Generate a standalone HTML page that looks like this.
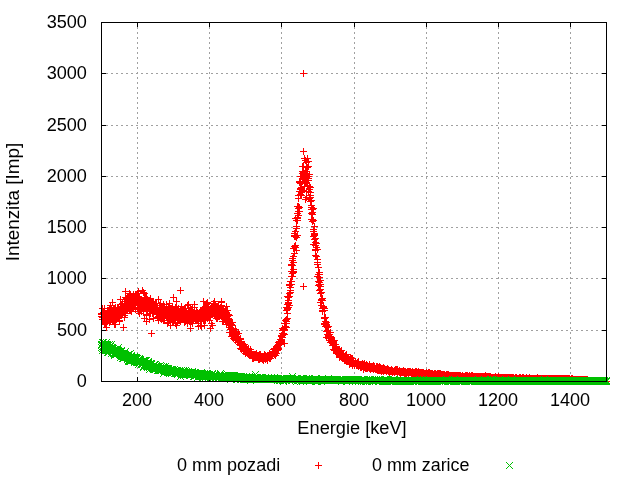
<!DOCTYPE html><html><head><meta charset="utf-8"><style>html,body{margin:0;padding:0;background:#fff;}
body{width:640px;height:480px;position:relative;overflow:hidden;font-family:"Liberation Sans",sans-serif;}
.t{will-change:transform;position:absolute;font-size:17.5px;line-height:20px;height:20px;color:#000;white-space:nowrap;}
.yl{right:553px;transform-origin:100% 50%;transform:scaleX(1.035);text-align:right;}
.xl{width:80px;text-align:center;transform:scaleX(1.03);}
svg{position:absolute;left:0;top:0;}</style></head><body><svg width="640" height="480" viewBox="0 0 640 480" shape-rendering="crispEdges"><path d="M137.5 22V381M209.5 22V381M281.5 22V381M354.5 22V381M426.5 22V381M498.5 22V381M570.5 22V381M101 330.5H606M101 278.5H606M101 227.5H606M101 176.5H606M101 125.5H606M101 73.5H606" stroke="#a0a0a0" stroke-width="1" stroke-dasharray="2 3" fill="none"/><path d="M137.5 381V377M137.5 23v4M209.5 381V377M209.5 23v4M281.5 381V377M281.5 23v4M354.5 381V377M354.5 23v4M426.5 381V377M426.5 23v4M498.5 381V377M498.5 23v4M570.5 381V377M570.5 23v4M102 330.5h4M606 330.5h-4M102 278.5h4M606 278.5h-4M102 227.5h4M606 227.5h-4M102 176.5h4M606 176.5h-4M102 125.5h4M606 125.5h-4M102 73.5h4M606 73.5h-4" stroke="#000" stroke-width="1" fill="none"/><path d="M98 314.5h7M101.5 311v7M98 313.5h7M101.5 310v7M98 316.5h7M101.5 313v7M99 319.5h7M102.5 316v7M99 317.5h7M102.5 314v7M99 319.5h7M102.5 316v7M99 314.5h7M102.5 311v7M99 308.5h7M102.5 305v7M99 317.5h7M102.5 314v7M100 317.5h7M103.5 314v7M100 312.5h7M103.5 309v7M100 313.5h7M103.5 310v7M100 314.5h7M103.5 311v7M100 319.5h7M103.5 316v7M101 315.5h7M104.5 312v7M101 308.5h7M104.5 305v7M101 321.5h7M104.5 318v7M101 317.5h7M104.5 314v7M101 324.5h7M104.5 321v7M101 321.5h7M104.5 318v7M102 323.5h7M105.5 320v7M102 316.5h7M105.5 313v7M102 321.5h7M105.5 318v7M102 313.5h7M105.5 310v7M102 314.5h7M105.5 311v7M103 315.5h7M106.5 312v7M103 327.5h7M106.5 324v7M103 317.5h7M106.5 314v7M103 315.5h7M106.5 312v7M103 314.5h7M106.5 311v7M103 322.5h7M106.5 319v7M104 317.5h7M107.5 314v7M104 319.5h7M107.5 316v7M104 319.5h7M107.5 316v7M104 310.5h7M107.5 307v7M104 319.5h7M107.5 316v7M104 315.5h7M107.5 312v7M105 310.5h7M108.5 307v7M105 318.5h7M108.5 315v7M105 315.5h7M108.5 312v7M105 314.5h7M108.5 311v7M105 314.5h7M108.5 311v7M106 321.5h7M109.5 318v7M106 314.5h7M109.5 311v7M106 308.5h7M109.5 305v7M106 322.5h7M109.5 319v7M106 311.5h7M109.5 308v7M106 314.5h7M109.5 311v7M107 318.5h7M110.5 315v7M107 305.5h7M110.5 302v7M107 311.5h7M110.5 308v7M107 321.5h7M110.5 318v7M107 314.5h7M110.5 311v7M108 312.5h7M111.5 309v7M108 316.5h7M111.5 313v7M108 311.5h7M111.5 308v7M108 315.5h7M111.5 312v7M108 312.5h7M111.5 309v7M108 308.5h7M111.5 305v7M109 318.5h7M112.5 315v7M109 314.5h7M112.5 311v7M109 317.5h7M112.5 314v7M109 314.5h7M112.5 311v7M109 320.5h7M112.5 317v7M110 317.5h7M113.5 314v7M110 316.5h7M113.5 313v7M110 310.5h7M113.5 307v7M110 309.5h7M113.5 306v7M110 321.5h7M113.5 318v7M110 318.5h7M113.5 315v7M111 311.5h7M114.5 308v7M111 324.5h7M114.5 321v7M111 317.5h7M114.5 314v7M111 315.5h7M114.5 312v7M111 308.5h7M114.5 305v7M112 311.5h7M115.5 308v7M112 316.5h7M115.5 313v7M112 316.5h7M115.5 313v7M112 315.5h7M115.5 312v7M112 307.5h7M115.5 304v7M112 316.5h7M115.5 313v7M113 317.5h7M116.5 314v7M113 310.5h7M116.5 307v7M113 314.5h7M116.5 311v7M113 314.5h7M116.5 311v7M113 319.5h7M116.5 316v7M114 313.5h7M117.5 310v7M114 315.5h7M117.5 312v7M114 307.5h7M117.5 304v7M114 309.5h7M117.5 306v7M114 313.5h7M117.5 310v7M114 309.5h7M117.5 306v7M115 314.5h7M118.5 311v7M115 307.5h7M118.5 304v7M115 312.5h7M118.5 309v7M115 309.5h7M118.5 306v7M115 318.5h7M118.5 315v7M115 310.5h7M118.5 307v7M116 320.5h7M119.5 317v7M116 321.5h7M119.5 318v7M116 313.5h7M119.5 310v7M116 315.5h7M119.5 312v7M116 310.5h7M119.5 307v7M117 299.5h7M120.5 296v7M117 315.5h7M120.5 312v7M117 313.5h7M120.5 310v7M117 309.5h7M120.5 306v7M117 307.5h7M120.5 304v7M117 311.5h7M120.5 308v7M118 311.5h7M121.5 308v7M118 306.5h7M121.5 303v7M118 304.5h7M121.5 301v7M118 314.5h7M121.5 311v7M118 309.5h7M121.5 306v7M119 308.5h7M122.5 305v7M119 314.5h7M122.5 311v7M119 307.5h7M122.5 304v7M119 312.5h7M122.5 309v7M119 303.5h7M122.5 300v7M119 306.5h7M122.5 303v7M120 307.5h7M123.5 304v7M120 310.5h7M123.5 307v7M120 307.5h7M123.5 304v7M120 327.5h7M123.5 324v7M120 312.5h7M123.5 309v7M121 304.5h7M124.5 301v7M121 317.5h7M124.5 314v7M121 301.5h7M124.5 298v7M121 315.5h7M124.5 312v7M121 301.5h7M124.5 298v7M121 310.5h7M124.5 307v7M122 301.5h7M125.5 298v7M122 304.5h7M125.5 301v7M122 313.5h7M125.5 310v7M122 291.5h7M125.5 288v7M122 297.5h7M125.5 294v7M123 305.5h7M126.5 302v7M123 306.5h7M126.5 303v7M123 305.5h7M126.5 302v7M123 309.5h7M126.5 306v7M123 298.5h7M126.5 295v7M123 307.5h7M126.5 304v7M124 304.5h7M127.5 301v7M124 308.5h7M127.5 305v7M124 307.5h7M127.5 304v7M124 310.5h7M127.5 307v7M124 297.5h7M127.5 294v7M125 304.5h7M128.5 301v7M125 298.5h7M128.5 295v7M125 303.5h7M128.5 300v7M125 307.5h7M128.5 304v7M125 305.5h7M128.5 302v7M125 306.5h7M128.5 303v7M126 303.5h7M129.5 300v7M126 305.5h7M129.5 302v7M126 304.5h7M129.5 301v7M126 310.5h7M129.5 307v7M126 307.5h7M129.5 304v7M126 293.5h7M129.5 290v7M127 306.5h7M130.5 303v7M127 308.5h7M130.5 305v7M127 300.5h7M130.5 297v7M127 294.5h7M130.5 291v7M127 310.5h7M130.5 307v7M128 303.5h7M131.5 300v7M128 305.5h7M131.5 302v7M128 311.5h7M131.5 308v7M128 298.5h7M131.5 295v7M128 302.5h7M131.5 299v7M128 301.5h7M131.5 298v7M129 306.5h7M132.5 303v7M129 299.5h7M132.5 296v7M129 305.5h7M132.5 302v7M129 302.5h7M132.5 299v7M129 308.5h7M132.5 305v7M130 308.5h7M133.5 305v7M130 294.5h7M133.5 291v7M130 304.5h7M133.5 301v7M130 300.5h7M133.5 297v7M130 302.5h7M133.5 299v7M130 304.5h7M133.5 301v7M131 304.5h7M134.5 301v7M131 298.5h7M134.5 295v7M131 303.5h7M134.5 300v7M131 302.5h7M134.5 299v7M131 301.5h7M134.5 298v7M132 295.5h7M135.5 292v7M132 298.5h7M135.5 295v7M132 299.5h7M135.5 296v7M132 304.5h7M135.5 301v7M132 309.5h7M135.5 306v7M132 296.5h7M135.5 293v7M133 296.5h7M136.5 293v7M133 302.5h7M136.5 299v7M133 295.5h7M136.5 292v7M133 297.5h7M136.5 294v7M133 297.5h7M136.5 294v7M134 296.5h7M137.5 293v7M134 304.5h7M137.5 301v7M134 293.5h7M137.5 290v7M134 308.5h7M137.5 305v7M134 297.5h7M137.5 294v7M134 299.5h7M137.5 296v7M135 297.5h7M138.5 294v7M135 291.5h7M138.5 288v7M135 293.5h7M138.5 290v7M135 308.5h7M138.5 305v7M135 311.5h7M138.5 308v7M136 297.5h7M139.5 294v7M136 307.5h7M139.5 304v7M136 302.5h7M139.5 299v7M136 297.5h7M139.5 294v7M136 311.5h7M139.5 308v7M136 313.5h7M139.5 310v7M137 300.5h7M140.5 297v7M137 301.5h7M140.5 298v7M137 303.5h7M140.5 300v7M137 301.5h7M140.5 298v7M137 306.5h7M140.5 303v7M137 310.5h7M140.5 307v7M138 303.5h7M141.5 300v7M138 307.5h7M141.5 304v7M138 311.5h7M141.5 308v7M138 299.5h7M141.5 296v7M138 302.5h7M141.5 299v7M139 300.5h7M142.5 297v7M139 307.5h7M142.5 304v7M139 306.5h7M142.5 303v7M139 308.5h7M142.5 305v7M139 307.5h7M142.5 304v7M139 301.5h7M142.5 298v7M140 307.5h7M143.5 304v7M140 300.5h7M143.5 297v7M140 301.5h7M143.5 298v7M140 292.5h7M143.5 289v7M140 310.5h7M143.5 307v7M141 293.5h7M144.5 290v7M141 303.5h7M144.5 300v7M141 303.5h7M144.5 300v7M141 318.5h7M144.5 315v7M141 305.5h7M144.5 302v7M141 299.5h7M144.5 296v7M142 303.5h7M145.5 300v7M142 303.5h7M145.5 300v7M142 305.5h7M145.5 302v7M142 297.5h7M145.5 294v7M142 303.5h7M145.5 300v7M143 315.5h7M146.5 312v7M143 307.5h7M146.5 304v7M143 314.5h7M146.5 311v7M143 321.5h7M146.5 318v7M143 310.5h7M146.5 307v7M143 297.5h7M146.5 294v7M144 304.5h7M147.5 301v7M144 311.5h7M147.5 308v7M144 309.5h7M147.5 306v7M144 299.5h7M147.5 296v7M144 304.5h7M147.5 301v7M145 305.5h7M148.5 302v7M145 305.5h7M148.5 302v7M145 305.5h7M148.5 302v7M145 301.5h7M148.5 298v7M145 302.5h7M148.5 299v7M145 304.5h7M148.5 301v7M146 311.5h7M149.5 308v7M146 303.5h7M149.5 300v7M146 309.5h7M149.5 306v7M146 300.5h7M149.5 297v7M146 319.5h7M149.5 316v7M147 307.5h7M150.5 304v7M147 306.5h7M150.5 303v7M147 313.5h7M150.5 310v7M147 298.5h7M150.5 295v7M147 299.5h7M150.5 296v7M147 309.5h7M150.5 306v7M148 303.5h7M151.5 300v7M148 305.5h7M151.5 302v7M148 333.5h7M151.5 330v7M148 306.5h7M151.5 303v7M148 308.5h7M151.5 305v7M149 307.5h7M152.5 304v7M149 313.5h7M152.5 310v7M149 309.5h7M152.5 306v7M149 309.5h7M152.5 306v7M149 302.5h7M152.5 299v7M149 307.5h7M152.5 304v7M150 309.5h7M153.5 306v7M150 301.5h7M153.5 298v7M150 312.5h7M153.5 309v7M150 311.5h7M153.5 308v7M150 318.5h7M153.5 315v7M150 301.5h7M153.5 298v7M151 304.5h7M154.5 301v7M151 305.5h7M154.5 302v7M151 306.5h7M154.5 303v7M151 309.5h7M154.5 306v7M151 309.5h7M154.5 306v7M152 311.5h7M155.5 308v7M152 311.5h7M155.5 308v7M152 310.5h7M155.5 307v7M152 303.5h7M155.5 300v7M152 308.5h7M155.5 305v7M152 311.5h7M155.5 308v7M153 314.5h7M156.5 311v7M153 314.5h7M156.5 311v7M153 303.5h7M156.5 300v7M153 308.5h7M156.5 305v7M153 311.5h7M156.5 308v7M154 313.5h7M157.5 310v7M154 317.5h7M157.5 314v7M154 312.5h7M157.5 309v7M154 307.5h7M157.5 304v7M154 313.5h7M157.5 310v7M154 313.5h7M157.5 310v7M155 313.5h7M158.5 310v7M155 311.5h7M158.5 308v7M155 320.5h7M158.5 317v7M155 313.5h7M158.5 310v7M155 316.5h7M158.5 313v7M156 308.5h7M159.5 305v7M156 316.5h7M159.5 313v7M156 310.5h7M159.5 307v7M156 305.5h7M159.5 302v7M156 314.5h7M159.5 311v7M156 316.5h7M159.5 313v7M157 312.5h7M160.5 309v7M157 313.5h7M160.5 310v7M157 318.5h7M160.5 315v7M157 311.5h7M160.5 308v7M157 303.5h7M160.5 300v7M158 314.5h7M161.5 311v7M158 314.5h7M161.5 311v7M158 318.5h7M161.5 315v7M158 312.5h7M161.5 309v7M158 319.5h7M161.5 316v7M158 319.5h7M161.5 316v7M159 307.5h7M162.5 304v7M159 318.5h7M162.5 315v7M159 308.5h7M162.5 305v7M159 306.5h7M162.5 303v7M159 312.5h7M162.5 309v7M160 311.5h7M163.5 308v7M160 304.5h7M163.5 301v7M160 314.5h7M163.5 311v7M160 316.5h7M163.5 313v7M160 320.5h7M163.5 317v7M160 313.5h7M163.5 310v7M161 306.5h7M164.5 303v7M161 309.5h7M164.5 306v7M161 318.5h7M164.5 315v7M161 318.5h7M164.5 315v7M161 316.5h7M164.5 313v7M161 312.5h7M164.5 309v7M162 314.5h7M165.5 311v7M162 312.5h7M165.5 309v7M162 312.5h7M165.5 309v7M162 315.5h7M165.5 312v7M162 314.5h7M165.5 311v7M163 312.5h7M166.5 309v7M163 314.5h7M166.5 311v7M163 311.5h7M166.5 308v7M163 304.5h7M166.5 301v7M163 311.5h7M166.5 308v7M163 313.5h7M166.5 310v7M164 322.5h7M167.5 319v7M164 312.5h7M167.5 309v7M164 323.5h7M167.5 320v7M164 320.5h7M167.5 317v7M164 309.5h7M167.5 306v7M165 307.5h7M168.5 304v7M165 314.5h7M168.5 311v7M165 322.5h7M168.5 319v7M165 315.5h7M168.5 312v7M165 317.5h7M168.5 314v7M165 311.5h7M168.5 308v7M166 303.5h7M169.5 300v7M166 313.5h7M169.5 310v7M166 318.5h7M169.5 315v7M166 319.5h7M169.5 316v7M166 314.5h7M169.5 311v7M167 315.5h7M170.5 312v7M167 325.5h7M170.5 322v7M167 313.5h7M170.5 310v7M167 319.5h7M170.5 316v7M167 308.5h7M170.5 305v7M167 309.5h7M170.5 306v7M168 308.5h7M171.5 305v7M168 316.5h7M171.5 313v7M168 311.5h7M171.5 308v7M168 314.5h7M171.5 311v7M168 316.5h7M171.5 313v7M169 315.5h7M172.5 312v7M169 320.5h7M172.5 317v7M169 321.5h7M172.5 318v7M169 306.5h7M172.5 303v7M169 315.5h7M172.5 312v7M169 313.5h7M172.5 310v7M170 309.5h7M173.5 306v7M170 322.5h7M173.5 319v7M170 317.5h7M173.5 314v7M170 313.5h7M173.5 310v7M170 312.5h7M173.5 309v7M171 315.5h7M174.5 312v7M171 309.5h7M174.5 306v7M171 313.5h7M174.5 310v7M171 320.5h7M174.5 317v7M171 318.5h7M174.5 315v7M171 310.5h7M174.5 307v7M172 311.5h7M175.5 308v7M172 323.5h7M175.5 320v7M172 307.5h7M175.5 304v7M172 311.5h7M175.5 308v7M172 307.5h7M175.5 304v7M172 315.5h7M175.5 312v7M173 316.5h7M176.5 313v7M173 325.5h7M176.5 322v7M173 301.5h7M176.5 298v7M173 314.5h7M176.5 311v7M173 306.5h7M176.5 303v7M174 317.5h7M177.5 314v7M174 313.5h7M177.5 310v7M174 322.5h7M177.5 319v7M174 315.5h7M177.5 312v7M174 309.5h7M177.5 306v7M174 320.5h7M177.5 317v7M175 308.5h7M178.5 305v7M175 312.5h7M178.5 309v7M175 319.5h7M178.5 316v7M175 316.5h7M178.5 313v7M175 318.5h7M178.5 315v7M176 314.5h7M179.5 311v7M176 316.5h7M179.5 313v7M176 317.5h7M179.5 314v7M176 315.5h7M179.5 312v7M176 318.5h7M179.5 315v7M176 320.5h7M179.5 317v7M177 314.5h7M180.5 311v7M177 309.5h7M180.5 306v7M177 321.5h7M180.5 318v7M177 313.5h7M180.5 310v7M177 317.5h7M180.5 314v7M178 318.5h7M181.5 315v7M178 309.5h7M181.5 306v7M178 316.5h7M181.5 313v7M178 306.5h7M181.5 303v7M178 317.5h7M181.5 314v7M178 311.5h7M181.5 308v7M179 314.5h7M182.5 311v7M179 317.5h7M182.5 314v7M179 311.5h7M182.5 308v7M179 314.5h7M182.5 311v7M179 310.5h7M182.5 307v7M180 314.5h7M183.5 311v7M180 319.5h7M183.5 316v7M180 314.5h7M183.5 311v7M180 313.5h7M183.5 310v7M180 309.5h7M183.5 306v7M180 318.5h7M183.5 315v7M181 314.5h7M184.5 311v7M181 322.5h7M184.5 319v7M181 310.5h7M184.5 307v7M181 319.5h7M184.5 316v7M181 322.5h7M184.5 319v7M182 314.5h7M185.5 311v7M182 308.5h7M185.5 305v7M182 321.5h7M185.5 318v7M182 319.5h7M185.5 316v7M182 317.5h7M185.5 314v7M182 319.5h7M185.5 316v7M183 312.5h7M186.5 309v7M183 318.5h7M186.5 315v7M183 317.5h7M186.5 314v7M183 311.5h7M186.5 308v7M183 317.5h7M186.5 314v7M183 312.5h7M186.5 309v7M184 318.5h7M187.5 315v7M184 320.5h7M187.5 317v7M184 323.5h7M187.5 320v7M184 305.5h7M187.5 302v7M184 315.5h7M187.5 312v7M185 313.5h7M188.5 310v7M185 314.5h7M188.5 311v7M185 313.5h7M188.5 310v7M185 313.5h7M188.5 310v7M185 304.5h7M188.5 301v7M185 319.5h7M188.5 316v7M186 321.5h7M189.5 318v7M186 319.5h7M189.5 316v7M186 320.5h7M189.5 317v7M186 310.5h7M189.5 307v7M186 310.5h7M189.5 307v7M187 323.5h7M190.5 320v7M187 321.5h7M190.5 318v7M187 316.5h7M190.5 313v7M187 307.5h7M190.5 304v7M187 328.5h7M190.5 325v7M187 311.5h7M190.5 308v7M188 319.5h7M191.5 316v7M188 309.5h7M191.5 306v7M188 319.5h7M191.5 316v7M188 315.5h7M191.5 312v7M188 321.5h7M191.5 318v7M189 318.5h7M192.5 315v7M189 307.5h7M192.5 304v7M189 310.5h7M192.5 307v7M189 316.5h7M192.5 313v7M189 318.5h7M192.5 315v7M189 323.5h7M192.5 320v7M190 316.5h7M193.5 313v7M190 314.5h7M193.5 311v7M190 314.5h7M193.5 311v7M190 314.5h7M193.5 311v7M190 319.5h7M193.5 316v7M191 314.5h7M194.5 311v7M191 314.5h7M194.5 311v7M191 307.5h7M194.5 304v7M191 304.5h7M194.5 301v7M191 314.5h7M194.5 311v7M191 317.5h7M194.5 314v7M192 314.5h7M195.5 311v7M192 316.5h7M195.5 313v7M192 317.5h7M195.5 314v7M192 314.5h7M195.5 311v7M192 319.5h7M195.5 316v7M193 310.5h7M196.5 307v7M193 314.5h7M196.5 311v7M193 312.5h7M196.5 309v7M193 315.5h7M196.5 312v7M193 320.5h7M196.5 317v7M193 318.5h7M196.5 315v7M194 315.5h7M197.5 312v7M194 316.5h7M197.5 313v7M194 312.5h7M197.5 309v7M194 313.5h7M197.5 310v7M194 320.5h7M197.5 317v7M194 313.5h7M197.5 310v7M195 326.5h7M198.5 323v7M195 316.5h7M198.5 313v7M195 315.5h7M198.5 312v7M195 323.5h7M198.5 320v7M195 313.5h7M198.5 310v7M196 312.5h7M199.5 309v7M196 314.5h7M199.5 311v7M196 315.5h7M199.5 312v7M196 315.5h7M199.5 312v7M196 318.5h7M199.5 315v7M196 314.5h7M199.5 311v7M197 316.5h7M200.5 313v7M197 313.5h7M200.5 310v7M197 325.5h7M200.5 322v7M197 312.5h7M200.5 309v7M197 312.5h7M200.5 309v7M198 314.5h7M201.5 311v7M198 315.5h7M201.5 312v7M198 310.5h7M201.5 307v7M198 321.5h7M201.5 318v7M198 311.5h7M201.5 308v7M198 312.5h7M201.5 309v7M199 311.5h7M202.5 308v7M199 311.5h7M202.5 308v7M199 316.5h7M202.5 313v7M199 314.5h7M202.5 311v7M199 310.5h7M202.5 307v7M200 308.5h7M203.5 305v7M200 312.5h7M203.5 309v7M200 320.5h7M203.5 317v7M200 310.5h7M203.5 307v7M200 307.5h7M203.5 304v7M200 308.5h7M203.5 305v7M201 311.5h7M204.5 308v7M201 320.5h7M204.5 317v7M201 308.5h7M204.5 305v7M201 313.5h7M204.5 310v7M201 325.5h7M204.5 322v7M202 310.5h7M205.5 307v7M202 320.5h7M205.5 317v7M202 319.5h7M205.5 316v7M202 315.5h7M205.5 312v7M202 306.5h7M205.5 303v7M202 314.5h7M205.5 311v7M203 311.5h7M206.5 308v7M203 303.5h7M206.5 300v7M203 304.5h7M206.5 301v7M203 313.5h7M206.5 310v7M203 313.5h7M206.5 310v7M204 318.5h7M207.5 315v7M204 315.5h7M207.5 312v7M204 310.5h7M207.5 307v7M204 310.5h7M207.5 307v7M204 311.5h7M207.5 308v7M204 302.5h7M207.5 299v7M205 316.5h7M208.5 313v7M205 312.5h7M208.5 309v7M205 308.5h7M208.5 305v7M205 309.5h7M208.5 306v7M205 306.5h7M208.5 303v7M205 310.5h7M208.5 307v7M206 313.5h7M209.5 310v7M206 310.5h7M209.5 307v7M206 317.5h7M209.5 314v7M206 320.5h7M209.5 317v7M206 309.5h7M209.5 306v7M207 312.5h7M210.5 309v7M207 310.5h7M210.5 307v7M207 328.5h7M210.5 325v7M207 313.5h7M210.5 310v7M207 314.5h7M210.5 311v7M207 316.5h7M210.5 313v7M208 323.5h7M211.5 320v7M208 313.5h7M211.5 310v7M208 307.5h7M211.5 304v7M208 309.5h7M211.5 306v7M208 314.5h7M211.5 311v7M209 311.5h7M212.5 308v7M209 308.5h7M212.5 305v7M209 325.5h7M212.5 322v7M209 312.5h7M212.5 309v7M209 309.5h7M212.5 306v7M209 308.5h7M212.5 305v7M210 303.5h7M213.5 300v7M210 305.5h7M213.5 302v7M210 310.5h7M213.5 307v7M210 310.5h7M213.5 307v7M210 307.5h7M213.5 304v7M211 314.5h7M214.5 311v7M211 311.5h7M214.5 308v7M211 307.5h7M214.5 304v7M211 301.5h7M214.5 298v7M211 312.5h7M214.5 309v7M211 311.5h7M214.5 308v7M212 310.5h7M215.5 307v7M212 304.5h7M215.5 301v7M212 311.5h7M215.5 308v7M212 304.5h7M215.5 301v7M212 316.5h7M215.5 313v7M213 312.5h7M216.5 309v7M213 313.5h7M216.5 310v7M213 307.5h7M216.5 304v7M213 306.5h7M216.5 303v7M213 318.5h7M216.5 315v7M213 315.5h7M216.5 312v7M214 309.5h7M217.5 306v7M214 314.5h7M217.5 311v7M214 318.5h7M217.5 315v7M214 306.5h7M217.5 303v7M214 308.5h7M217.5 305v7M215 308.5h7M218.5 305v7M215 313.5h7M218.5 310v7M215 306.5h7M218.5 303v7M215 312.5h7M218.5 309v7M215 306.5h7M218.5 303v7M215 316.5h7M218.5 313v7M216 316.5h7M219.5 313v7M216 310.5h7M219.5 307v7M216 315.5h7M219.5 312v7M216 308.5h7M219.5 305v7M216 310.5h7M219.5 307v7M216 316.5h7M219.5 313v7M217 311.5h7M220.5 308v7M217 314.5h7M220.5 311v7M217 307.5h7M220.5 304v7M217 315.5h7M220.5 312v7M217 314.5h7M220.5 311v7M218 306.5h7M221.5 303v7M218 301.5h7M221.5 298v7M218 302.5h7M221.5 299v7M218 312.5h7M221.5 309v7M218 311.5h7M221.5 308v7M218 305.5h7M221.5 302v7M219 314.5h7M222.5 311v7M219 318.5h7M222.5 315v7M219 312.5h7M222.5 309v7M219 311.5h7M222.5 308v7M219 321.5h7M222.5 318v7M220 321.5h7M223.5 318v7M220 321.5h7M223.5 318v7M220 310.5h7M223.5 307v7M220 321.5h7M223.5 318v7M220 315.5h7M223.5 312v7M220 313.5h7M223.5 310v7M221 311.5h7M224.5 308v7M221 316.5h7M224.5 313v7M221 312.5h7M224.5 309v7M221 319.5h7M224.5 316v7M221 317.5h7M224.5 314v7M222 320.5h7M225.5 317v7M222 310.5h7M225.5 307v7M222 316.5h7M225.5 313v7M222 319.5h7M225.5 316v7M222 318.5h7M225.5 315v7M222 317.5h7M225.5 314v7M223 313.5h7M226.5 310v7M223 324.5h7M226.5 321v7M223 322.5h7M226.5 319v7M223 319.5h7M226.5 316v7M223 306.5h7M226.5 303v7M224 314.5h7M227.5 311v7M224 319.5h7M227.5 316v7M224 316.5h7M227.5 313v7M224 310.5h7M227.5 307v7M224 321.5h7M227.5 318v7M224 322.5h7M227.5 319v7M225 315.5h7M228.5 312v7M225 319.5h7M228.5 316v7M225 318.5h7M228.5 315v7M225 324.5h7M228.5 321v7M225 314.5h7M228.5 311v7M226 315.5h7M229.5 312v7M226 320.5h7M229.5 317v7M226 320.5h7M229.5 317v7M226 332.5h7M229.5 329v7M226 321.5h7M229.5 318v7M226 325.5h7M229.5 322v7M227 323.5h7M230.5 320v7M227 322.5h7M230.5 319v7M227 327.5h7M230.5 324v7M227 332.5h7M230.5 329v7M227 325.5h7M230.5 322v7M227 329.5h7M230.5 326v7M228 328.5h7M231.5 325v7M228 329.5h7M231.5 326v7M228 329.5h7M231.5 326v7M228 336.5h7M231.5 333v7M228 324.5h7M231.5 321v7M229 328.5h7M232.5 325v7M229 325.5h7M232.5 322v7M229 322.5h7M232.5 319v7M229 329.5h7M232.5 326v7M229 336.5h7M232.5 333v7M229 333.5h7M232.5 330v7M230 335.5h7M233.5 332v7M230 332.5h7M233.5 329v7M230 331.5h7M233.5 328v7M230 338.5h7M233.5 335v7M230 331.5h7M233.5 328v7M231 337.5h7M234.5 334v7M231 331.5h7M234.5 328v7M231 333.5h7M234.5 330v7M231 334.5h7M234.5 331v7M231 334.5h7M234.5 331v7M231 335.5h7M234.5 332v7M232 336.5h7M235.5 333v7M232 340.5h7M235.5 337v7M232 335.5h7M235.5 332v7M232 329.5h7M235.5 326v7M232 329.5h7M235.5 326v7M233 331.5h7M236.5 328v7M233 334.5h7M236.5 331v7M233 338.5h7M236.5 335v7M233 332.5h7M236.5 329v7M233 337.5h7M236.5 334v7M233 337.5h7M236.5 334v7M234 338.5h7M237.5 335v7M234 338.5h7M237.5 335v7M234 339.5h7M237.5 336v7M234 339.5h7M237.5 336v7M234 342.5h7M237.5 339v7M235 340.5h7M238.5 337v7M235 333.5h7M238.5 330v7M235 340.5h7M238.5 337v7M235 341.5h7M238.5 338v7M235 339.5h7M238.5 336v7M235 339.5h7M238.5 336v7M236 344.5h7M239.5 341v7M236 342.5h7M239.5 339v7M236 339.5h7M239.5 336v7M236 341.5h7M239.5 338v7M236 342.5h7M239.5 339v7M237 338.5h7M240.5 335v7M237 344.5h7M240.5 341v7M237 342.5h7M240.5 339v7M237 344.5h7M240.5 341v7M237 339.5h7M240.5 336v7M237 348.5h7M240.5 345v7M238 345.5h7M241.5 342v7M238 345.5h7M241.5 342v7M238 343.5h7M241.5 340v7M238 343.5h7M241.5 340v7M238 341.5h7M241.5 338v7M238 349.5h7M241.5 346v7M239 344.5h7M242.5 341v7M239 346.5h7M242.5 343v7M239 347.5h7M242.5 344v7M239 345.5h7M242.5 342v7M239 348.5h7M242.5 345v7M240 351.5h7M243.5 348v7M240 348.5h7M243.5 345v7M240 350.5h7M243.5 347v7M240 349.5h7M243.5 346v7M240 347.5h7M243.5 344v7M240 347.5h7M243.5 344v7M241 344.5h7M244.5 341v7M241 348.5h7M244.5 345v7M241 351.5h7M244.5 348v7M241 350.5h7M244.5 347v7M241 350.5h7M244.5 347v7M242 351.5h7M245.5 348v7M242 348.5h7M245.5 345v7M242 350.5h7M245.5 347v7M242 353.5h7M245.5 350v7M242 346.5h7M245.5 343v7M242 349.5h7M245.5 346v7M243 349.5h7M246.5 346v7M243 349.5h7M246.5 346v7M243 348.5h7M246.5 345v7M243 350.5h7M246.5 347v7M243 348.5h7M246.5 345v7M244 349.5h7M247.5 346v7M244 349.5h7M247.5 346v7M244 350.5h7M247.5 347v7M244 353.5h7M247.5 350v7M244 351.5h7M247.5 348v7M244 351.5h7M247.5 348v7M245 351.5h7M248.5 348v7M245 354.5h7M248.5 351v7M245 348.5h7M248.5 345v7M245 351.5h7M248.5 348v7M245 354.5h7M248.5 351v7M246 355.5h7M249.5 352v7M246 352.5h7M249.5 349v7M246 352.5h7M249.5 349v7M246 353.5h7M249.5 350v7M246 352.5h7M249.5 349v7M246 353.5h7M249.5 350v7M247 351.5h7M250.5 348v7M247 354.5h7M250.5 351v7M247 353.5h7M250.5 350v7M247 351.5h7M250.5 348v7M247 349.5h7M250.5 346v7M248 355.5h7M251.5 352v7M248 354.5h7M251.5 351v7M248 355.5h7M251.5 352v7M248 352.5h7M251.5 349v7M248 355.5h7M251.5 352v7M248 354.5h7M251.5 351v7M249 354.5h7M252.5 351v7M249 355.5h7M252.5 352v7M249 355.5h7M252.5 352v7M249 355.5h7M252.5 352v7M249 358.5h7M252.5 355v7M249 357.5h7M252.5 354v7M250 355.5h7M253.5 352v7M250 354.5h7M253.5 351v7M250 355.5h7M253.5 352v7M250 358.5h7M253.5 355v7M250 356.5h7M253.5 353v7M251 354.5h7M254.5 351v7M251 354.5h7M254.5 351v7M251 355.5h7M254.5 352v7M251 357.5h7M254.5 354v7M251 355.5h7M254.5 352v7M251 356.5h7M254.5 353v7M252 357.5h7M255.5 354v7M252 357.5h7M255.5 354v7M252 354.5h7M255.5 351v7M252 355.5h7M255.5 352v7M252 354.5h7M255.5 351v7M253 357.5h7M256.5 354v7M253 355.5h7M256.5 352v7M253 357.5h7M256.5 354v7M253 356.5h7M256.5 353v7M253 353.5h7M256.5 350v7M253 355.5h7M256.5 352v7M254 357.5h7M257.5 354v7M254 357.5h7M257.5 354v7M254 356.5h7M257.5 353v7M254 355.5h7M257.5 352v7M254 357.5h7M257.5 354v7M255 359.5h7M258.5 356v7M255 358.5h7M258.5 355v7M255 357.5h7M258.5 354v7M255 357.5h7M258.5 354v7M255 355.5h7M258.5 352v7M255 356.5h7M258.5 353v7M256 356.5h7M259.5 353v7M256 359.5h7M259.5 356v7M256 356.5h7M259.5 353v7M256 354.5h7M259.5 351v7M256 356.5h7M259.5 353v7M257 357.5h7M260.5 354v7M257 357.5h7M260.5 354v7M257 354.5h7M260.5 351v7M257 358.5h7M260.5 355v7M257 357.5h7M260.5 354v7M257 356.5h7M260.5 353v7M258 356.5h7M261.5 353v7M258 358.5h7M261.5 355v7M258 357.5h7M261.5 354v7M258 358.5h7M261.5 355v7M258 357.5h7M261.5 354v7M259 357.5h7M262.5 354v7M259 359.5h7M262.5 356v7M259 357.5h7M262.5 354v7M259 356.5h7M262.5 353v7M259 359.5h7M262.5 356v7M259 358.5h7M262.5 355v7M260 356.5h7M263.5 353v7M260 359.5h7M263.5 356v7M260 357.5h7M263.5 354v7M260 360.5h7M263.5 357v7M260 356.5h7M263.5 353v7M261 354.5h7M264.5 351v7M261 354.5h7M264.5 351v7M261 358.5h7M264.5 355v7M261 356.5h7M264.5 353v7M261 357.5h7M264.5 354v7M261 357.5h7M264.5 354v7M262 355.5h7M265.5 352v7M262 359.5h7M265.5 356v7M262 356.5h7M265.5 353v7M262 357.5h7M265.5 354v7M262 355.5h7M265.5 352v7M262 357.5h7M265.5 354v7M263 358.5h7M266.5 355v7M263 357.5h7M266.5 354v7M263 356.5h7M266.5 353v7M263 357.5h7M266.5 354v7M263 356.5h7M266.5 353v7M264 357.5h7M267.5 354v7M264 360.5h7M267.5 357v7M264 355.5h7M267.5 352v7M264 356.5h7M267.5 353v7M264 356.5h7M267.5 353v7M264 356.5h7M267.5 353v7M265 355.5h7M268.5 352v7M265 357.5h7M268.5 354v7M265 357.5h7M268.5 354v7M265 357.5h7M268.5 354v7M265 355.5h7M268.5 352v7M266 358.5h7M269.5 355v7M266 353.5h7M269.5 350v7M266 357.5h7M269.5 354v7M266 358.5h7M269.5 355v7M266 354.5h7M269.5 351v7M266 356.5h7M269.5 353v7M267 358.5h7M270.5 355v7M267 356.5h7M270.5 353v7M267 354.5h7M270.5 351v7M267 354.5h7M270.5 351v7M267 356.5h7M270.5 353v7M268 355.5h7M271.5 352v7M268 354.5h7M271.5 351v7M268 356.5h7M271.5 353v7M268 354.5h7M271.5 351v7M268 355.5h7M271.5 352v7M268 355.5h7M271.5 352v7M269 355.5h7M272.5 352v7M269 354.5h7M272.5 351v7M269 354.5h7M272.5 351v7M269 355.5h7M272.5 352v7M269 354.5h7M272.5 351v7M270 352.5h7M273.5 349v7M270 353.5h7M273.5 350v7M270 352.5h7M273.5 349v7M270 351.5h7M273.5 348v7M270 352.5h7M273.5 349v7M270 349.5h7M273.5 346v7M271 354.5h7M274.5 351v7M271 351.5h7M274.5 348v7M271 352.5h7M274.5 349v7M271 348.5h7M274.5 345v7M271 348.5h7M274.5 345v7M272 355.5h7M275.5 352v7M272 353.5h7M275.5 350v7M272 349.5h7M275.5 346v7M272 349.5h7M275.5 346v7M272 349.5h7M275.5 346v7M272 350.5h7M275.5 347v7M273 349.5h7M276.5 346v7M273 348.5h7M276.5 345v7M273 349.5h7M276.5 346v7M273 347.5h7M276.5 344v7M273 353.5h7M276.5 350v7M273 347.5h7M276.5 344v7M274 350.5h7M277.5 347v7M274 346.5h7M277.5 343v7M274 348.5h7M277.5 345v7M274 349.5h7M277.5 346v7M274 346.5h7M277.5 343v7M275 348.5h7M278.5 345v7M275 348.5h7M278.5 345v7M275 349.5h7M278.5 346v7M275 345.5h7M278.5 342v7M275 344.5h7M278.5 341v7M275 342.5h7M278.5 339v7M276 344.5h7M279.5 341v7M276 341.5h7M279.5 338v7M276 343.5h7M279.5 340v7M276 343.5h7M279.5 340v7M276 341.5h7M279.5 338v7M277 339.5h7M280.5 336v7M277 342.5h7M280.5 339v7M277 341.5h7M280.5 338v7M277 341.5h7M280.5 338v7M277 339.5h7M280.5 336v7M277 344.5h7M280.5 341v7M278 336.5h7M281.5 333v7M278 339.5h7M281.5 336v7M278 336.5h7M281.5 333v7M278 340.5h7M281.5 337v7M278 335.5h7M281.5 332v7M279 335.5h7M282.5 332v7M279 337.5h7M282.5 334v7M279 328.5h7M282.5 325v7M279 333.5h7M282.5 330v7M279 328.5h7M282.5 325v7M279 330.5h7M282.5 327v7M280 334.5h7M283.5 331v7M280 333.5h7M283.5 330v7M280 329.5h7M283.5 326v7M280 330.5h7M283.5 327v7M280 329.5h7M283.5 326v7M281 329.5h7M284.5 326v7M281 334.5h7M284.5 331v7M281 327.5h7M284.5 324v7M281 343.5h7M284.5 340v7M281 323.5h7M284.5 320v7M281 330.5h7M284.5 327v7M282 326.5h7M285.5 323v7M282 323.5h7M285.5 320v7M282 320.5h7M285.5 317v7M282 326.5h7M285.5 323v7M282 327.5h7M285.5 324v7M283 323.5h7M286.5 320v7M283 327.5h7M286.5 324v7M283 321.5h7M286.5 318v7M283 307.5h7M286.5 304v7M283 319.5h7M286.5 316v7M283 310.5h7M286.5 307v7M284 318.5h7M287.5 315v7M284 309.5h7M287.5 306v7M284 313.5h7M287.5 310v7M284 308.5h7M287.5 305v7M284 304.5h7M287.5 301v7M284 296.5h7M287.5 293v7M285 303.5h7M288.5 300v7M285 302.5h7M288.5 299v7M285 307.5h7M288.5 304v7M285 297.5h7M288.5 294v7M285 300.5h7M288.5 297v7M286 293.5h7M289.5 290v7M286 296.5h7M289.5 293v7M286 284.5h7M289.5 281v7M286 305.5h7M289.5 302v7M286 293.5h7M289.5 290v7M286 285.5h7M289.5 282v7M287 290.5h7M290.5 287v7M287 292.5h7M290.5 289v7M287 287.5h7M290.5 284v7M287 292.5h7M290.5 289v7M287 281.5h7M290.5 278v7M288 264.5h7M291.5 261v7M288 271.5h7M291.5 268v7M288 284.5h7M291.5 281v7M288 281.5h7M291.5 278v7M288 276.5h7M291.5 273v7M288 265.5h7M291.5 262v7M289 276.5h7M292.5 273v7M289 273.5h7M292.5 270v7M289 260.5h7M292.5 257v7M289 258.5h7M292.5 255v7M289 265.5h7M292.5 262v7M290 269.5h7M293.5 266v7M290 271.5h7M293.5 268v7M290 262.5h7M293.5 259v7M290 272.5h7M293.5 269v7M290 248.5h7M293.5 245v7M290 256.5h7M293.5 253v7M291 246.5h7M294.5 243v7M291 233.5h7M294.5 230v7M291 236.5h7M294.5 233v7M291 253.5h7M294.5 250v7M291 235.5h7M294.5 232v7M292 231.5h7M295.5 228v7M292 245.5h7M295.5 242v7M292 245.5h7M295.5 242v7M292 236.5h7M295.5 233v7M292 247.5h7M295.5 244v7M292 218.5h7M295.5 215v7M293 250.5h7M296.5 247v7M293 237.5h7M296.5 234v7M293 228.5h7M296.5 225v7M293 226.5h7M296.5 223v7M293 220.5h7M296.5 217v7M294 217.5h7M297.5 214v7M294 220.5h7M297.5 217v7M294 206.5h7M297.5 203v7M294 235.5h7M297.5 232v7M294 213.5h7M297.5 210v7M294 218.5h7M297.5 215v7M295 208.5h7M298.5 205v7M295 206.5h7M298.5 203v7M295 215.5h7M298.5 212v7M295 211.5h7M298.5 208v7M295 195.5h7M298.5 192v7M295 198.5h7M298.5 195v7M296 207.5h7M299.5 204v7M296 182.5h7M299.5 179v7M296 181.5h7M299.5 178v7M296 211.5h7M299.5 208v7M296 191.5h7M299.5 188v7M297 176.5h7M300.5 173v7M297 183.5h7M300.5 180v7M297 188.5h7M300.5 185v7M297 191.5h7M300.5 188v7M297 194.5h7M300.5 191v7M297 189.5h7M300.5 186v7M298 192.5h7M301.5 189v7M298 176.5h7M301.5 173v7M298 188.5h7M301.5 185v7M298 187.5h7M301.5 184v7M298 195.5h7M301.5 192v7M299 181.5h7M302.5 178v7M299 190.5h7M302.5 187v7M299 181.5h7M302.5 178v7M299 166.5h7M302.5 163v7M299 173.5h7M302.5 170v7M299 171.5h7M302.5 168v7M300 172.5h7M303.5 169v7M300 175.5h7M303.5 172v7M300 177.5h7M303.5 174v7M300 178.5h7M303.5 175v7M300 166.5h7M303.5 163v7M301 186.5h7M304.5 183v7M301 158.5h7M304.5 155v7M301 173.5h7M304.5 170v7M301 182.5h7M304.5 179v7M301 179.5h7M304.5 176v7M301 181.5h7M304.5 178v7M302 171.5h7M305.5 168v7M302 181.5h7M305.5 178v7M302 160.5h7M305.5 157v7M302 182.5h7M305.5 179v7M302 199.5h7M305.5 196v7M303 182.5h7M306.5 179v7M303 197.5h7M306.5 194v7M303 175.5h7M306.5 172v7M303 162.5h7M306.5 159v7M303 167.5h7M306.5 164v7M303 191.5h7M306.5 188v7M304 185.5h7M307.5 182v7M304 158.5h7M307.5 155v7M304 174.5h7M307.5 171v7M304 178.5h7M307.5 175v7M304 167.5h7M307.5 164v7M305 161.5h7M308.5 158v7M305 166.5h7M308.5 163v7M305 180.5h7M308.5 177v7M305 178.5h7M308.5 175v7M305 176.5h7M308.5 173v7M305 191.5h7M308.5 188v7M306 197.5h7M309.5 194v7M306 186.5h7M309.5 183v7M306 198.5h7M309.5 195v7M306 189.5h7M309.5 186v7M306 189.5h7M309.5 186v7M306 174.5h7M309.5 171v7M307 201.5h7M310.5 198v7M307 195.5h7M310.5 192v7M307 197.5h7M310.5 194v7M307 192.5h7M310.5 189v7M307 187.5h7M310.5 184v7M308 205.5h7M311.5 202v7M308 209.5h7M311.5 206v7M308 219.5h7M311.5 216v7M308 213.5h7M311.5 210v7M308 200.5h7M311.5 197v7M308 207.5h7M311.5 204v7M309 219.5h7M312.5 216v7M309 214.5h7M312.5 211v7M309 212.5h7M312.5 209v7M309 209.5h7M312.5 206v7M309 221.5h7M312.5 218v7M310 220.5h7M313.5 217v7M310 236.5h7M313.5 233v7M310 231.5h7M313.5 228v7M310 208.5h7M313.5 205v7M310 244.5h7M313.5 241v7M310 229.5h7M313.5 226v7M311 226.5h7M314.5 223v7M311 233.5h7M314.5 230v7M311 239.5h7M314.5 236v7M311 234.5h7M314.5 231v7M311 235.5h7M314.5 232v7M312 238.5h7M315.5 235v7M312 255.5h7M315.5 252v7M312 242.5h7M315.5 239v7M312 250.5h7M315.5 247v7M312 249.5h7M315.5 246v7M312 245.5h7M315.5 242v7M313 243.5h7M316.5 240v7M313 243.5h7M316.5 240v7M313 256.5h7M316.5 253v7M313 247.5h7M316.5 244v7M313 247.5h7M316.5 244v7M314 249.5h7M317.5 246v7M314 249.5h7M317.5 246v7M314 262.5h7M317.5 259v7M314 264.5h7M317.5 261v7M314 259.5h7M317.5 256v7M314 276.5h7M317.5 273v7M315 267.5h7M318.5 264v7M315 274.5h7M318.5 271v7M315 274.5h7M318.5 271v7M315 285.5h7M318.5 282v7M315 281.5h7M318.5 278v7M316 277.5h7M319.5 274v7M316 272.5h7M319.5 269v7M316 274.5h7M319.5 271v7M316 282.5h7M319.5 279v7M316 284.5h7M319.5 281v7M316 290.5h7M319.5 287v7M317 284.5h7M320.5 281v7M317 289.5h7M320.5 286v7M317 286.5h7M320.5 283v7M317 280.5h7M320.5 277v7M317 293.5h7M320.5 290v7M317 302.5h7M320.5 299v7M318 300.5h7M321.5 297v7M318 305.5h7M321.5 302v7M318 305.5h7M321.5 302v7M318 292.5h7M321.5 289v7M318 299.5h7M321.5 296v7M319 310.5h7M322.5 307v7M319 300.5h7M322.5 297v7M319 298.5h7M322.5 295v7M319 308.5h7M322.5 305v7M319 311.5h7M322.5 308v7M319 310.5h7M322.5 307v7M320 308.5h7M323.5 305v7M320 307.5h7M323.5 304v7M320 306.5h7M323.5 303v7M320 307.5h7M323.5 304v7M320 308.5h7M323.5 305v7M321 308.5h7M324.5 305v7M321 310.5h7M324.5 307v7M321 324.5h7M324.5 321v7M321 318.5h7M324.5 315v7M321 317.5h7M324.5 314v7M321 323.5h7M324.5 320v7M322 317.5h7M325.5 314v7M322 323.5h7M325.5 320v7M322 326.5h7M325.5 323v7M322 317.5h7M325.5 314v7M322 321.5h7M325.5 318v7M323 324.5h7M326.5 321v7M323 322.5h7M326.5 319v7M323 322.5h7M326.5 319v7M323 325.5h7M326.5 322v7M323 337.5h7M326.5 334v7M323 331.5h7M326.5 328v7M324 331.5h7M327.5 328v7M324 334.5h7M327.5 331v7M324 330.5h7M327.5 327v7M324 327.5h7M327.5 324v7M324 334.5h7M327.5 331v7M325 336.5h7M328.5 333v7M325 326.5h7M328.5 323v7M325 335.5h7M328.5 332v7M325 338.5h7M328.5 335v7M325 334.5h7M328.5 331v7M325 334.5h7M328.5 331v7M326 338.5h7M329.5 335v7M326 334.5h7M329.5 331v7M326 338.5h7M329.5 335v7M326 340.5h7M329.5 337v7M326 337.5h7M329.5 334v7M327 336.5h7M330.5 333v7M327 340.5h7M330.5 337v7M327 338.5h7M330.5 335v7M327 340.5h7M330.5 337v7M327 332.5h7M330.5 329v7M327 342.5h7M330.5 339v7M328 337.5h7M331.5 334v7M328 341.5h7M331.5 338v7M328 342.5h7M331.5 339v7M328 340.5h7M331.5 337v7M328 340.5h7M331.5 337v7M328 339.5h7M331.5 336v7M329 342.5h7M332.5 339v7M329 345.5h7M332.5 342v7M329 345.5h7M332.5 342v7M329 343.5h7M332.5 340v7M329 343.5h7M332.5 340v7M330 341.5h7M333.5 338v7M330 344.5h7M333.5 341v7M330 343.5h7M333.5 340v7M330 342.5h7M333.5 339v7M330 345.5h7M333.5 342v7M330 349.5h7M333.5 346v7M331 349.5h7M334.5 346v7M331 350.5h7M334.5 347v7M331 340.5h7M334.5 337v7M331 349.5h7M334.5 346v7M331 344.5h7M334.5 341v7M332 346.5h7M335.5 343v7M332 344.5h7M335.5 341v7M332 346.5h7M335.5 343v7M332 348.5h7M335.5 345v7M332 349.5h7M335.5 346v7M332 348.5h7M335.5 345v7M333 348.5h7M336.5 345v7M333 350.5h7M336.5 347v7M333 349.5h7M336.5 346v7M333 346.5h7M336.5 343v7M333 353.5h7M336.5 350v7M334 349.5h7M337.5 346v7M334 352.5h7M337.5 349v7M334 350.5h7M337.5 347v7M334 349.5h7M337.5 346v7M334 351.5h7M337.5 348v7M334 350.5h7M337.5 347v7M335 354.5h7M338.5 351v7M335 350.5h7M338.5 347v7M335 353.5h7M338.5 350v7M335 351.5h7M338.5 348v7M335 352.5h7M338.5 349v7M336 357.5h7M339.5 354v7M336 354.5h7M339.5 351v7M336 352.5h7M339.5 349v7M336 350.5h7M339.5 347v7M336 353.5h7M339.5 350v7M336 353.5h7M339.5 350v7M337 356.5h7M340.5 353v7M337 351.5h7M340.5 348v7M337 351.5h7M340.5 348v7M337 354.5h7M340.5 351v7M337 355.5h7M340.5 352v7M338 357.5h7M341.5 354v7M338 353.5h7M341.5 350v7M338 350.5h7M341.5 347v7M338 354.5h7M341.5 351v7M338 353.5h7M341.5 350v7M338 354.5h7M341.5 351v7M339 358.5h7M342.5 355v7M339 353.5h7M342.5 350v7M339 357.5h7M342.5 354v7M339 356.5h7M342.5 353v7M339 355.5h7M342.5 352v7M339 355.5h7M342.5 352v7M340 355.5h7M343.5 352v7M340 356.5h7M343.5 353v7M340 357.5h7M343.5 354v7M340 358.5h7M343.5 355v7M340 356.5h7M343.5 353v7M341 358.5h7M344.5 355v7M341 359.5h7M344.5 356v7M341 359.5h7M344.5 356v7M341 358.5h7M344.5 355v7M341 360.5h7M344.5 357v7M341 359.5h7M344.5 356v7M342 360.5h7M345.5 357v7M342 357.5h7M345.5 354v7M342 357.5h7M345.5 354v7M342 355.5h7M345.5 352v7M342 360.5h7M345.5 357v7M343 359.5h7M346.5 356v7M343 357.5h7M346.5 354v7M343 359.5h7M346.5 356v7M343 359.5h7M346.5 356v7M343 354.5h7M346.5 351v7M343 359.5h7M346.5 356v7M344 360.5h7M347.5 357v7M344 360.5h7M347.5 357v7M344 358.5h7M347.5 355v7M344 358.5h7M347.5 355v7M344 361.5h7M347.5 358v7M345 360.5h7M348.5 357v7M345 358.5h7M348.5 355v7M345 358.5h7M348.5 355v7M345 360.5h7M348.5 357v7M345 359.5h7M348.5 356v7M345 359.5h7M348.5 356v7M346 364.5h7M349.5 361v7M346 360.5h7M349.5 357v7M346 359.5h7M349.5 356v7M346 361.5h7M349.5 358v7M346 363.5h7M349.5 360v7M347 361.5h7M350.5 358v7M347 359.5h7M350.5 356v7M347 358.5h7M350.5 355v7M347 363.5h7M350.5 360v7M347 357.5h7M350.5 354v7M347 362.5h7M350.5 359v7M348 360.5h7M351.5 357v7M348 358.5h7M351.5 355v7M348 360.5h7M351.5 357v7M348 361.5h7M351.5 358v7M348 363.5h7M351.5 360v7M349 361.5h7M352.5 358v7M349 362.5h7M352.5 359v7M349 365.5h7M352.5 362v7M349 358.5h7M352.5 355v7M349 361.5h7M352.5 358v7M349 360.5h7M352.5 357v7M350 363.5h7M353.5 360v7M350 360.5h7M353.5 357v7M350 360.5h7M353.5 357v7M350 360.5h7M353.5 357v7M350 362.5h7M353.5 359v7M351 364.5h7M354.5 361v7M351 363.5h7M354.5 360v7M351 365.5h7M354.5 362v7M351 365.5h7M354.5 362v7M351 363.5h7M354.5 360v7M351 364.5h7M354.5 361v7M352 363.5h7M355.5 360v7M352 363.5h7M355.5 360v7M352 361.5h7M355.5 358v7M352 362.5h7M355.5 359v7M352 363.5h7M355.5 360v7M352 362.5h7M355.5 359v7M353 365.5h7M356.5 362v7M353 364.5h7M356.5 361v7M353 363.5h7M356.5 360v7M353 365.5h7M356.5 362v7M353 364.5h7M356.5 361v7M354 365.5h7M357.5 362v7M354 364.5h7M357.5 361v7M354 362.5h7M357.5 359v7M354 365.5h7M357.5 362v7M354 364.5h7M357.5 361v7M354 365.5h7M357.5 362v7M355 365.5h7M358.5 362v7M355 366.5h7M358.5 363v7M355 362.5h7M358.5 359v7M355 361.5h7M358.5 358v7M355 364.5h7M358.5 361v7M356 365.5h7M359.5 362v7M356 364.5h7M359.5 361v7M356 365.5h7M359.5 362v7M356 364.5h7M359.5 361v7M356 364.5h7M359.5 361v7M356 364.5h7M359.5 361v7M357 364.5h7M360.5 361v7M357 365.5h7M360.5 362v7M357 365.5h7M360.5 362v7M357 367.5h7M360.5 364v7M357 365.5h7M360.5 362v7M358 367.5h7M361.5 364v7M358 365.5h7M361.5 362v7M358 366.5h7M361.5 363v7M358 365.5h7M361.5 362v7M358 365.5h7M361.5 362v7M358 367.5h7M361.5 364v7M359 366.5h7M362.5 363v7M359 366.5h7M362.5 363v7M359 364.5h7M362.5 361v7M359 363.5h7M362.5 360v7M359 364.5h7M362.5 361v7M360 366.5h7M363.5 363v7M360 364.5h7M363.5 361v7M360 367.5h7M363.5 364v7M360 364.5h7M363.5 361v7M360 366.5h7M363.5 363v7M360 369.5h7M363.5 366v7M361 363.5h7M364.5 360v7M361 364.5h7M364.5 361v7M361 367.5h7M364.5 364v7M361 366.5h7M364.5 363v7M361 366.5h7M364.5 363v7M362 366.5h7M365.5 363v7M362 368.5h7M365.5 365v7M362 367.5h7M365.5 364v7M362 366.5h7M365.5 363v7M362 366.5h7M365.5 363v7M362 365.5h7M365.5 362v7M363 366.5h7M366.5 363v7M363 364.5h7M366.5 361v7M363 367.5h7M366.5 364v7M363 366.5h7M366.5 363v7M363 368.5h7M366.5 365v7M363 368.5h7M366.5 365v7M364 365.5h7M367.5 362v7M364 367.5h7M367.5 364v7M364 366.5h7M367.5 363v7M364 367.5h7M367.5 364v7M364 368.5h7M367.5 365v7M365 367.5h7M368.5 364v7M365 367.5h7M368.5 364v7M365 367.5h7M368.5 364v7M365 366.5h7M368.5 363v7M365 366.5h7M368.5 363v7M365 367.5h7M368.5 364v7M366 368.5h7M369.5 365v7M366 367.5h7M369.5 364v7M366 367.5h7M369.5 364v7M366 366.5h7M369.5 363v7M366 364.5h7M369.5 361v7M367 366.5h7M370.5 363v7M367 367.5h7M370.5 364v7M367 367.5h7M370.5 364v7M367 368.5h7M370.5 365v7M367 369.5h7M370.5 366v7M367 368.5h7M370.5 365v7M368 368.5h7M371.5 365v7M368 368.5h7M371.5 365v7M368 366.5h7M371.5 363v7M368 368.5h7M371.5 365v7M368 367.5h7M371.5 364v7M369 368.5h7M372.5 365v7M369 366.5h7M372.5 363v7M369 367.5h7M372.5 364v7M369 366.5h7M372.5 363v7M369 367.5h7M372.5 364v7M369 366.5h7M372.5 363v7M370 368.5h7M373.5 365v7M370 367.5h7M373.5 364v7M370 365.5h7M373.5 362v7M370 369.5h7M373.5 366v7M370 366.5h7M373.5 363v7M371 366.5h7M374.5 363v7M371 367.5h7M374.5 364v7M371 367.5h7M374.5 364v7M371 366.5h7M374.5 363v7M371 368.5h7M374.5 365v7M371 367.5h7M374.5 364v7M372 369.5h7M375.5 366v7M372 368.5h7M375.5 365v7M372 368.5h7M375.5 365v7M372 368.5h7M375.5 365v7M372 368.5h7M375.5 365v7M373 368.5h7M376.5 365v7M373 369.5h7M376.5 366v7M373 366.5h7M376.5 363v7M373 367.5h7M376.5 364v7M373 367.5h7M376.5 364v7M373 368.5h7M376.5 365v7M374 368.5h7M377.5 365v7M374 368.5h7M377.5 365v7M374 368.5h7M377.5 365v7M374 370.5h7M377.5 367v7M374 368.5h7M377.5 365v7M374 366.5h7M377.5 363v7M375 370.5h7M378.5 367v7M375 367.5h7M378.5 364v7M375 368.5h7M378.5 365v7M375 369.5h7M378.5 366v7M375 367.5h7M378.5 364v7M376 370.5h7M379.5 367v7M376 368.5h7M379.5 365v7M376 366.5h7M379.5 363v7M376 369.5h7M379.5 366v7M376 369.5h7M379.5 366v7M376 368.5h7M379.5 365v7M377 369.5h7M380.5 366v7M377 367.5h7M380.5 364v7M377 370.5h7M380.5 367v7M377 368.5h7M380.5 365v7M377 370.5h7M380.5 367v7M378 368.5h7M381.5 365v7M378 369.5h7M381.5 366v7M378 371.5h7M381.5 368v7M378 369.5h7M381.5 366v7M378 370.5h7M381.5 367v7M378 369.5h7M381.5 366v7M379 368.5h7M382.5 365v7M379 370.5h7M382.5 367v7M379 370.5h7M382.5 367v7M379 368.5h7M382.5 365v7M379 369.5h7M382.5 366v7M380 368.5h7M383.5 365v7M380 369.5h7M383.5 366v7M380 371.5h7M383.5 368v7M380 369.5h7M383.5 366v7M380 367.5h7M383.5 364v7M380 368.5h7M383.5 365v7M381 369.5h7M384.5 366v7M381 369.5h7M384.5 366v7M381 369.5h7M384.5 366v7M381 370.5h7M384.5 367v7M381 368.5h7M384.5 365v7M382 369.5h7M385.5 366v7M382 370.5h7M385.5 367v7M382 370.5h7M385.5 367v7M382 369.5h7M385.5 366v7M382 369.5h7M385.5 366v7M382 370.5h7M385.5 367v7M383 370.5h7M386.5 367v7M383 370.5h7M386.5 367v7M383 371.5h7M386.5 368v7M383 371.5h7M386.5 368v7M383 369.5h7M386.5 366v7M384 370.5h7M387.5 367v7M384 369.5h7M387.5 366v7M384 369.5h7M387.5 366v7M384 369.5h7M387.5 366v7M384 370.5h7M387.5 367v7M384 368.5h7M387.5 365v7M385 369.5h7M388.5 366v7M385 370.5h7M388.5 367v7M385 369.5h7M388.5 366v7M385 370.5h7M388.5 367v7M385 371.5h7M388.5 368v7M385 370.5h7M388.5 367v7M386 370.5h7M389.5 367v7M386 372.5h7M389.5 369v7M386 370.5h7M389.5 367v7M386 370.5h7M389.5 367v7M386 370.5h7M389.5 367v7M387 371.5h7M390.5 368v7M387 370.5h7M390.5 367v7M387 370.5h7M390.5 367v7M387 370.5h7M390.5 367v7M387 371.5h7M390.5 368v7M387 370.5h7M390.5 367v7M388 371.5h7M391.5 368v7M388 370.5h7M391.5 367v7M388 369.5h7M391.5 366v7M388 371.5h7M391.5 368v7M388 371.5h7M391.5 368v7M389 370.5h7M392.5 367v7M389 371.5h7M392.5 368v7M389 371.5h7M392.5 368v7M389 370.5h7M392.5 367v7M389 370.5h7M392.5 367v7M389 372.5h7M392.5 369v7M390 371.5h7M393.5 368v7M390 371.5h7M393.5 368v7M390 371.5h7M393.5 368v7M390 371.5h7M393.5 368v7M390 371.5h7M393.5 368v7M391 370.5h7M394.5 367v7M391 371.5h7M394.5 368v7M391 371.5h7M394.5 368v7M391 370.5h7M394.5 367v7M391 372.5h7M394.5 369v7M391 371.5h7M394.5 368v7M392 369.5h7M395.5 366v7M392 370.5h7M395.5 367v7M392 371.5h7M395.5 368v7M392 371.5h7M395.5 368v7M392 371.5h7M395.5 368v7M393 371.5h7M396.5 368v7M393 370.5h7M396.5 367v7M393 371.5h7M396.5 368v7M393 371.5h7M396.5 368v7M393 369.5h7M396.5 366v7M393 371.5h7M396.5 368v7M394 371.5h7M397.5 368v7M394 372.5h7M397.5 369v7M394 372.5h7M397.5 369v7M394 371.5h7M397.5 368v7M394 369.5h7M397.5 366v7M395 371.5h7M398.5 368v7M395 371.5h7M398.5 368v7M395 371.5h7M398.5 368v7M395 371.5h7M398.5 368v7M395 371.5h7M398.5 368v7M395 371.5h7M398.5 368v7M396 370.5h7M399.5 367v7M396 371.5h7M399.5 368v7M396 370.5h7M399.5 367v7M396 371.5h7M399.5 368v7M396 371.5h7M399.5 368v7M396 372.5h7M399.5 369v7M397 371.5h7M400.5 368v7M397 371.5h7M400.5 368v7M397 371.5h7M400.5 368v7M397 373.5h7M400.5 370v7M397 371.5h7M400.5 368v7M398 372.5h7M401.5 369v7M398 372.5h7M401.5 369v7M398 372.5h7M401.5 369v7M398 372.5h7M401.5 369v7M398 371.5h7M401.5 368v7M398 372.5h7M401.5 369v7M399 372.5h7M402.5 369v7M399 371.5h7M402.5 368v7M399 371.5h7M402.5 368v7M399 372.5h7M402.5 369v7M399 372.5h7M402.5 369v7M400 372.5h7M403.5 369v7M400 372.5h7M403.5 369v7M400 371.5h7M403.5 368v7M400 372.5h7M403.5 369v7M400 370.5h7M403.5 367v7M400 371.5h7M403.5 368v7M401 372.5h7M404.5 369v7M401 371.5h7M404.5 368v7M401 373.5h7M404.5 370v7M401 373.5h7M404.5 370v7M401 372.5h7M404.5 369v7M402 372.5h7M405.5 369v7M402 372.5h7M405.5 369v7M402 372.5h7M405.5 369v7M402 372.5h7M405.5 369v7M402 373.5h7M405.5 370v7M402 371.5h7M405.5 368v7M403 373.5h7M406.5 370v7M403 372.5h7M406.5 369v7M403 372.5h7M406.5 369v7M403 373.5h7M406.5 370v7M403 373.5h7M406.5 370v7M404 372.5h7M407.5 369v7M404 372.5h7M407.5 369v7M404 371.5h7M407.5 368v7M404 371.5h7M407.5 368v7M404 372.5h7M407.5 369v7M404 372.5h7M407.5 369v7M405 372.5h7M408.5 369v7M405 372.5h7M408.5 369v7M405 373.5h7M408.5 370v7M405 371.5h7M408.5 368v7M405 372.5h7M408.5 369v7M406 372.5h7M409.5 369v7M406 372.5h7M409.5 369v7M406 371.5h7M409.5 368v7M406 372.5h7M409.5 369v7M406 371.5h7M409.5 368v7M406 372.5h7M409.5 369v7M407 371.5h7M410.5 368v7M407 371.5h7M410.5 368v7M407 372.5h7M410.5 369v7M407 371.5h7M410.5 368v7M407 372.5h7M410.5 369v7M407 372.5h7M410.5 369v7M408 373.5h7M411.5 370v7M408 372.5h7M411.5 369v7M408 372.5h7M411.5 369v7M408 373.5h7M411.5 370v7M408 372.5h7M411.5 369v7M409 372.5h7M412.5 369v7M409 372.5h7M412.5 369v7M409 374.5h7M412.5 371v7M409 372.5h7M412.5 369v7M409 371.5h7M412.5 368v7M409 373.5h7M412.5 370v7M410 372.5h7M413.5 369v7M410 374.5h7M413.5 371v7M410 372.5h7M413.5 369v7M410 373.5h7M413.5 370v7M410 372.5h7M413.5 369v7M411 373.5h7M414.5 370v7M411 372.5h7M414.5 369v7M411 372.5h7M414.5 369v7M411 372.5h7M414.5 369v7M411 373.5h7M414.5 370v7M411 373.5h7M414.5 370v7M412 371.5h7M415.5 368v7M412 373.5h7M415.5 370v7M412 373.5h7M415.5 370v7M412 373.5h7M415.5 370v7M412 373.5h7M415.5 370v7M413 372.5h7M416.5 369v7M413 371.5h7M416.5 368v7M413 373.5h7M416.5 370v7M413 374.5h7M416.5 371v7M413 372.5h7M416.5 369v7M413 372.5h7M416.5 369v7M414 372.5h7M417.5 369v7M414 372.5h7M417.5 369v7M414 373.5h7M417.5 370v7M414 373.5h7M417.5 370v7M414 373.5h7M417.5 370v7M415 373.5h7M418.5 370v7M415 372.5h7M418.5 369v7M415 373.5h7M418.5 370v7M415 371.5h7M418.5 368v7M415 373.5h7M418.5 370v7M415 373.5h7M418.5 370v7M416 372.5h7M419.5 369v7M416 372.5h7M419.5 369v7M416 372.5h7M419.5 369v7M416 373.5h7M419.5 370v7M416 373.5h7M419.5 370v7M417 372.5h7M420.5 369v7M417 373.5h7M420.5 370v7M417 373.5h7M420.5 370v7M417 372.5h7M420.5 369v7M417 373.5h7M420.5 370v7M417 373.5h7M420.5 370v7M418 373.5h7M421.5 370v7M418 373.5h7M421.5 370v7M418 373.5h7M421.5 370v7M418 373.5h7M421.5 370v7M418 372.5h7M421.5 369v7M418 372.5h7M421.5 369v7M419 374.5h7M422.5 371v7M419 373.5h7M422.5 370v7M419 372.5h7M422.5 369v7M419 373.5h7M422.5 370v7M419 372.5h7M422.5 369v7M420 373.5h7M423.5 370v7M420 374.5h7M423.5 371v7M420 372.5h7M423.5 369v7M420 374.5h7M423.5 371v7M420 374.5h7M423.5 371v7M420 372.5h7M423.5 369v7M421 374.5h7M424.5 371v7M421 373.5h7M424.5 370v7M421 374.5h7M424.5 371v7M421 374.5h7M424.5 371v7M421 374.5h7M424.5 371v7M422 373.5h7M425.5 370v7M422 373.5h7M425.5 370v7M422 375.5h7M425.5 372v7M422 373.5h7M425.5 370v7M422 374.5h7M425.5 371v7M422 374.5h7M425.5 371v7M423 373.5h7M426.5 370v7M423 373.5h7M426.5 370v7M423 374.5h7M426.5 371v7M423 372.5h7M426.5 369v7M423 374.5h7M426.5 371v7M424 373.5h7M427.5 370v7M424 373.5h7M427.5 370v7M424 373.5h7M427.5 370v7M424 374.5h7M427.5 371v7M424 373.5h7M427.5 370v7M424 374.5h7M427.5 371v7M425 373.5h7M428.5 370v7M425 374.5h7M428.5 371v7M425 374.5h7M428.5 371v7M425 372.5h7M428.5 369v7M425 373.5h7M428.5 370v7M426 373.5h7M429.5 370v7M426 372.5h7M429.5 369v7M426 373.5h7M429.5 370v7M426 374.5h7M429.5 371v7M426 373.5h7M429.5 370v7M426 374.5h7M429.5 371v7M427 373.5h7M430.5 370v7M427 373.5h7M430.5 370v7M427 374.5h7M430.5 371v7M427 374.5h7M430.5 371v7M427 374.5h7M430.5 371v7M428 374.5h7M431.5 371v7M428 374.5h7M431.5 371v7M428 373.5h7M431.5 370v7M428 375.5h7M431.5 372v7M428 374.5h7M431.5 371v7M428 374.5h7M431.5 371v7M429 374.5h7M432.5 371v7M429 374.5h7M432.5 371v7M429 374.5h7M432.5 371v7M429 373.5h7M432.5 370v7M429 374.5h7M432.5 371v7M429 374.5h7M432.5 371v7M430 375.5h7M433.5 372v7M430 374.5h7M433.5 371v7M430 374.5h7M433.5 371v7M430 374.5h7M433.5 371v7M430 374.5h7M433.5 371v7M431 373.5h7M434.5 370v7M431 373.5h7M434.5 370v7M431 373.5h7M434.5 370v7M431 374.5h7M434.5 371v7M431 375.5h7M434.5 372v7M431 373.5h7M434.5 370v7M432 374.5h7M435.5 371v7M432 373.5h7M435.5 370v7M432 374.5h7M435.5 371v7M432 373.5h7M435.5 370v7M432 374.5h7M435.5 371v7M433 374.5h7M436.5 371v7M433 374.5h7M436.5 371v7M433 374.5h7M436.5 371v7M433 374.5h7M436.5 371v7M433 374.5h7M436.5 371v7M433 374.5h7M436.5 371v7M434 374.5h7M437.5 371v7M434 373.5h7M437.5 370v7M434 374.5h7M437.5 371v7M434 374.5h7M437.5 371v7M434 374.5h7M437.5 371v7M435 374.5h7M438.5 371v7M435 373.5h7M438.5 370v7M435 375.5h7M438.5 372v7M435 375.5h7M438.5 372v7M435 375.5h7M438.5 372v7M435 374.5h7M438.5 371v7M436 373.5h7M439.5 370v7M436 374.5h7M439.5 371v7M436 374.5h7M439.5 371v7M436 375.5h7M439.5 372v7M436 374.5h7M439.5 371v7M437 374.5h7M440.5 371v7M437 373.5h7M440.5 370v7M437 375.5h7M440.5 372v7M437 374.5h7M440.5 371v7M437 374.5h7M440.5 371v7M437 375.5h7M440.5 372v7M438 374.5h7M441.5 371v7M438 375.5h7M441.5 372v7M438 376.5h7M441.5 373v7M438 374.5h7M441.5 371v7M438 374.5h7M441.5 371v7M439 375.5h7M442.5 372v7M439 375.5h7M442.5 372v7M439 374.5h7M442.5 371v7M439 374.5h7M442.5 371v7M439 374.5h7M442.5 371v7M439 374.5h7M442.5 371v7M440 375.5h7M443.5 372v7M440 374.5h7M443.5 371v7M440 375.5h7M443.5 372v7M440 375.5h7M443.5 372v7M440 375.5h7M443.5 372v7M440 375.5h7M443.5 372v7M441 374.5h7M444.5 371v7M441 375.5h7M444.5 372v7M441 375.5h7M444.5 372v7M441 375.5h7M444.5 372v7M441 375.5h7M444.5 372v7M442 375.5h7M445.5 372v7M442 375.5h7M445.5 372v7M442 375.5h7M445.5 372v7M442 375.5h7M445.5 372v7M442 375.5h7M445.5 372v7M442 375.5h7M445.5 372v7M443 374.5h7M446.5 371v7M443 374.5h7M446.5 371v7M443 375.5h7M446.5 372v7M443 375.5h7M446.5 372v7M443 374.5h7M446.5 371v7M444 375.5h7M447.5 372v7M444 375.5h7M447.5 372v7M444 375.5h7M447.5 372v7M444 375.5h7M447.5 372v7M444 374.5h7M447.5 371v7M444 375.5h7M447.5 372v7M445 374.5h7M448.5 371v7M445 375.5h7M448.5 372v7M445 375.5h7M448.5 372v7M445 376.5h7M448.5 373v7M445 374.5h7M448.5 371v7M446 375.5h7M449.5 372v7M446 375.5h7M449.5 372v7M446 375.5h7M449.5 372v7M446 375.5h7M449.5 372v7M446 376.5h7M449.5 373v7M446 375.5h7M449.5 372v7M447 376.5h7M450.5 373v7M447 375.5h7M450.5 372v7M447 375.5h7M450.5 372v7M447 375.5h7M450.5 372v7M447 375.5h7M450.5 372v7M448 375.5h7M451.5 372v7M448 376.5h7M451.5 373v7M448 375.5h7M451.5 372v7M448 375.5h7M451.5 372v7M448 376.5h7M451.5 373v7M448 375.5h7M451.5 372v7M449 375.5h7M452.5 372v7M449 375.5h7M452.5 372v7M449 376.5h7M452.5 373v7M449 375.5h7M452.5 372v7M449 376.5h7M452.5 373v7M450 375.5h7M453.5 372v7M450 375.5h7M453.5 372v7M450 375.5h7M453.5 372v7M450 375.5h7M453.5 372v7M450 375.5h7M453.5 372v7M450 376.5h7M453.5 373v7M451 375.5h7M454.5 372v7M451 375.5h7M454.5 372v7M451 375.5h7M454.5 372v7M451 375.5h7M454.5 372v7M451 375.5h7M454.5 372v7M451 376.5h7M454.5 373v7M452 376.5h7M455.5 373v7M452 375.5h7M455.5 372v7M452 375.5h7M455.5 372v7M452 376.5h7M455.5 373v7M452 376.5h7M455.5 373v7M453 376.5h7M456.5 373v7M453 376.5h7M456.5 373v7M453 376.5h7M456.5 373v7M453 375.5h7M456.5 372v7M453 376.5h7M456.5 373v7M453 376.5h7M456.5 373v7M454 375.5h7M457.5 372v7M454 376.5h7M457.5 373v7M454 376.5h7M457.5 373v7M454 375.5h7M457.5 372v7M454 375.5h7M457.5 372v7M455 376.5h7M458.5 373v7M455 375.5h7M458.5 372v7M455 376.5h7M458.5 373v7M455 375.5h7M458.5 372v7M455 375.5h7M458.5 372v7M455 376.5h7M458.5 373v7M456 376.5h7M459.5 373v7M456 375.5h7M459.5 372v7M456 375.5h7M459.5 372v7M456 375.5h7M459.5 372v7M456 375.5h7M459.5 372v7M457 376.5h7M460.5 373v7M457 376.5h7M460.5 373v7M457 376.5h7M460.5 373v7M457 376.5h7M460.5 373v7M457 376.5h7M460.5 373v7M457 375.5h7M460.5 372v7M458 376.5h7M461.5 373v7M458 377.5h7M461.5 374v7M458 376.5h7M461.5 373v7M458 376.5h7M461.5 373v7M458 376.5h7M461.5 373v7M459 376.5h7M462.5 373v7M459 376.5h7M462.5 373v7M459 376.5h7M462.5 373v7M459 376.5h7M462.5 373v7M459 376.5h7M462.5 373v7M459 375.5h7M462.5 372v7M460 376.5h7M463.5 373v7M460 376.5h7M463.5 373v7M460 376.5h7M463.5 373v7M460 376.5h7M463.5 373v7M460 376.5h7M463.5 373v7M461 376.5h7M464.5 373v7M461 376.5h7M464.5 373v7M461 376.5h7M464.5 373v7M461 376.5h7M464.5 373v7M461 376.5h7M464.5 373v7M461 376.5h7M464.5 373v7M462 375.5h7M465.5 372v7M462 375.5h7M465.5 372v7M462 376.5h7M465.5 373v7M462 377.5h7M465.5 374v7M462 376.5h7M465.5 373v7M463 375.5h7M466.5 372v7M463 375.5h7M466.5 372v7M463 376.5h7M466.5 373v7M463 375.5h7M466.5 372v7M463 376.5h7M466.5 373v7M463 376.5h7M466.5 373v7M464 376.5h7M467.5 373v7M464 376.5h7M467.5 373v7M464 377.5h7M467.5 374v7M464 376.5h7M467.5 373v7M464 375.5h7M467.5 372v7M464 376.5h7M467.5 373v7M465 376.5h7M468.5 373v7M465 376.5h7M468.5 373v7M465 376.5h7M468.5 373v7M465 377.5h7M468.5 374v7M465 376.5h7M468.5 373v7M466 376.5h7M469.5 373v7M466 376.5h7M469.5 373v7M466 375.5h7M469.5 372v7M466 376.5h7M469.5 373v7M466 376.5h7M469.5 373v7M466 376.5h7M469.5 373v7M467 376.5h7M470.5 373v7M467 376.5h7M470.5 373v7M467 376.5h7M470.5 373v7M467 376.5h7M470.5 373v7M467 376.5h7M470.5 373v7M468 375.5h7M471.5 372v7M468 376.5h7M471.5 373v7M468 376.5h7M471.5 373v7M468 376.5h7M471.5 373v7M468 376.5h7M471.5 373v7M468 376.5h7M471.5 373v7M469 376.5h7M472.5 373v7M469 375.5h7M472.5 372v7M469 377.5h7M472.5 374v7M469 376.5h7M472.5 373v7M469 377.5h7M472.5 374v7M470 376.5h7M473.5 373v7M470 376.5h7M473.5 373v7M470 376.5h7M473.5 373v7M470 376.5h7M473.5 373v7M470 376.5h7M473.5 373v7M470 376.5h7M473.5 373v7M471 377.5h7M474.5 374v7M471 377.5h7M474.5 374v7M471 376.5h7M474.5 373v7M471 377.5h7M474.5 374v7M471 376.5h7M474.5 373v7M472 376.5h7M475.5 373v7M472 377.5h7M475.5 374v7M472 377.5h7M475.5 374v7M472 377.5h7M475.5 374v7M472 376.5h7M475.5 373v7M472 377.5h7M475.5 374v7M473 376.5h7M476.5 373v7M473 376.5h7M476.5 373v7M473 376.5h7M476.5 373v7M473 377.5h7M476.5 374v7M473 376.5h7M476.5 373v7M474 376.5h7M477.5 373v7M474 377.5h7M477.5 374v7M474 376.5h7M477.5 373v7M474 376.5h7M477.5 373v7M474 376.5h7M477.5 373v7M474 376.5h7M477.5 373v7M475 377.5h7M478.5 374v7M475 376.5h7M478.5 373v7M475 377.5h7M478.5 374v7M475 376.5h7M478.5 373v7M475 377.5h7M478.5 374v7M475 377.5h7M478.5 374v7M476 376.5h7M479.5 373v7M476 376.5h7M479.5 373v7M476 376.5h7M479.5 373v7M476 377.5h7M479.5 374v7M476 376.5h7M479.5 373v7M477 376.5h7M480.5 373v7M477 376.5h7M480.5 373v7M477 377.5h7M480.5 374v7M477 376.5h7M480.5 373v7M477 376.5h7M480.5 373v7M477 377.5h7M480.5 374v7M478 376.5h7M481.5 373v7M478 377.5h7M481.5 374v7M478 377.5h7M481.5 374v7M478 376.5h7M481.5 373v7M478 377.5h7M481.5 374v7M479 376.5h7M482.5 373v7M479 376.5h7M482.5 373v7M479 377.5h7M482.5 374v7M479 377.5h7M482.5 374v7M479 377.5h7M482.5 374v7M479 376.5h7M482.5 373v7M480 376.5h7M483.5 373v7M480 377.5h7M483.5 374v7M480 376.5h7M483.5 373v7M480 377.5h7M483.5 374v7M480 377.5h7M483.5 374v7M481 377.5h7M484.5 374v7M481 376.5h7M484.5 373v7M481 377.5h7M484.5 374v7M481 377.5h7M484.5 374v7M481 376.5h7M484.5 373v7M481 376.5h7M484.5 373v7M482 378.5h7M485.5 375v7M482 377.5h7M485.5 374v7M482 377.5h7M485.5 374v7M482 376.5h7M485.5 373v7M482 375.5h7M485.5 372v7M483 377.5h7M486.5 374v7M483 377.5h7M486.5 374v7M483 377.5h7M486.5 374v7M483 377.5h7M486.5 374v7M483 377.5h7M486.5 374v7M483 376.5h7M486.5 373v7M484 377.5h7M487.5 374v7M484 376.5h7M487.5 373v7M484 377.5h7M487.5 374v7M484 377.5h7M487.5 374v7M484 376.5h7M487.5 373v7M485 377.5h7M488.5 374v7M485 377.5h7M488.5 374v7M485 377.5h7M488.5 374v7M485 377.5h7M488.5 374v7M485 377.5h7M488.5 374v7M485 376.5h7M488.5 373v7M486 377.5h7M489.5 374v7M486 377.5h7M489.5 374v7M486 377.5h7M489.5 374v7M486 377.5h7M489.5 374v7M486 377.5h7M489.5 374v7M486 376.5h7M489.5 373v7M487 377.5h7M490.5 374v7M487 377.5h7M490.5 374v7M487 377.5h7M490.5 374v7M487 376.5h7M490.5 373v7M487 378.5h7M490.5 375v7M488 377.5h7M491.5 374v7M488 377.5h7M491.5 374v7M488 377.5h7M491.5 374v7M488 377.5h7M491.5 374v7M488 378.5h7M491.5 375v7M488 377.5h7M491.5 374v7M489 377.5h7M492.5 374v7M489 377.5h7M492.5 374v7M489 377.5h7M492.5 374v7M489 377.5h7M492.5 374v7M489 377.5h7M492.5 374v7M490 377.5h7M493.5 374v7M490 377.5h7M493.5 374v7M490 377.5h7M493.5 374v7M490 377.5h7M493.5 374v7M490 377.5h7M493.5 374v7M490 377.5h7M493.5 374v7M491 377.5h7M494.5 374v7M491 378.5h7M494.5 375v7M491 377.5h7M494.5 374v7M491 378.5h7M494.5 375v7M491 377.5h7M494.5 374v7M492 376.5h7M495.5 373v7M492 377.5h7M495.5 374v7M492 377.5h7M495.5 374v7M492 378.5h7M495.5 375v7M492 378.5h7M495.5 375v7M492 378.5h7M495.5 375v7M493 377.5h7M496.5 374v7M493 377.5h7M496.5 374v7M493 377.5h7M496.5 374v7M493 377.5h7M496.5 374v7M493 377.5h7M496.5 374v7M494 377.5h7M497.5 374v7M494 377.5h7M497.5 374v7M494 377.5h7M497.5 374v7M494 377.5h7M497.5 374v7M494 377.5h7M497.5 374v7M494 378.5h7M497.5 375v7M495 378.5h7M498.5 375v7M495 378.5h7M498.5 375v7M495 378.5h7M498.5 375v7M495 377.5h7M498.5 374v7M495 376.5h7M498.5 373v7M496 378.5h7M499.5 375v7M496 377.5h7M499.5 374v7M496 377.5h7M499.5 374v7M496 378.5h7M499.5 375v7M496 377.5h7M499.5 374v7M496 377.5h7M499.5 374v7M497 377.5h7M500.5 374v7M497 377.5h7M500.5 374v7M497 378.5h7M500.5 375v7M497 377.5h7M500.5 374v7M497 377.5h7M500.5 374v7M497 377.5h7M500.5 374v7M498 377.5h7M501.5 374v7M498 377.5h7M501.5 374v7M498 377.5h7M501.5 374v7M498 377.5h7M501.5 374v7M498 377.5h7M501.5 374v7M499 378.5h7M502.5 375v7M499 377.5h7M502.5 374v7M499 377.5h7M502.5 374v7M499 377.5h7M502.5 374v7M499 377.5h7M502.5 374v7M499 378.5h7M502.5 375v7M500 377.5h7M503.5 374v7M500 378.5h7M503.5 375v7M500 378.5h7M503.5 375v7M500 377.5h7M503.5 374v7M500 378.5h7M503.5 375v7M501 377.5h7M504.5 374v7M501 378.5h7M504.5 375v7M501 377.5h7M504.5 374v7M501 377.5h7M504.5 374v7M501 378.5h7M504.5 375v7M501 378.5h7M504.5 375v7M502 377.5h7M505.5 374v7M502 378.5h7M505.5 375v7M502 378.5h7M505.5 375v7M502 378.5h7M505.5 375v7M502 377.5h7M505.5 374v7M503 377.5h7M506.5 374v7M503 377.5h7M506.5 374v7M503 378.5h7M506.5 375v7M503 378.5h7M506.5 375v7M503 377.5h7M506.5 374v7M503 378.5h7M506.5 375v7M504 377.5h7M507.5 374v7M504 377.5h7M507.5 374v7M504 377.5h7M507.5 374v7M504 377.5h7M507.5 374v7M504 377.5h7M507.5 374v7M505 377.5h7M508.5 374v7M505 378.5h7M508.5 375v7M505 377.5h7M508.5 374v7M505 378.5h7M508.5 375v7M505 378.5h7M508.5 375v7M505 377.5h7M508.5 374v7M506 378.5h7M509.5 375v7M506 378.5h7M509.5 375v7M506 378.5h7M509.5 375v7M506 378.5h7M509.5 375v7M506 377.5h7M509.5 374v7M507 377.5h7M510.5 374v7M507 377.5h7M510.5 374v7M507 377.5h7M510.5 374v7M507 378.5h7M510.5 375v7M507 378.5h7M510.5 375v7M507 377.5h7M510.5 374v7M508 378.5h7M511.5 375v7M508 378.5h7M511.5 375v7M508 378.5h7M511.5 375v7M508 378.5h7M511.5 375v7M508 378.5h7M511.5 375v7M508 377.5h7M511.5 374v7M509 378.5h7M512.5 375v7M509 377.5h7M512.5 374v7M509 378.5h7M512.5 375v7M509 378.5h7M512.5 375v7M509 378.5h7M512.5 375v7M510 378.5h7M513.5 375v7M510 378.5h7M513.5 375v7M510 378.5h7M513.5 375v7M510 377.5h7M513.5 374v7M510 377.5h7M513.5 374v7M510 377.5h7M513.5 374v7M511 378.5h7M514.5 375v7M511 378.5h7M514.5 375v7M511 378.5h7M514.5 375v7M511 378.5h7M514.5 375v7M511 378.5h7M514.5 375v7M512 378.5h7M515.5 375v7M512 377.5h7M515.5 374v7M512 378.5h7M515.5 375v7M512 378.5h7M515.5 375v7M512 377.5h7M515.5 374v7M512 377.5h7M515.5 374v7M513 378.5h7M516.5 375v7M513 377.5h7M516.5 374v7M513 378.5h7M516.5 375v7M513 377.5h7M516.5 374v7M513 378.5h7M516.5 375v7M514 378.5h7M517.5 375v7M514 378.5h7M517.5 375v7M514 378.5h7M517.5 375v7M514 378.5h7M517.5 375v7M514 378.5h7M517.5 375v7M514 378.5h7M517.5 375v7M515 378.5h7M518.5 375v7M515 379.5h7M518.5 376v7M515 378.5h7M518.5 375v7M515 378.5h7M518.5 375v7M515 378.5h7M518.5 375v7M516 377.5h7M519.5 374v7M516 378.5h7M519.5 375v7M516 378.5h7M519.5 375v7M516 378.5h7M519.5 375v7M516 378.5h7M519.5 375v7M516 378.5h7M519.5 375v7M517 378.5h7M520.5 375v7M517 378.5h7M520.5 375v7M517 377.5h7M520.5 374v7M517 378.5h7M520.5 375v7M517 377.5h7M520.5 374v7M518 378.5h7M521.5 375v7M518 378.5h7M521.5 375v7M518 378.5h7M521.5 375v7M518 378.5h7M521.5 375v7M518 378.5h7M521.5 375v7M518 378.5h7M521.5 375v7M519 378.5h7M522.5 375v7M519 378.5h7M522.5 375v7M519 377.5h7M522.5 374v7M519 378.5h7M522.5 375v7M519 378.5h7M522.5 375v7M519 377.5h7M522.5 374v7M520 377.5h7M523.5 374v7M520 378.5h7M523.5 375v7M520 378.5h7M523.5 375v7M520 377.5h7M523.5 374v7M520 378.5h7M523.5 375v7M521 378.5h7M524.5 375v7M521 378.5h7M524.5 375v7M521 378.5h7M524.5 375v7M521 378.5h7M524.5 375v7M521 378.5h7M524.5 375v7M521 378.5h7M524.5 375v7M522 378.5h7M525.5 375v7M522 378.5h7M525.5 375v7M522 378.5h7M525.5 375v7M522 378.5h7M525.5 375v7M522 378.5h7M525.5 375v7M523 378.5h7M526.5 375v7M523 378.5h7M526.5 375v7M523 377.5h7M526.5 374v7M523 378.5h7M526.5 375v7M523 378.5h7M526.5 375v7M523 378.5h7M526.5 375v7M524 379.5h7M527.5 376v7M524 378.5h7M527.5 375v7M524 378.5h7M527.5 375v7M524 378.5h7M527.5 375v7M524 378.5h7M527.5 375v7M525 378.5h7M528.5 375v7M525 378.5h7M528.5 375v7M525 378.5h7M528.5 375v7M525 378.5h7M528.5 375v7M525 378.5h7M528.5 375v7M525 378.5h7M528.5 375v7M526 378.5h7M529.5 375v7M526 377.5h7M529.5 374v7M526 378.5h7M529.5 375v7M526 378.5h7M529.5 375v7M526 378.5h7M529.5 375v7M527 378.5h7M530.5 375v7M527 378.5h7M530.5 375v7M527 378.5h7M530.5 375v7M527 378.5h7M530.5 375v7M527 378.5h7M530.5 375v7M527 378.5h7M530.5 375v7M528 378.5h7M531.5 375v7M528 378.5h7M531.5 375v7M528 378.5h7M531.5 375v7M528 378.5h7M531.5 375v7M528 378.5h7M531.5 375v7M529 378.5h7M532.5 375v7M529 378.5h7M532.5 375v7M529 378.5h7M532.5 375v7M529 378.5h7M532.5 375v7M529 378.5h7M532.5 375v7M529 378.5h7M532.5 375v7M530 378.5h7M533.5 375v7M530 378.5h7M533.5 375v7M530 378.5h7M533.5 375v7M530 378.5h7M533.5 375v7M530 378.5h7M533.5 375v7M530 378.5h7M533.5 375v7M531 378.5h7M534.5 375v7M531 378.5h7M534.5 375v7M531 378.5h7M534.5 375v7M531 378.5h7M534.5 375v7M531 378.5h7M534.5 375v7M532 378.5h7M535.5 375v7M532 378.5h7M535.5 375v7M532 378.5h7M535.5 375v7M532 378.5h7M535.5 375v7M532 378.5h7M535.5 375v7M532 378.5h7M535.5 375v7M533 378.5h7M536.5 375v7M533 378.5h7M536.5 375v7M533 378.5h7M536.5 375v7M533 378.5h7M536.5 375v7M533 378.5h7M536.5 375v7M534 378.5h7M537.5 375v7M534 378.5h7M537.5 375v7M534 377.5h7M537.5 374v7M534 378.5h7M537.5 375v7M534 378.5h7M537.5 375v7M534 378.5h7M537.5 375v7M535 379.5h7M538.5 376v7M535 378.5h7M538.5 375v7M535 378.5h7M538.5 375v7M535 378.5h7M538.5 375v7M535 378.5h7M538.5 375v7M536 378.5h7M539.5 375v7M536 378.5h7M539.5 375v7M536 378.5h7M539.5 375v7M536 378.5h7M539.5 375v7M536 378.5h7M539.5 375v7M536 378.5h7M539.5 375v7M537 378.5h7M540.5 375v7M537 378.5h7M540.5 375v7M537 378.5h7M540.5 375v7M537 378.5h7M540.5 375v7M537 378.5h7M540.5 375v7M538 378.5h7M541.5 375v7M538 378.5h7M541.5 375v7M538 378.5h7M541.5 375v7M538 378.5h7M541.5 375v7M538 378.5h7M541.5 375v7M538 378.5h7M541.5 375v7M539 378.5h7M542.5 375v7M539 378.5h7M542.5 375v7M539 378.5h7M542.5 375v7M539 378.5h7M542.5 375v7M539 379.5h7M542.5 376v7M540 378.5h7M543.5 375v7M540 379.5h7M543.5 376v7M540 378.5h7M543.5 375v7M540 378.5h7M543.5 375v7M540 379.5h7M543.5 376v7M540 378.5h7M543.5 375v7M541 378.5h7M544.5 375v7M541 378.5h7M544.5 375v7M541 378.5h7M544.5 375v7M541 378.5h7M544.5 375v7M541 378.5h7M544.5 375v7M541 378.5h7M544.5 375v7M542 378.5h7M545.5 375v7M542 378.5h7M545.5 375v7M542 378.5h7M545.5 375v7M542 378.5h7M545.5 375v7M542 378.5h7M545.5 375v7M543 378.5h7M546.5 375v7M543 378.5h7M546.5 375v7M543 378.5h7M546.5 375v7M543 379.5h7M546.5 376v7M543 378.5h7M546.5 375v7M543 378.5h7M546.5 375v7M544 378.5h7M547.5 375v7M544 378.5h7M547.5 375v7M544 379.5h7M547.5 376v7M544 378.5h7M547.5 375v7M544 378.5h7M547.5 375v7M545 378.5h7M548.5 375v7M545 378.5h7M548.5 375v7M545 378.5h7M548.5 375v7M545 378.5h7M548.5 375v7M545 378.5h7M548.5 375v7M545 378.5h7M548.5 375v7M546 378.5h7M549.5 375v7M546 378.5h7M549.5 375v7M546 378.5h7M549.5 375v7M546 378.5h7M549.5 375v7M546 378.5h7M549.5 375v7M547 378.5h7M550.5 375v7M547 378.5h7M550.5 375v7M547 378.5h7M550.5 375v7M547 378.5h7M550.5 375v7M547 378.5h7M550.5 375v7M547 378.5h7M550.5 375v7M548 378.5h7M551.5 375v7M548 378.5h7M551.5 375v7M548 378.5h7M551.5 375v7M548 379.5h7M551.5 376v7M548 378.5h7M551.5 375v7M549 378.5h7M552.5 375v7M549 379.5h7M552.5 376v7M549 378.5h7M552.5 375v7M549 379.5h7M552.5 376v7M549 378.5h7M552.5 375v7M549 378.5h7M552.5 375v7M550 379.5h7M553.5 376v7M550 378.5h7M553.5 375v7M550 378.5h7M553.5 375v7M550 378.5h7M553.5 375v7M550 379.5h7M553.5 376v7M551 379.5h7M554.5 376v7M551 378.5h7M554.5 375v7M551 378.5h7M554.5 375v7M551 379.5h7M554.5 376v7M551 379.5h7M554.5 376v7M551 378.5h7M554.5 375v7M552 378.5h7M555.5 375v7M552 379.5h7M555.5 376v7M552 378.5h7M555.5 375v7M552 379.5h7M555.5 376v7M552 378.5h7M555.5 375v7M553 378.5h7M556.5 375v7M553 378.5h7M556.5 375v7M553 378.5h7M556.5 375v7M553 378.5h7M556.5 375v7M553 379.5h7M556.5 376v7M553 378.5h7M556.5 375v7M554 379.5h7M557.5 376v7M554 379.5h7M557.5 376v7M554 378.5h7M557.5 375v7M554 379.5h7M557.5 376v7M554 379.5h7M557.5 376v7M554 378.5h7M557.5 375v7M555 379.5h7M558.5 376v7M555 379.5h7M558.5 376v7M555 379.5h7M558.5 376v7M555 379.5h7M558.5 376v7M555 378.5h7M558.5 375v7M556 378.5h7M559.5 375v7M556 379.5h7M559.5 376v7M556 378.5h7M559.5 375v7M556 378.5h7M559.5 375v7M556 379.5h7M559.5 376v7M556 378.5h7M559.5 375v7M557 379.5h7M560.5 376v7M557 378.5h7M560.5 375v7M557 378.5h7M560.5 375v7M557 379.5h7M560.5 376v7M557 379.5h7M560.5 376v7M558 379.5h7M561.5 376v7M558 379.5h7M561.5 376v7M558 378.5h7M561.5 375v7M558 379.5h7M561.5 376v7M558 379.5h7M561.5 376v7M558 378.5h7M561.5 375v7M559 378.5h7M562.5 375v7M559 379.5h7M562.5 376v7M559 378.5h7M562.5 375v7M559 379.5h7M562.5 376v7M559 379.5h7M562.5 376v7M560 379.5h7M563.5 376v7M560 379.5h7M563.5 376v7M560 379.5h7M563.5 376v7M560 379.5h7M563.5 376v7M560 378.5h7M563.5 375v7M560 378.5h7M563.5 375v7M561 379.5h7M564.5 376v7M561 378.5h7M564.5 375v7M561 379.5h7M564.5 376v7M561 379.5h7M564.5 376v7M561 378.5h7M564.5 375v7M562 379.5h7M565.5 376v7M562 378.5h7M565.5 375v7M562 379.5h7M565.5 376v7M562 379.5h7M565.5 376v7M562 378.5h7M565.5 375v7M562 379.5h7M565.5 376v7M563 379.5h7M566.5 376v7M563 379.5h7M566.5 376v7M563 378.5h7M566.5 375v7M563 379.5h7M566.5 376v7M563 379.5h7M566.5 376v7M564 378.5h7M567.5 375v7M564 378.5h7M567.5 375v7M564 379.5h7M567.5 376v7M564 379.5h7M567.5 376v7M564 379.5h7M567.5 376v7M564 379.5h7M567.5 376v7M565 378.5h7M568.5 375v7M565 379.5h7M568.5 376v7M565 379.5h7M568.5 376v7M565 379.5h7M568.5 376v7M565 379.5h7M568.5 376v7M565 379.5h7M568.5 376v7M566 379.5h7M569.5 376v7M566 379.5h7M569.5 376v7M566 379.5h7M569.5 376v7M566 379.5h7M569.5 376v7M566 378.5h7M569.5 375v7M567 379.5h7M570.5 376v7M567 379.5h7M570.5 376v7M567 379.5h7M570.5 376v7M567 379.5h7M570.5 376v7M567 379.5h7M570.5 376v7M567 379.5h7M570.5 376v7M568 379.5h7M571.5 376v7M568 378.5h7M571.5 375v7M568 379.5h7M571.5 376v7M568 379.5h7M571.5 376v7M568 379.5h7M571.5 376v7M569 378.5h7M572.5 375v7M569 379.5h7M572.5 376v7M569 379.5h7M572.5 376v7M569 379.5h7M572.5 376v7M569 379.5h7M572.5 376v7M569 379.5h7M572.5 376v7M570 379.5h7M573.5 376v7M570 379.5h7M573.5 376v7M570 379.5h7M573.5 376v7M570 379.5h7M573.5 376v7M570 379.5h7M573.5 376v7M571 379.5h7M574.5 376v7M571 379.5h7M574.5 376v7M571 379.5h7M574.5 376v7M571 379.5h7M574.5 376v7M571 379.5h7M574.5 376v7M571 379.5h7M574.5 376v7M572 379.5h7M575.5 376v7M572 379.5h7M575.5 376v7M572 379.5h7M575.5 376v7M572 379.5h7M575.5 376v7M572 379.5h7M575.5 376v7M573 379.5h7M576.5 376v7M573 379.5h7M576.5 376v7M573 379.5h7M576.5 376v7M573 379.5h7M576.5 376v7M573 379.5h7M576.5 376v7M573 379.5h7M576.5 376v7M574 379.5h7M577.5 376v7M574 379.5h7M577.5 376v7M574 379.5h7M577.5 376v7M574 379.5h7M577.5 376v7M574 379.5h7M577.5 376v7M575 379.5h7M578.5 376v7M575 379.5h7M578.5 376v7M575 379.5h7M578.5 376v7M575 379.5h7M578.5 376v7M575 379.5h7M578.5 376v7M575 379.5h7M578.5 376v7M576 379.5h7M579.5 376v7M576 379.5h7M579.5 376v7M576 379.5h7M579.5 376v7M576 379.5h7M579.5 376v7M576 379.5h7M579.5 376v7M576 379.5h7M579.5 376v7M577 379.5h7M580.5 376v7M577 379.5h7M580.5 376v7M577 379.5h7M580.5 376v7M577 379.5h7M580.5 376v7M577 379.5h7M580.5 376v7M578 379.5h7M581.5 376v7M578 380.5h7M581.5 377v7M578 379.5h7M581.5 376v7M578 379.5h7M581.5 376v7M578 379.5h7M581.5 376v7M578 379.5h7M581.5 376v7M579 379.5h7M582.5 376v7M579 379.5h7M582.5 376v7M579 379.5h7M582.5 376v7M579 379.5h7M582.5 376v7M579 379.5h7M582.5 376v7M580 379.5h7M583.5 376v7M580 379.5h7M583.5 376v7M580 379.5h7M583.5 376v7M580 379.5h7M583.5 376v7M580 379.5h7M583.5 376v7M580 379.5h7M583.5 376v7M581 379.5h7M584.5 376v7M581 379.5h7M584.5 376v7M581 379.5h7M584.5 376v7M581 379.5h7M584.5 376v7M581 379.5h7M584.5 376v7M582 379.5h7M585.5 376v7M582 379.5h7M585.5 376v7M582 379.5h7M585.5 376v7M582 379.5h7M585.5 376v7M582 380.5h7M585.5 377v7M582 380.5h7M585.5 377v7M583 380.5h7M586.5 377v7M583 379.5h7M586.5 376v7M583 379.5h7M586.5 376v7M583 379.5h7M586.5 376v7M583 379.5h7M586.5 376v7M584 380.5h7M587.5 377v7M584 379.5h7M587.5 376v7M584 380.5h7M587.5 377v7M584 379.5h7M587.5 376v7M584 379.5h7M587.5 376v7M584 380.5h7M587.5 377v7M585 380.5h7M588.5 377v7M585 380.5h7M588.5 377v7M585 380.5h7M588.5 377v7M585 380.5h7M588.5 377v7M585 380.5h7M588.5 377v7M586 380.5h7M589.5 377v7M586 380.5h7M589.5 377v7M586 380.5h7M589.5 377v7M586 380.5h7M589.5 377v7M586 380.5h7M589.5 377v7M586 380.5h7M589.5 377v7M587 380.5h7M590.5 377v7M587 380.5h7M590.5 377v7M587 380.5h7M590.5 377v7M587 380.5h7M590.5 377v7M587 380.5h7M590.5 377v7M587 380.5h7M590.5 377v7M588 380.5h7M591.5 377v7M588 380.5h7M591.5 377v7M588 380.5h7M591.5 377v7M588 380.5h7M591.5 377v7M588 380.5h7M591.5 377v7M589 380.5h7M592.5 377v7M589 380.5h7M592.5 377v7M589 380.5h7M592.5 377v7M589 380.5h7M592.5 377v7M589 380.5h7M592.5 377v7M589 380.5h7M592.5 377v7M590 380.5h7M593.5 377v7M590 380.5h7M593.5 377v7M590 380.5h7M593.5 377v7M590 380.5h7M593.5 377v7M590 380.5h7M593.5 377v7M591 380.5h7M594.5 377v7M591 380.5h7M594.5 377v7M591 380.5h7M594.5 377v7M591 380.5h7M594.5 377v7M591 380.5h7M594.5 377v7M591 380.5h7M594.5 377v7M592 380.5h7M595.5 377v7M592 380.5h7M595.5 377v7M592 380.5h7M595.5 377v7M592 380.5h7M595.5 377v7M592 380.5h7M595.5 377v7M593 380.5h7M596.5 377v7M593 380.5h7M596.5 377v7M593 380.5h7M596.5 377v7M593 380.5h7M596.5 377v7M593 380.5h7M596.5 377v7M593 380.5h7M596.5 377v7M594 380.5h7M597.5 377v7M594 380.5h7M597.5 377v7M594 380.5h7M597.5 377v7M594 380.5h7M597.5 377v7M594 380.5h7M597.5 377v7M595 380.5h7M598.5 377v7M595 380.5h7M598.5 377v7M595 380.5h7M598.5 377v7M595 380.5h7M598.5 377v7M595 380.5h7M598.5 377v7M595 380.5h7M598.5 377v7M596 380.5h7M599.5 377v7M596 380.5h7M599.5 377v7M596 380.5h7M599.5 377v7M596 380.5h7M599.5 377v7M596 380.5h7M599.5 377v7M597 380.5h7M600.5 377v7M597 380.5h7M600.5 377v7M597 380.5h7M600.5 377v7M597 380.5h7M600.5 377v7M597 380.5h7M600.5 377v7M597 380.5h7M600.5 377v7M598 380.5h7M601.5 377v7M598 380.5h7M601.5 377v7M598 380.5h7M601.5 377v7M598 380.5h7M601.5 377v7M598 380.5h7M601.5 377v7M598 380.5h7M601.5 377v7M599 380.5h7M602.5 377v7M599 380.5h7M602.5 377v7M599 380.5h7M602.5 377v7M599 380.5h7M602.5 377v7M599 380.5h7M602.5 377v7M600 380.5h7M603.5 377v7M600 381.5h7M603.5 378v7M600 380.5h7M603.5 377v7M600 380.5h7M603.5 377v7M600 380.5h7M603.5 377v7M600 380.5h7M603.5 377v7M601 381.5h7M604.5 378v7M601 380.5h7M604.5 377v7M601 380.5h7M604.5 377v7M601 380.5h7M604.5 377v7M601 381.5h7M604.5 378v7M602 381.5h7M605.5 378v7M602 381.5h7M605.5 378v7M602 381.5h7M605.5 378v7M602 381.5h7M605.5 378v7M602 381.5h7M605.5 378v7M602 381.5h7M605.5 378v7M603 381.5h7M606.5 378v7M603 381.5h7M606.5 378v7M603 381.5h7M606.5 378v7M300 73.5h7M303.5 70v7M300 286.5h7M303.5 283v7M300 151.5h7M303.5 148v7M177 290.5h7M180.5 287v7M170 297.5h7M173.5 294v7M139 290.5h7M142.5 287v7M109 302.5h7M112.5 299v7M200 301.5h7M203.5 298v7M155 299.5h7M158.5 296v7M198 326.5h7M201.5 323v7M112 324.5h7M115.5 321v7" stroke="#f00" stroke-width="1" fill="none"/><path d="M98 342l7 7M98 349l7-7M98 344l7 7M98 351l7-7M98 341l7 7M98 348l7-7M99 341l7 7M99 348l7-7M99 343l7 7M99 350l7-7M99 341l7 7M99 348l7-7M99 347l7 7M99 354l7-7M99 345l7 7M99 352l7-7M99 339l7 7M99 346l7-7M100 339l7 7M100 346l7-7M100 342l7 7M100 349l7-7M100 343l7 7M100 350l7-7M100 346l7 7M100 353l7-7M100 342l7 7M100 349l7-7M101 341l7 7M101 348l7-7M101 347l7 7M101 354l7-7M101 342l7 7M101 349l7-7M101 342l7 7M101 349l7-7M101 342l7 7M101 349l7-7M101 346l7 7M101 353l7-7M102 342l7 7M102 349l7-7M102 347l7 7M102 354l7-7M102 340l7 7M102 347l7-7M102 343l7 7M102 350l7-7M102 346l7 7M102 353l7-7M103 341l7 7M103 348l7-7M103 341l7 7M103 348l7-7M103 347l7 7M103 354l7-7M103 339l7 7M103 346l7-7M103 346l7 7M103 353l7-7M103 343l7 7M103 350l7-7M104 341l7 7M104 348l7-7M104 349l7 7M104 356l7-7M104 342l7 7M104 349l7-7M104 344l7 7M104 351l7-7M104 344l7 7M104 351l7-7M104 347l7 7M104 354l7-7M105 344l7 7M105 351l7-7M105 347l7 7M105 354l7-7M105 349l7 7M105 356l7-7M105 346l7 7M105 353l7-7M105 347l7 7M105 354l7-7M106 341l7 7M106 348l7-7M106 348l7 7M106 355l7-7M106 346l7 7M106 353l7-7M106 345l7 7M106 352l7-7M106 345l7 7M106 352l7-7M106 343l7 7M106 350l7-7M107 343l7 7M107 350l7-7M107 346l7 7M107 353l7-7M107 346l7 7M107 353l7-7M107 345l7 7M107 352l7-7M107 343l7 7M107 350l7-7M108 344l7 7M108 351l7-7M108 348l7 7M108 355l7-7M108 350l7 7M108 357l7-7M108 341l7 7M108 348l7-7M108 341l7 7M108 348l7-7M108 345l7 7M108 352l7-7M109 345l7 7M109 352l7-7M109 347l7 7M109 354l7-7M109 348l7 7M109 355l7-7M109 347l7 7M109 354l7-7M109 347l7 7M109 354l7-7M110 348l7 7M110 355l7-7M110 350l7 7M110 357l7-7M110 347l7 7M110 354l7-7M110 345l7 7M110 352l7-7M110 348l7 7M110 355l7-7M110 347l7 7M110 354l7-7M111 352l7 7M111 359l7-7M111 347l7 7M111 354l7-7M111 347l7 7M111 354l7-7M111 350l7 7M111 357l7-7M111 351l7 7M111 358l7-7M112 346l7 7M112 353l7-7M112 349l7 7M112 356l7-7M112 347l7 7M112 354l7-7M112 349l7 7M112 356l7-7M112 346l7 7M112 353l7-7M112 349l7 7M112 356l7-7M113 351l7 7M113 358l7-7M113 348l7 7M113 355l7-7M113 349l7 7M113 356l7-7M113 347l7 7M113 354l7-7M113 349l7 7M113 356l7-7M114 349l7 7M114 356l7-7M114 347l7 7M114 354l7-7M114 346l7 7M114 353l7-7M114 347l7 7M114 354l7-7M114 347l7 7M114 354l7-7M114 348l7 7M114 355l7-7M115 347l7 7M115 354l7-7M115 347l7 7M115 354l7-7M115 348l7 7M115 355l7-7M115 349l7 7M115 356l7-7M115 349l7 7M115 356l7-7M115 344l7 7M115 351l7-7M116 350l7 7M116 357l7-7M116 350l7 7M116 357l7-7M116 351l7 7M116 358l7-7M116 350l7 7M116 357l7-7M116 349l7 7M116 356l7-7M117 352l7 7M117 359l7-7M117 354l7 7M117 361l7-7M117 350l7 7M117 357l7-7M117 354l7 7M117 361l7-7M117 350l7 7M117 357l7-7M117 350l7 7M117 357l7-7M118 348l7 7M118 355l7-7M118 347l7 7M118 354l7-7M118 350l7 7M118 357l7-7M118 352l7 7M118 359l7-7M118 353l7 7M118 360l7-7M119 353l7 7M119 360l7-7M119 351l7 7M119 358l7-7M119 355l7 7M119 362l7-7M119 351l7 7M119 358l7-7M119 351l7 7M119 358l7-7M119 350l7 7M119 357l7-7M120 352l7 7M120 359l7-7M120 351l7 7M120 358l7-7M120 353l7 7M120 360l7-7M120 353l7 7M120 360l7-7M120 355l7 7M120 362l7-7M121 352l7 7M121 359l7-7M121 349l7 7M121 356l7-7M121 352l7 7M121 359l7-7M121 351l7 7M121 358l7-7M121 354l7 7M121 361l7-7M121 349l7 7M121 356l7-7M122 354l7 7M122 361l7-7M122 351l7 7M122 358l7-7M122 352l7 7M122 359l7-7M122 354l7 7M122 361l7-7M122 348l7 7M122 355l7-7M123 353l7 7M123 360l7-7M123 352l7 7M123 359l7-7M123 352l7 7M123 359l7-7M123 353l7 7M123 360l7-7M123 354l7 7M123 361l7-7M123 352l7 7M123 359l7-7M124 354l7 7M124 361l7-7M124 353l7 7M124 360l7-7M124 355l7 7M124 362l7-7M124 356l7 7M124 363l7-7M124 355l7 7M124 362l7-7M125 355l7 7M125 362l7-7M125 354l7 7M125 361l7-7M125 351l7 7M125 358l7-7M125 357l7 7M125 364l7-7M125 354l7 7M125 361l7-7M125 358l7 7M125 365l7-7M126 358l7 7M126 365l7-7M126 355l7 7M126 362l7-7M126 358l7 7M126 365l7-7M126 358l7 7M126 365l7-7M126 354l7 7M126 361l7-7M126 354l7 7M126 361l7-7M127 355l7 7M127 362l7-7M127 356l7 7M127 363l7-7M127 350l7 7M127 357l7-7M127 355l7 7M127 362l7-7M127 358l7 7M127 365l7-7M128 352l7 7M128 359l7-7M128 354l7 7M128 361l7-7M128 356l7 7M128 363l7-7M128 353l7 7M128 360l7-7M128 355l7 7M128 362l7-7M128 354l7 7M128 361l7-7M129 354l7 7M129 361l7-7M129 357l7 7M129 364l7-7M129 354l7 7M129 361l7-7M129 355l7 7M129 362l7-7M129 357l7 7M129 364l7-7M130 357l7 7M130 364l7-7M130 354l7 7M130 361l7-7M130 356l7 7M130 363l7-7M130 356l7 7M130 363l7-7M130 355l7 7M130 362l7-7M130 356l7 7M130 363l7-7M131 359l7 7M131 366l7-7M131 355l7 7M131 362l7-7M131 354l7 7M131 361l7-7M131 355l7 7M131 362l7-7M131 353l7 7M131 360l7-7M132 356l7 7M132 363l7-7M132 355l7 7M132 362l7-7M132 354l7 7M132 361l7-7M132 357l7 7M132 364l7-7M132 354l7 7M132 361l7-7M132 354l7 7M132 361l7-7M133 355l7 7M133 362l7-7M133 354l7 7M133 361l7-7M133 356l7 7M133 363l7-7M133 359l7 7M133 366l7-7M133 355l7 7M133 362l7-7M134 357l7 7M134 364l7-7M134 357l7 7M134 364l7-7M134 357l7 7M134 364l7-7M134 355l7 7M134 362l7-7M134 357l7 7M134 364l7-7M134 359l7 7M134 366l7-7M135 357l7 7M135 364l7-7M135 357l7 7M135 364l7-7M135 361l7 7M135 368l7-7M135 359l7 7M135 366l7-7M135 359l7 7M135 366l7-7M136 359l7 7M136 366l7-7M136 358l7 7M136 365l7-7M136 355l7 7M136 362l7-7M136 355l7 7M136 362l7-7M136 356l7 7M136 363l7-7M136 357l7 7M136 364l7-7M137 357l7 7M137 364l7-7M137 356l7 7M137 363l7-7M137 359l7 7M137 366l7-7M137 358l7 7M137 365l7-7M137 358l7 7M137 365l7-7M137 359l7 7M137 366l7-7M138 360l7 7M138 367l7-7M138 360l7 7M138 367l7-7M138 360l7 7M138 367l7-7M138 361l7 7M138 368l7-7M138 358l7 7M138 365l7-7M139 359l7 7M139 366l7-7M139 359l7 7M139 366l7-7M139 359l7 7M139 366l7-7M139 358l7 7M139 365l7-7M139 361l7 7M139 368l7-7M139 360l7 7M139 367l7-7M140 363l7 7M140 370l7-7M140 364l7 7M140 371l7-7M140 363l7 7M140 370l7-7M140 357l7 7M140 364l7-7M140 363l7 7M140 370l7-7M141 359l7 7M141 366l7-7M141 358l7 7M141 365l7-7M141 361l7 7M141 368l7-7M141 358l7 7M141 365l7-7M141 357l7 7M141 364l7-7M141 359l7 7M141 366l7-7M142 357l7 7M142 364l7-7M142 360l7 7M142 367l7-7M142 362l7 7M142 369l7-7M142 360l7 7M142 367l7-7M142 362l7 7M142 369l7-7M143 363l7 7M143 370l7-7M143 363l7 7M143 370l7-7M143 357l7 7M143 364l7-7M143 362l7 7M143 369l7-7M143 361l7 7M143 368l7-7M143 362l7 7M143 369l7-7M144 361l7 7M144 368l7-7M144 362l7 7M144 369l7-7M144 362l7 7M144 369l7-7M144 363l7 7M144 370l7-7M144 364l7 7M144 371l7-7M145 363l7 7M145 370l7-7M145 361l7 7M145 368l7-7M145 358l7 7M145 365l7-7M145 360l7 7M145 367l7-7M145 359l7 7M145 366l7-7M145 361l7 7M145 368l7-7M146 362l7 7M146 369l7-7M146 364l7 7M146 371l7-7M146 362l7 7M146 369l7-7M146 366l7 7M146 373l7-7M146 363l7 7M146 370l7-7M147 360l7 7M147 367l7-7M147 362l7 7M147 369l7-7M147 361l7 7M147 368l7-7M147 363l7 7M147 370l7-7M147 365l7 7M147 372l7-7M147 363l7 7M147 370l7-7M148 363l7 7M148 370l7-7M148 361l7 7M148 368l7-7M148 360l7 7M148 367l7-7M148 364l7 7M148 371l7-7M148 363l7 7M148 370l7-7M149 363l7 7M149 370l7-7M149 364l7 7M149 371l7-7M149 365l7 7M149 372l7-7M149 363l7 7M149 370l7-7M149 363l7 7M149 370l7-7M149 363l7 7M149 370l7-7M150 365l7 7M150 372l7-7M150 363l7 7M150 370l7-7M150 366l7 7M150 373l7-7M150 362l7 7M150 369l7-7M150 365l7 7M150 372l7-7M150 364l7 7M150 371l7-7M151 364l7 7M151 371l7-7M151 364l7 7M151 371l7-7M151 365l7 7M151 372l7-7M151 366l7 7M151 373l7-7M151 361l7 7M151 368l7-7M152 363l7 7M152 370l7-7M152 363l7 7M152 370l7-7M152 361l7 7M152 368l7-7M152 364l7 7M152 371l7-7M152 363l7 7M152 370l7-7M152 364l7 7M152 371l7-7M153 362l7 7M153 369l7-7M153 363l7 7M153 370l7-7M153 364l7 7M153 371l7-7M153 365l7 7M153 372l7-7M153 364l7 7M153 371l7-7M154 363l7 7M154 370l7-7M154 367l7 7M154 374l7-7M154 365l7 7M154 372l7-7M154 365l7 7M154 372l7-7M154 365l7 7M154 372l7-7M154 367l7 7M154 374l7-7M155 363l7 7M155 370l7-7M155 366l7 7M155 373l7-7M155 365l7 7M155 372l7-7M155 365l7 7M155 372l7-7M155 367l7 7M155 374l7-7M156 365l7 7M156 372l7-7M156 367l7 7M156 374l7-7M156 366l7 7M156 373l7-7M156 365l7 7M156 372l7-7M156 365l7 7M156 372l7-7M156 365l7 7M156 372l7-7M157 365l7 7M157 372l7-7M157 362l7 7M157 369l7-7M157 365l7 7M157 372l7-7M157 367l7 7M157 374l7-7M157 366l7 7M157 373l7-7M158 366l7 7M158 373l7-7M158 366l7 7M158 373l7-7M158 366l7 7M158 373l7-7M158 367l7 7M158 374l7-7M158 363l7 7M158 370l7-7M158 365l7 7M158 372l7-7M159 366l7 7M159 373l7-7M159 366l7 7M159 373l7-7M159 366l7 7M159 373l7-7M159 364l7 7M159 371l7-7M159 365l7 7M159 372l7-7M160 364l7 7M160 371l7-7M160 370l7 7M160 377l7-7M160 365l7 7M160 372l7-7M160 364l7 7M160 371l7-7M160 363l7 7M160 370l7-7M160 366l7 7M160 373l7-7M161 368l7 7M161 375l7-7M161 364l7 7M161 371l7-7M161 367l7 7M161 374l7-7M161 369l7 7M161 376l7-7M161 367l7 7M161 374l7-7M161 365l7 7M161 372l7-7M162 365l7 7M162 372l7-7M162 365l7 7M162 372l7-7M162 368l7 7M162 375l7-7M162 363l7 7M162 370l7-7M162 368l7 7M162 375l7-7M163 366l7 7M163 373l7-7M163 368l7 7M163 375l7-7M163 365l7 7M163 372l7-7M163 366l7 7M163 373l7-7M163 365l7 7M163 372l7-7M163 366l7 7M163 373l7-7M164 367l7 7M164 374l7-7M164 366l7 7M164 373l7-7M164 369l7 7M164 376l7-7M164 365l7 7M164 372l7-7M164 366l7 7M164 373l7-7M165 367l7 7M165 374l7-7M165 367l7 7M165 374l7-7M165 367l7 7M165 374l7-7M165 365l7 7M165 372l7-7M165 366l7 7M165 373l7-7M165 367l7 7M165 374l7-7M166 368l7 7M166 375l7-7M166 369l7 7M166 376l7-7M166 368l7 7M166 375l7-7M166 367l7 7M166 374l7-7M166 368l7 7M166 375l7-7M167 367l7 7M167 374l7-7M167 366l7 7M167 373l7-7M167 367l7 7M167 374l7-7M167 367l7 7M167 374l7-7M167 367l7 7M167 374l7-7M167 367l7 7M167 374l7-7M168 368l7 7M168 375l7-7M168 367l7 7M168 374l7-7M168 370l7 7M168 377l7-7M168 366l7 7M168 373l7-7M168 369l7 7M168 376l7-7M169 367l7 7M169 374l7-7M169 368l7 7M169 375l7-7M169 366l7 7M169 373l7-7M169 368l7 7M169 375l7-7M169 369l7 7M169 376l7-7M169 366l7 7M169 373l7-7M170 368l7 7M170 375l7-7M170 368l7 7M170 375l7-7M170 368l7 7M170 375l7-7M170 367l7 7M170 374l7-7M170 367l7 7M170 374l7-7M171 368l7 7M171 375l7-7M171 370l7 7M171 377l7-7M171 368l7 7M171 375l7-7M171 368l7 7M171 375l7-7M171 366l7 7M171 373l7-7M171 368l7 7M171 375l7-7M172 368l7 7M172 375l7-7M172 367l7 7M172 374l7-7M172 368l7 7M172 375l7-7M172 368l7 7M172 375l7-7M172 368l7 7M172 375l7-7M172 370l7 7M172 377l7-7M173 367l7 7M173 374l7-7M173 368l7 7M173 375l7-7M173 369l7 7M173 376l7-7M173 370l7 7M173 377l7-7M173 368l7 7M173 375l7-7M174 367l7 7M174 374l7-7M174 369l7 7M174 376l7-7M174 370l7 7M174 377l7-7M174 368l7 7M174 375l7-7M174 370l7 7M174 377l7-7M174 371l7 7M174 378l7-7M175 369l7 7M175 376l7-7M175 369l7 7M175 376l7-7M175 369l7 7M175 376l7-7M175 369l7 7M175 376l7-7M175 368l7 7M175 375l7-7M176 369l7 7M176 376l7-7M176 369l7 7M176 376l7-7M176 369l7 7M176 376l7-7M176 368l7 7M176 375l7-7M176 368l7 7M176 375l7-7M176 368l7 7M176 375l7-7M177 368l7 7M177 375l7-7M177 373l7 7M177 380l7-7M177 370l7 7M177 377l7-7M177 369l7 7M177 376l7-7M177 369l7 7M177 376l7-7M178 371l7 7M178 378l7-7M178 367l7 7M178 374l7-7M178 369l7 7M178 376l7-7M178 370l7 7M178 377l7-7M178 369l7 7M178 376l7-7M178 370l7 7M178 377l7-7M179 370l7 7M179 377l7-7M179 369l7 7M179 376l7-7M179 370l7 7M179 377l7-7M179 371l7 7M179 378l7-7M179 370l7 7M179 377l7-7M180 369l7 7M180 376l7-7M180 371l7 7M180 378l7-7M180 368l7 7M180 375l7-7M180 372l7 7M180 379l7-7M180 367l7 7M180 374l7-7M180 367l7 7M180 374l7-7M181 371l7 7M181 378l7-7M181 369l7 7M181 376l7-7M181 368l7 7M181 375l7-7M181 370l7 7M181 377l7-7M181 371l7 7M181 378l7-7M182 369l7 7M182 376l7-7M182 367l7 7M182 374l7-7M182 371l7 7M182 378l7-7M182 369l7 7M182 376l7-7M182 370l7 7M182 377l7-7M182 370l7 7M182 377l7-7M183 370l7 7M183 377l7-7M183 370l7 7M183 377l7-7M183 369l7 7M183 376l7-7M183 369l7 7M183 376l7-7M183 371l7 7M183 378l7-7M183 368l7 7M183 375l7-7M184 371l7 7M184 378l7-7M184 369l7 7M184 376l7-7M184 370l7 7M184 377l7-7M184 369l7 7M184 376l7-7M184 370l7 7M184 377l7-7M185 369l7 7M185 376l7-7M185 370l7 7M185 377l7-7M185 369l7 7M185 376l7-7M185 370l7 7M185 377l7-7M185 368l7 7M185 375l7-7M185 371l7 7M185 378l7-7M186 369l7 7M186 376l7-7M186 370l7 7M186 377l7-7M186 370l7 7M186 377l7-7M186 371l7 7M186 378l7-7M186 370l7 7M186 377l7-7M187 372l7 7M187 379l7-7M187 372l7 7M187 379l7-7M187 370l7 7M187 377l7-7M187 372l7 7M187 379l7-7M187 369l7 7M187 376l7-7M187 371l7 7M187 378l7-7M188 370l7 7M188 377l7-7M188 370l7 7M188 377l7-7M188 370l7 7M188 377l7-7M188 371l7 7M188 378l7-7M188 371l7 7M188 378l7-7M189 371l7 7M189 378l7-7M189 369l7 7M189 376l7-7M189 369l7 7M189 376l7-7M189 368l7 7M189 375l7-7M189 370l7 7M189 377l7-7M189 371l7 7M189 378l7-7M190 373l7 7M190 380l7-7M190 370l7 7M190 377l7-7M190 370l7 7M190 377l7-7M190 371l7 7M190 378l7-7M190 370l7 7M190 377l7-7M191 369l7 7M191 376l7-7M191 371l7 7M191 378l7-7M191 370l7 7M191 377l7-7M191 371l7 7M191 378l7-7M191 373l7 7M191 380l7-7M191 371l7 7M191 378l7-7M192 371l7 7M192 378l7-7M192 370l7 7M192 377l7-7M192 372l7 7M192 379l7-7M192 371l7 7M192 378l7-7M192 372l7 7M192 379l7-7M193 371l7 7M193 378l7-7M193 371l7 7M193 378l7-7M193 370l7 7M193 377l7-7M193 370l7 7M193 377l7-7M193 371l7 7M193 378l7-7M193 371l7 7M193 378l7-7M194 371l7 7M194 378l7-7M194 371l7 7M194 378l7-7M194 370l7 7M194 377l7-7M194 374l7 7M194 381l7-7M194 371l7 7M194 378l7-7M194 371l7 7M194 378l7-7M195 370l7 7M195 377l7-7M195 372l7 7M195 379l7-7M195 371l7 7M195 378l7-7M195 370l7 7M195 377l7-7M195 372l7 7M195 379l7-7M196 373l7 7M196 380l7-7M196 372l7 7M196 379l7-7M196 373l7 7M196 380l7-7M196 371l7 7M196 378l7-7M196 372l7 7M196 379l7-7M196 370l7 7M196 377l7-7M197 371l7 7M197 378l7-7M197 372l7 7M197 379l7-7M197 372l7 7M197 379l7-7M197 373l7 7M197 380l7-7M197 371l7 7M197 378l7-7M198 370l7 7M198 377l7-7M198 372l7 7M198 379l7-7M198 371l7 7M198 378l7-7M198 373l7 7M198 380l7-7M198 371l7 7M198 378l7-7M198 369l7 7M198 376l7-7M199 373l7 7M199 380l7-7M199 370l7 7M199 377l7-7M199 371l7 7M199 378l7-7M199 374l7 7M199 381l7-7M199 373l7 7M199 380l7-7M200 373l7 7M200 380l7-7M200 371l7 7M200 378l7-7M200 372l7 7M200 379l7-7M200 372l7 7M200 379l7-7M200 371l7 7M200 378l7-7M200 372l7 7M200 379l7-7M201 372l7 7M201 379l7-7M201 372l7 7M201 379l7-7M201 371l7 7M201 378l7-7M201 373l7 7M201 380l7-7M201 370l7 7M201 377l7-7M202 372l7 7M202 379l7-7M202 373l7 7M202 380l7-7M202 371l7 7M202 378l7-7M202 371l7 7M202 378l7-7M202 374l7 7M202 381l7-7M202 372l7 7M202 379l7-7M203 373l7 7M203 380l7-7M203 373l7 7M203 380l7-7M203 371l7 7M203 378l7-7M203 373l7 7M203 380l7-7M203 372l7 7M203 379l7-7M204 372l7 7M204 379l7-7M204 370l7 7M204 377l7-7M204 372l7 7M204 379l7-7M204 373l7 7M204 380l7-7M204 373l7 7M204 380l7-7M204 373l7 7M204 380l7-7M205 372l7 7M205 379l7-7M205 372l7 7M205 379l7-7M205 371l7 7M205 378l7-7M205 372l7 7M205 379l7-7M205 372l7 7M205 379l7-7M205 372l7 7M205 379l7-7M206 372l7 7M206 379l7-7M206 372l7 7M206 379l7-7M206 371l7 7M206 378l7-7M206 371l7 7M206 378l7-7M206 373l7 7M206 380l7-7M207 374l7 7M207 381l7-7M207 373l7 7M207 380l7-7M207 372l7 7M207 379l7-7M207 375l7 7M207 382l7-7M207 373l7 7M207 380l7-7M207 372l7 7M207 379l7-7M208 373l7 7M208 380l7-7M208 373l7 7M208 380l7-7M208 371l7 7M208 378l7-7M208 371l7 7M208 378l7-7M208 373l7 7M208 380l7-7M209 371l7 7M209 378l7-7M209 371l7 7M209 378l7-7M209 373l7 7M209 380l7-7M209 370l7 7M209 377l7-7M209 373l7 7M209 380l7-7M209 373l7 7M209 380l7-7M210 373l7 7M210 380l7-7M210 372l7 7M210 379l7-7M210 374l7 7M210 381l7-7M210 373l7 7M210 380l7-7M210 372l7 7M210 379l7-7M211 372l7 7M211 379l7-7M211 373l7 7M211 380l7-7M211 371l7 7M211 378l7-7M211 373l7 7M211 380l7-7M211 372l7 7M211 379l7-7M211 373l7 7M211 380l7-7M212 372l7 7M212 379l7-7M212 373l7 7M212 380l7-7M212 372l7 7M212 379l7-7M212 373l7 7M212 380l7-7M212 373l7 7M212 380l7-7M213 373l7 7M213 380l7-7M213 372l7 7M213 379l7-7M213 373l7 7M213 380l7-7M213 374l7 7M213 381l7-7M213 373l7 7M213 380l7-7M213 373l7 7M213 380l7-7M214 373l7 7M214 380l7-7M214 373l7 7M214 380l7-7M214 373l7 7M214 380l7-7M214 373l7 7M214 380l7-7M214 373l7 7M214 380l7-7M215 374l7 7M215 381l7-7M215 375l7 7M215 382l7-7M215 373l7 7M215 380l7-7M215 374l7 7M215 381l7-7M215 374l7 7M215 381l7-7M215 374l7 7M215 381l7-7M216 372l7 7M216 379l7-7M216 374l7 7M216 381l7-7M216 372l7 7M216 379l7-7M216 373l7 7M216 380l7-7M216 374l7 7M216 381l7-7M216 374l7 7M216 381l7-7M217 373l7 7M217 380l7-7M217 373l7 7M217 380l7-7M217 372l7 7M217 379l7-7M217 370l7 7M217 377l7-7M217 373l7 7M217 380l7-7M218 373l7 7M218 380l7-7M218 373l7 7M218 380l7-7M218 373l7 7M218 380l7-7M218 373l7 7M218 380l7-7M218 374l7 7M218 381l7-7M218 371l7 7M218 378l7-7M219 375l7 7M219 382l7-7M219 373l7 7M219 380l7-7M219 373l7 7M219 380l7-7M219 373l7 7M219 380l7-7M219 374l7 7M219 381l7-7M220 373l7 7M220 380l7-7M220 374l7 7M220 381l7-7M220 374l7 7M220 381l7-7M220 373l7 7M220 380l7-7M220 374l7 7M220 381l7-7M220 374l7 7M220 381l7-7M221 373l7 7M221 380l7-7M221 374l7 7M221 381l7-7M221 373l7 7M221 380l7-7M221 374l7 7M221 381l7-7M221 373l7 7M221 380l7-7M222 373l7 7M222 380l7-7M222 373l7 7M222 380l7-7M222 374l7 7M222 381l7-7M222 374l7 7M222 381l7-7M222 374l7 7M222 381l7-7M222 373l7 7M222 380l7-7M223 373l7 7M223 380l7-7M223 372l7 7M223 379l7-7M223 374l7 7M223 381l7-7M223 373l7 7M223 380l7-7M223 375l7 7M223 382l7-7M224 375l7 7M224 382l7-7M224 374l7 7M224 381l7-7M224 374l7 7M224 381l7-7M224 375l7 7M224 382l7-7M224 375l7 7M224 382l7-7M224 373l7 7M224 380l7-7M225 374l7 7M225 381l7-7M225 375l7 7M225 382l7-7M225 372l7 7M225 379l7-7M225 373l7 7M225 380l7-7M225 374l7 7M225 381l7-7M226 373l7 7M226 380l7-7M226 374l7 7M226 381l7-7M226 372l7 7M226 379l7-7M226 375l7 7M226 382l7-7M226 375l7 7M226 382l7-7M226 374l7 7M226 381l7-7M227 374l7 7M227 381l7-7M227 372l7 7M227 379l7-7M227 376l7 7M227 383l7-7M227 374l7 7M227 381l7-7M227 373l7 7M227 380l7-7M227 373l7 7M227 380l7-7M228 373l7 7M228 380l7-7M228 373l7 7M228 380l7-7M228 372l7 7M228 379l7-7M228 374l7 7M228 381l7-7M228 374l7 7M228 381l7-7M229 372l7 7M229 379l7-7M229 374l7 7M229 381l7-7M229 374l7 7M229 381l7-7M229 374l7 7M229 381l7-7M229 375l7 7M229 382l7-7M229 375l7 7M229 382l7-7M230 374l7 7M230 381l7-7M230 375l7 7M230 382l7-7M230 374l7 7M230 381l7-7M230 375l7 7M230 382l7-7M230 372l7 7M230 379l7-7M231 372l7 7M231 379l7-7M231 373l7 7M231 380l7-7M231 374l7 7M231 381l7-7M231 374l7 7M231 381l7-7M231 373l7 7M231 380l7-7M231 374l7 7M231 381l7-7M232 373l7 7M232 380l7-7M232 375l7 7M232 382l7-7M232 373l7 7M232 380l7-7M232 375l7 7M232 382l7-7M232 374l7 7M232 381l7-7M233 375l7 7M233 382l7-7M233 375l7 7M233 382l7-7M233 374l7 7M233 381l7-7M233 374l7 7M233 381l7-7M233 374l7 7M233 381l7-7M233 373l7 7M233 380l7-7M234 374l7 7M234 381l7-7M234 373l7 7M234 380l7-7M234 376l7 7M234 383l7-7M234 374l7 7M234 381l7-7M234 374l7 7M234 381l7-7M235 375l7 7M235 382l7-7M235 375l7 7M235 382l7-7M235 373l7 7M235 380l7-7M235 375l7 7M235 382l7-7M235 375l7 7M235 382l7-7M235 374l7 7M235 381l7-7M236 374l7 7M236 381l7-7M236 374l7 7M236 381l7-7M236 375l7 7M236 382l7-7M236 374l7 7M236 381l7-7M236 373l7 7M236 380l7-7M237 374l7 7M237 381l7-7M237 376l7 7M237 383l7-7M237 374l7 7M237 381l7-7M237 374l7 7M237 381l7-7M237 375l7 7M237 382l7-7M237 373l7 7M237 380l7-7M238 376l7 7M238 383l7-7M238 373l7 7M238 380l7-7M238 375l7 7M238 382l7-7M238 373l7 7M238 380l7-7M238 374l7 7M238 381l7-7M238 375l7 7M238 382l7-7M239 374l7 7M239 381l7-7M239 374l7 7M239 381l7-7M239 374l7 7M239 381l7-7M239 374l7 7M239 381l7-7M239 375l7 7M239 382l7-7M240 374l7 7M240 381l7-7M240 374l7 7M240 381l7-7M240 375l7 7M240 382l7-7M240 375l7 7M240 382l7-7M240 375l7 7M240 382l7-7M240 374l7 7M240 381l7-7M241 374l7 7M241 381l7-7M241 375l7 7M241 382l7-7M241 376l7 7M241 383l7-7M241 374l7 7M241 381l7-7M241 376l7 7M241 383l7-7M242 374l7 7M242 381l7-7M242 375l7 7M242 382l7-7M242 376l7 7M242 383l7-7M242 375l7 7M242 382l7-7M242 375l7 7M242 382l7-7M242 374l7 7M242 381l7-7M243 373l7 7M243 380l7-7M243 375l7 7M243 382l7-7M243 374l7 7M243 381l7-7M243 374l7 7M243 381l7-7M243 375l7 7M243 382l7-7M244 375l7 7M244 382l7-7M244 374l7 7M244 381l7-7M244 375l7 7M244 382l7-7M244 375l7 7M244 382l7-7M244 375l7 7M244 382l7-7M244 375l7 7M244 382l7-7M245 375l7 7M245 382l7-7M245 374l7 7M245 381l7-7M245 374l7 7M245 381l7-7M245 375l7 7M245 382l7-7M245 376l7 7M245 383l7-7M246 375l7 7M246 382l7-7M246 376l7 7M246 383l7-7M246 375l7 7M246 382l7-7M246 374l7 7M246 381l7-7M246 373l7 7M246 380l7-7M246 375l7 7M246 382l7-7M247 376l7 7M247 383l7-7M247 374l7 7M247 381l7-7M247 377l7 7M247 384l7-7M247 375l7 7M247 382l7-7M247 374l7 7M247 381l7-7M248 374l7 7M248 381l7-7M248 376l7 7M248 383l7-7M248 376l7 7M248 383l7-7M248 374l7 7M248 381l7-7M248 375l7 7M248 382l7-7M248 375l7 7M248 382l7-7M249 375l7 7M249 382l7-7M249 375l7 7M249 382l7-7M249 376l7 7M249 383l7-7M249 374l7 7M249 381l7-7M249 375l7 7M249 382l7-7M249 376l7 7M249 383l7-7M250 376l7 7M250 383l7-7M250 375l7 7M250 382l7-7M250 376l7 7M250 383l7-7M250 375l7 7M250 382l7-7M250 375l7 7M250 382l7-7M251 374l7 7M251 381l7-7M251 375l7 7M251 382l7-7M251 376l7 7M251 383l7-7M251 376l7 7M251 383l7-7M251 376l7 7M251 383l7-7M251 375l7 7M251 382l7-7M252 371l7 7M252 378l7-7M252 376l7 7M252 383l7-7M252 376l7 7M252 383l7-7M252 375l7 7M252 382l7-7M252 375l7 7M252 382l7-7M253 376l7 7M253 383l7-7M253 375l7 7M253 382l7-7M253 376l7 7M253 383l7-7M253 375l7 7M253 382l7-7M253 375l7 7M253 382l7-7M253 374l7 7M253 381l7-7M254 375l7 7M254 382l7-7M254 375l7 7M254 382l7-7M254 375l7 7M254 382l7-7M254 374l7 7M254 381l7-7M254 375l7 7M254 382l7-7M255 376l7 7M255 383l7-7M255 375l7 7M255 382l7-7M255 375l7 7M255 382l7-7M255 376l7 7M255 383l7-7M255 376l7 7M255 383l7-7M255 375l7 7M255 382l7-7M256 375l7 7M256 382l7-7M256 375l7 7M256 382l7-7M256 375l7 7M256 382l7-7M256 376l7 7M256 383l7-7M256 376l7 7M256 383l7-7M257 376l7 7M257 383l7-7M257 376l7 7M257 383l7-7M257 376l7 7M257 383l7-7M257 376l7 7M257 383l7-7M257 374l7 7M257 381l7-7M257 376l7 7M257 383l7-7M258 375l7 7M258 382l7-7M258 376l7 7M258 383l7-7M258 374l7 7M258 381l7-7M258 375l7 7M258 382l7-7M258 376l7 7M258 383l7-7M259 375l7 7M259 382l7-7M259 375l7 7M259 382l7-7M259 376l7 7M259 383l7-7M259 374l7 7M259 381l7-7M259 375l7 7M259 382l7-7M259 374l7 7M259 381l7-7M260 375l7 7M260 382l7-7M260 375l7 7M260 382l7-7M260 375l7 7M260 382l7-7M260 376l7 7M260 383l7-7M260 375l7 7M260 382l7-7M261 375l7 7M261 382l7-7M261 375l7 7M261 382l7-7M261 375l7 7M261 382l7-7M261 376l7 7M261 383l7-7M261 376l7 7M261 383l7-7M261 375l7 7M261 382l7-7M262 375l7 7M262 382l7-7M262 376l7 7M262 383l7-7M262 375l7 7M262 382l7-7M262 374l7 7M262 381l7-7M262 376l7 7M262 383l7-7M262 376l7 7M262 383l7-7M263 376l7 7M263 383l7-7M263 375l7 7M263 382l7-7M263 375l7 7M263 382l7-7M263 376l7 7M263 383l7-7M263 376l7 7M263 383l7-7M264 376l7 7M264 383l7-7M264 375l7 7M264 382l7-7M264 376l7 7M264 383l7-7M264 376l7 7M264 383l7-7M264 375l7 7M264 382l7-7M264 376l7 7M264 383l7-7M265 375l7 7M265 382l7-7M265 375l7 7M265 382l7-7M265 376l7 7M265 383l7-7M265 376l7 7M265 383l7-7M265 375l7 7M265 382l7-7M266 376l7 7M266 383l7-7M266 376l7 7M266 383l7-7M266 375l7 7M266 382l7-7M266 375l7 7M266 382l7-7M266 376l7 7M266 383l7-7M266 376l7 7M266 383l7-7M267 375l7 7M267 382l7-7M267 375l7 7M267 382l7-7M267 375l7 7M267 382l7-7M267 376l7 7M267 383l7-7M267 375l7 7M267 382l7-7M268 375l7 7M268 382l7-7M268 376l7 7M268 383l7-7M268 375l7 7M268 382l7-7M268 375l7 7M268 382l7-7M268 374l7 7M268 381l7-7M268 376l7 7M268 383l7-7M269 375l7 7M269 382l7-7M269 376l7 7M269 383l7-7M269 376l7 7M269 383l7-7M269 375l7 7M269 382l7-7M269 375l7 7M269 382l7-7M270 376l7 7M270 383l7-7M270 376l7 7M270 383l7-7M270 375l7 7M270 382l7-7M270 376l7 7M270 383l7-7M270 375l7 7M270 382l7-7M270 376l7 7M270 383l7-7M271 375l7 7M271 382l7-7M271 375l7 7M271 382l7-7M271 374l7 7M271 381l7-7M271 376l7 7M271 383l7-7M271 376l7 7M271 383l7-7M272 375l7 7M272 382l7-7M272 376l7 7M272 383l7-7M272 376l7 7M272 383l7-7M272 376l7 7M272 383l7-7M272 375l7 7M272 382l7-7M272 375l7 7M272 382l7-7M273 375l7 7M273 382l7-7M273 376l7 7M273 383l7-7M273 376l7 7M273 383l7-7M273 376l7 7M273 383l7-7M273 376l7 7M273 383l7-7M273 375l7 7M273 382l7-7M274 376l7 7M274 383l7-7M274 375l7 7M274 382l7-7M274 376l7 7M274 383l7-7M274 376l7 7M274 383l7-7M274 377l7 7M274 384l7-7M275 375l7 7M275 382l7-7M275 376l7 7M275 383l7-7M275 375l7 7M275 382l7-7M275 375l7 7M275 382l7-7M275 376l7 7M275 383l7-7M275 375l7 7M275 382l7-7M276 377l7 7M276 384l7-7M276 376l7 7M276 383l7-7M276 377l7 7M276 384l7-7M276 376l7 7M276 383l7-7M276 376l7 7M276 383l7-7M277 376l7 7M277 383l7-7M277 375l7 7M277 382l7-7M277 376l7 7M277 383l7-7M277 376l7 7M277 383l7-7M277 376l7 7M277 383l7-7M277 377l7 7M277 384l7-7M278 376l7 7M278 383l7-7M278 375l7 7M278 382l7-7M278 376l7 7M278 383l7-7M278 375l7 7M278 382l7-7M278 376l7 7M278 383l7-7M279 375l7 7M279 382l7-7M279 376l7 7M279 383l7-7M279 376l7 7M279 383l7-7M279 377l7 7M279 384l7-7M279 376l7 7M279 383l7-7M279 375l7 7M279 382l7-7M280 376l7 7M280 383l7-7M280 375l7 7M280 382l7-7M280 376l7 7M280 383l7-7M280 378l7 7M280 385l7-7M280 376l7 7M280 383l7-7M281 376l7 7M281 383l7-7M281 376l7 7M281 383l7-7M281 376l7 7M281 383l7-7M281 376l7 7M281 383l7-7M281 376l7 7M281 383l7-7M281 376l7 7M281 383l7-7M282 376l7 7M282 383l7-7M282 377l7 7M282 384l7-7M282 376l7 7M282 383l7-7M282 376l7 7M282 383l7-7M282 376l7 7M282 383l7-7M283 376l7 7M283 383l7-7M283 376l7 7M283 383l7-7M283 376l7 7M283 383l7-7M283 375l7 7M283 382l7-7M283 376l7 7M283 383l7-7M283 377l7 7M283 384l7-7M284 376l7 7M284 383l7-7M284 375l7 7M284 382l7-7M284 376l7 7M284 383l7-7M284 376l7 7M284 383l7-7M284 376l7 7M284 383l7-7M284 376l7 7M284 383l7-7M285 376l7 7M285 383l7-7M285 376l7 7M285 383l7-7M285 376l7 7M285 383l7-7M285 376l7 7M285 383l7-7M285 376l7 7M285 383l7-7M286 376l7 7M286 383l7-7M286 377l7 7M286 384l7-7M286 376l7 7M286 383l7-7M286 377l7 7M286 384l7-7M286 375l7 7M286 382l7-7M286 375l7 7M286 382l7-7M287 375l7 7M287 382l7-7M287 376l7 7M287 383l7-7M287 376l7 7M287 383l7-7M287 375l7 7M287 382l7-7M287 376l7 7M287 383l7-7M288 376l7 7M288 383l7-7M288 377l7 7M288 384l7-7M288 376l7 7M288 383l7-7M288 376l7 7M288 383l7-7M288 375l7 7M288 382l7-7M288 376l7 7M288 383l7-7M289 375l7 7M289 382l7-7M289 373l7 7M289 380l7-7M289 377l7 7M289 384l7-7M289 376l7 7M289 383l7-7M289 377l7 7M289 384l7-7M290 376l7 7M290 383l7-7M290 376l7 7M290 383l7-7M290 376l7 7M290 383l7-7M290 376l7 7M290 383l7-7M290 376l7 7M290 383l7-7M290 376l7 7M290 383l7-7M291 376l7 7M291 383l7-7M291 376l7 7M291 383l7-7M291 376l7 7M291 383l7-7M291 376l7 7M291 383l7-7M291 376l7 7M291 383l7-7M292 376l7 7M292 383l7-7M292 377l7 7M292 384l7-7M292 375l7 7M292 382l7-7M292 375l7 7M292 382l7-7M292 376l7 7M292 383l7-7M292 377l7 7M292 384l7-7M293 375l7 7M293 382l7-7M293 376l7 7M293 383l7-7M293 378l7 7M293 385l7-7M293 376l7 7M293 383l7-7M293 376l7 7M293 383l7-7M294 376l7 7M294 383l7-7M294 375l7 7M294 382l7-7M294 376l7 7M294 383l7-7M294 376l7 7M294 383l7-7M294 377l7 7M294 384l7-7M294 377l7 7M294 384l7-7M295 376l7 7M295 383l7-7M295 376l7 7M295 383l7-7M295 377l7 7M295 384l7-7M295 377l7 7M295 384l7-7M295 376l7 7M295 383l7-7M295 377l7 7M295 384l7-7M296 377l7 7M296 384l7-7M296 376l7 7M296 383l7-7M296 376l7 7M296 383l7-7M296 376l7 7M296 383l7-7M296 377l7 7M296 384l7-7M297 376l7 7M297 383l7-7M297 378l7 7M297 385l7-7M297 376l7 7M297 383l7-7M297 376l7 7M297 383l7-7M297 376l7 7M297 383l7-7M297 376l7 7M297 383l7-7M298 377l7 7M298 384l7-7M298 376l7 7M298 383l7-7M298 376l7 7M298 383l7-7M298 376l7 7M298 383l7-7M298 375l7 7M298 382l7-7M299 377l7 7M299 384l7-7M299 376l7 7M299 383l7-7M299 376l7 7M299 383l7-7M299 377l7 7M299 384l7-7M299 376l7 7M299 383l7-7M299 377l7 7M299 384l7-7M300 377l7 7M300 384l7-7M300 376l7 7M300 383l7-7M300 376l7 7M300 383l7-7M300 376l7 7M300 383l7-7M300 376l7 7M300 383l7-7M301 377l7 7M301 384l7-7M301 376l7 7M301 383l7-7M301 376l7 7M301 383l7-7M301 376l7 7M301 383l7-7M301 376l7 7M301 383l7-7M301 377l7 7M301 384l7-7M302 377l7 7M302 384l7-7M302 376l7 7M302 383l7-7M302 377l7 7M302 384l7-7M302 377l7 7M302 384l7-7M302 376l7 7M302 383l7-7M303 377l7 7M303 384l7-7M303 375l7 7M303 382l7-7M303 377l7 7M303 384l7-7M303 376l7 7M303 383l7-7M303 377l7 7M303 384l7-7M303 376l7 7M303 383l7-7M304 377l7 7M304 384l7-7M304 376l7 7M304 383l7-7M304 376l7 7M304 383l7-7M304 377l7 7M304 384l7-7M304 376l7 7M304 383l7-7M305 376l7 7M305 383l7-7M305 377l7 7M305 384l7-7M305 376l7 7M305 383l7-7M305 376l7 7M305 383l7-7M305 376l7 7M305 383l7-7M305 375l7 7M305 382l7-7M306 378l7 7M306 385l7-7M306 377l7 7M306 384l7-7M306 377l7 7M306 384l7-7M306 377l7 7M306 384l7-7M306 377l7 7M306 384l7-7M306 375l7 7M306 382l7-7M307 376l7 7M307 383l7-7M307 376l7 7M307 383l7-7M307 376l7 7M307 383l7-7M307 377l7 7M307 384l7-7M307 376l7 7M307 383l7-7M308 376l7 7M308 383l7-7M308 376l7 7M308 383l7-7M308 376l7 7M308 383l7-7M308 376l7 7M308 383l7-7M308 377l7 7M308 384l7-7M308 377l7 7M308 384l7-7M309 376l7 7M309 383l7-7M309 376l7 7M309 383l7-7M309 377l7 7M309 384l7-7M309 377l7 7M309 384l7-7M309 377l7 7M309 384l7-7M310 377l7 7M310 384l7-7M310 376l7 7M310 383l7-7M310 376l7 7M310 383l7-7M310 376l7 7M310 383l7-7M310 377l7 7M310 384l7-7M310 377l7 7M310 384l7-7M311 376l7 7M311 383l7-7M311 377l7 7M311 384l7-7M311 376l7 7M311 383l7-7M311 377l7 7M311 384l7-7M311 377l7 7M311 384l7-7M312 376l7 7M312 383l7-7M312 377l7 7M312 384l7-7M312 377l7 7M312 384l7-7M312 377l7 7M312 384l7-7M312 376l7 7M312 383l7-7M312 375l7 7M312 382l7-7M313 378l7 7M313 385l7-7M313 377l7 7M313 384l7-7M313 377l7 7M313 384l7-7M313 376l7 7M313 383l7-7M313 377l7 7M313 384l7-7M314 378l7 7M314 385l7-7M314 376l7 7M314 383l7-7M314 377l7 7M314 384l7-7M314 377l7 7M314 384l7-7M314 377l7 7M314 384l7-7M314 377l7 7M314 384l7-7M315 377l7 7M315 384l7-7M315 376l7 7M315 383l7-7M315 376l7 7M315 383l7-7M315 377l7 7M315 384l7-7M315 376l7 7M315 383l7-7M316 377l7 7M316 384l7-7M316 376l7 7M316 383l7-7M316 376l7 7M316 383l7-7M316 376l7 7M316 383l7-7M316 377l7 7M316 384l7-7M316 377l7 7M316 384l7-7M317 376l7 7M317 383l7-7M317 377l7 7M317 384l7-7M317 377l7 7M317 384l7-7M317 376l7 7M317 383l7-7M317 377l7 7M317 384l7-7M317 376l7 7M317 383l7-7M318 376l7 7M318 383l7-7M318 376l7 7M318 383l7-7M318 378l7 7M318 385l7-7M318 376l7 7M318 383l7-7M318 377l7 7M318 384l7-7M319 377l7 7M319 384l7-7M319 377l7 7M319 384l7-7M319 375l7 7M319 382l7-7M319 376l7 7M319 383l7-7M319 377l7 7M319 384l7-7M319 377l7 7M319 384l7-7M320 376l7 7M320 383l7-7M320 377l7 7M320 384l7-7M320 377l7 7M320 384l7-7M320 377l7 7M320 384l7-7M320 376l7 7M320 383l7-7M321 377l7 7M321 384l7-7M321 376l7 7M321 383l7-7M321 377l7 7M321 384l7-7M321 377l7 7M321 384l7-7M321 376l7 7M321 383l7-7M321 376l7 7M321 383l7-7M322 377l7 7M322 384l7-7M322 376l7 7M322 383l7-7M322 376l7 7M322 383l7-7M322 377l7 7M322 384l7-7M322 376l7 7M322 383l7-7M323 376l7 7M323 383l7-7M323 377l7 7M323 384l7-7M323 377l7 7M323 384l7-7M323 377l7 7M323 384l7-7M323 377l7 7M323 384l7-7M323 377l7 7M323 384l7-7M324 377l7 7M324 384l7-7M324 377l7 7M324 384l7-7M324 377l7 7M324 384l7-7M324 377l7 7M324 384l7-7M324 377l7 7M324 384l7-7M325 376l7 7M325 383l7-7M325 376l7 7M325 383l7-7M325 375l7 7M325 382l7-7M325 377l7 7M325 384l7-7M325 376l7 7M325 383l7-7M325 377l7 7M325 384l7-7M326 377l7 7M326 384l7-7M326 377l7 7M326 384l7-7M326 377l7 7M326 384l7-7M326 376l7 7M326 383l7-7M326 376l7 7M326 383l7-7M327 377l7 7M327 384l7-7M327 377l7 7M327 384l7-7M327 377l7 7M327 384l7-7M327 376l7 7M327 383l7-7M327 376l7 7M327 383l7-7M327 377l7 7M327 384l7-7M328 377l7 7M328 384l7-7M328 377l7 7M328 384l7-7M328 377l7 7M328 384l7-7M328 376l7 7M328 383l7-7M328 376l7 7M328 383l7-7M328 377l7 7M328 384l7-7M329 377l7 7M329 384l7-7M329 376l7 7M329 383l7-7M329 376l7 7M329 383l7-7M329 376l7 7M329 383l7-7M329 377l7 7M329 384l7-7M330 377l7 7M330 384l7-7M330 376l7 7M330 383l7-7M330 377l7 7M330 384l7-7M330 377l7 7M330 384l7-7M330 377l7 7M330 384l7-7M330 376l7 7M330 383l7-7M331 377l7 7M331 384l7-7M331 376l7 7M331 383l7-7M331 376l7 7M331 383l7-7M331 377l7 7M331 384l7-7M331 377l7 7M331 384l7-7M332 377l7 7M332 384l7-7M332 376l7 7M332 383l7-7M332 376l7 7M332 383l7-7M332 377l7 7M332 384l7-7M332 377l7 7M332 384l7-7M332 376l7 7M332 383l7-7M333 377l7 7M333 384l7-7M333 376l7 7M333 383l7-7M333 377l7 7M333 384l7-7M333 376l7 7M333 383l7-7M333 377l7 7M333 384l7-7M334 376l7 7M334 383l7-7M334 377l7 7M334 384l7-7M334 376l7 7M334 383l7-7M334 376l7 7M334 383l7-7M334 377l7 7M334 384l7-7M334 377l7 7M334 384l7-7M335 377l7 7M335 384l7-7M335 377l7 7M335 384l7-7M335 377l7 7M335 384l7-7M335 377l7 7M335 384l7-7M335 377l7 7M335 384l7-7M336 376l7 7M336 383l7-7M336 376l7 7M336 383l7-7M336 377l7 7M336 384l7-7M336 377l7 7M336 384l7-7M336 376l7 7M336 383l7-7M336 376l7 7M336 383l7-7M337 377l7 7M337 384l7-7M337 377l7 7M337 384l7-7M337 377l7 7M337 384l7-7M337 377l7 7M337 384l7-7M337 377l7 7M337 384l7-7M338 376l7 7M338 383l7-7M338 377l7 7M338 384l7-7M338 377l7 7M338 384l7-7M338 378l7 7M338 385l7-7M338 377l7 7M338 384l7-7M338 377l7 7M338 384l7-7M339 377l7 7M339 384l7-7M339 377l7 7M339 384l7-7M339 377l7 7M339 384l7-7M339 377l7 7M339 384l7-7M339 377l7 7M339 384l7-7M339 376l7 7M339 383l7-7M340 377l7 7M340 384l7-7M340 377l7 7M340 384l7-7M340 377l7 7M340 384l7-7M340 376l7 7M340 383l7-7M340 377l7 7M340 384l7-7M341 377l7 7M341 384l7-7M341 377l7 7M341 384l7-7M341 377l7 7M341 384l7-7M341 377l7 7M341 384l7-7M341 377l7 7M341 384l7-7M341 377l7 7M341 384l7-7M342 376l7 7M342 383l7-7M342 376l7 7M342 383l7-7M342 376l7 7M342 383l7-7M342 376l7 7M342 383l7-7M342 377l7 7M342 384l7-7M343 377l7 7M343 384l7-7M343 376l7 7M343 383l7-7M343 377l7 7M343 384l7-7M343 377l7 7M343 384l7-7M343 378l7 7M343 385l7-7M343 377l7 7M343 384l7-7M344 377l7 7M344 384l7-7M344 377l7 7M344 384l7-7M344 377l7 7M344 384l7-7M344 377l7 7M344 384l7-7M344 377l7 7M344 384l7-7M345 377l7 7M345 384l7-7M345 377l7 7M345 384l7-7M345 376l7 7M345 383l7-7M345 377l7 7M345 384l7-7M345 377l7 7M345 384l7-7M345 377l7 7M345 384l7-7M346 377l7 7M346 384l7-7M346 377l7 7M346 384l7-7M346 377l7 7M346 384l7-7M346 377l7 7M346 384l7-7M346 377l7 7M346 384l7-7M347 376l7 7M347 383l7-7M347 377l7 7M347 384l7-7M347 377l7 7M347 384l7-7M347 377l7 7M347 384l7-7M347 376l7 7M347 383l7-7M347 376l7 7M347 383l7-7M348 377l7 7M348 384l7-7M348 376l7 7M348 383l7-7M348 377l7 7M348 384l7-7M348 377l7 7M348 384l7-7M348 377l7 7M348 384l7-7M349 377l7 7M349 384l7-7M349 377l7 7M349 384l7-7M349 377l7 7M349 384l7-7M349 377l7 7M349 384l7-7M349 377l7 7M349 384l7-7M349 378l7 7M349 385l7-7M350 377l7 7M350 384l7-7M350 376l7 7M350 383l7-7M350 377l7 7M350 384l7-7M350 377l7 7M350 384l7-7M350 377l7 7M350 384l7-7M351 376l7 7M351 383l7-7M351 377l7 7M351 384l7-7M351 377l7 7M351 384l7-7M351 377l7 7M351 384l7-7M351 376l7 7M351 383l7-7M351 377l7 7M351 384l7-7M352 377l7 7M352 384l7-7M352 377l7 7M352 384l7-7M352 377l7 7M352 384l7-7M352 376l7 7M352 383l7-7M352 377l7 7M352 384l7-7M352 378l7 7M352 385l7-7M353 377l7 7M353 384l7-7M353 377l7 7M353 384l7-7M353 377l7 7M353 384l7-7M353 376l7 7M353 383l7-7M353 377l7 7M353 384l7-7M354 377l7 7M354 384l7-7M354 377l7 7M354 384l7-7M354 376l7 7M354 383l7-7M354 377l7 7M354 384l7-7M354 377l7 7M354 384l7-7M354 377l7 7M354 384l7-7M355 376l7 7M355 383l7-7M355 376l7 7M355 383l7-7M355 376l7 7M355 383l7-7M355 377l7 7M355 384l7-7M355 376l7 7M355 383l7-7M356 377l7 7M356 384l7-7M356 377l7 7M356 384l7-7M356 377l7 7M356 384l7-7M356 377l7 7M356 384l7-7M356 377l7 7M356 384l7-7M356 377l7 7M356 384l7-7M357 377l7 7M357 384l7-7M357 377l7 7M357 384l7-7M357 377l7 7M357 384l7-7M357 377l7 7M357 384l7-7M357 377l7 7M357 384l7-7M358 376l7 7M358 383l7-7M358 377l7 7M358 384l7-7M358 377l7 7M358 384l7-7M358 377l7 7M358 384l7-7M358 377l7 7M358 384l7-7M358 377l7 7M358 384l7-7M359 377l7 7M359 384l7-7M359 376l7 7M359 383l7-7M359 376l7 7M359 383l7-7M359 376l7 7M359 383l7-7M359 377l7 7M359 384l7-7M360 378l7 7M360 385l7-7M360 377l7 7M360 384l7-7M360 377l7 7M360 384l7-7M360 377l7 7M360 384l7-7M360 377l7 7M360 384l7-7M360 377l7 7M360 384l7-7M361 376l7 7M361 383l7-7M361 377l7 7M361 384l7-7M361 376l7 7M361 383l7-7M361 377l7 7M361 384l7-7M361 377l7 7M361 384l7-7M362 377l7 7M362 384l7-7M362 377l7 7M362 384l7-7M362 377l7 7M362 384l7-7M362 378l7 7M362 385l7-7M362 378l7 7M362 385l7-7M362 377l7 7M362 384l7-7M363 377l7 7M363 384l7-7M363 377l7 7M363 384l7-7M363 377l7 7M363 384l7-7M363 377l7 7M363 384l7-7M363 377l7 7M363 384l7-7M363 378l7 7M363 385l7-7M364 378l7 7M364 385l7-7M364 377l7 7M364 384l7-7M364 377l7 7M364 384l7-7M364 377l7 7M364 384l7-7M364 377l7 7M364 384l7-7M365 376l7 7M365 383l7-7M365 376l7 7M365 383l7-7M365 377l7 7M365 384l7-7M365 377l7 7M365 384l7-7M365 376l7 7M365 383l7-7M365 377l7 7M365 384l7-7M366 376l7 7M366 383l7-7M366 378l7 7M366 385l7-7M366 376l7 7M366 383l7-7M366 377l7 7M366 384l7-7M366 378l7 7M366 385l7-7M367 377l7 7M367 384l7-7M367 377l7 7M367 384l7-7M367 376l7 7M367 383l7-7M367 376l7 7M367 383l7-7M367 377l7 7M367 384l7-7M367 377l7 7M367 384l7-7M368 377l7 7M368 384l7-7M368 377l7 7M368 384l7-7M368 377l7 7M368 384l7-7M368 377l7 7M368 384l7-7M368 377l7 7M368 384l7-7M369 377l7 7M369 384l7-7M369 377l7 7M369 384l7-7M369 376l7 7M369 383l7-7M369 376l7 7M369 383l7-7M369 377l7 7M369 384l7-7M369 377l7 7M369 384l7-7M370 377l7 7M370 384l7-7M370 377l7 7M370 384l7-7M370 377l7 7M370 384l7-7M370 377l7 7M370 384l7-7M370 377l7 7M370 384l7-7M371 377l7 7M371 384l7-7M371 377l7 7M371 384l7-7M371 377l7 7M371 384l7-7M371 377l7 7M371 384l7-7M371 377l7 7M371 384l7-7M371 377l7 7M371 384l7-7M372 377l7 7M372 384l7-7M372 377l7 7M372 384l7-7M372 377l7 7M372 384l7-7M372 377l7 7M372 384l7-7M372 377l7 7M372 384l7-7M373 377l7 7M373 384l7-7M373 377l7 7M373 384l7-7M373 377l7 7M373 384l7-7M373 376l7 7M373 383l7-7M373 377l7 7M373 384l7-7M373 377l7 7M373 384l7-7M374 377l7 7M374 384l7-7M374 377l7 7M374 384l7-7M374 377l7 7M374 384l7-7M374 377l7 7M374 384l7-7M374 377l7 7M374 384l7-7M374 377l7 7M374 384l7-7M375 377l7 7M375 384l7-7M375 378l7 7M375 385l7-7M375 377l7 7M375 384l7-7M375 377l7 7M375 384l7-7M375 378l7 7M375 385l7-7M376 377l7 7M376 384l7-7M376 378l7 7M376 385l7-7M376 378l7 7M376 385l7-7M376 377l7 7M376 384l7-7M376 377l7 7M376 384l7-7M376 377l7 7M376 384l7-7M377 377l7 7M377 384l7-7M377 376l7 7M377 383l7-7M377 376l7 7M377 383l7-7M377 377l7 7M377 384l7-7M377 376l7 7M377 383l7-7M378 377l7 7M378 384l7-7M378 377l7 7M378 384l7-7M378 377l7 7M378 384l7-7M378 377l7 7M378 384l7-7M378 377l7 7M378 384l7-7M378 377l7 7M378 384l7-7M379 378l7 7M379 385l7-7M379 377l7 7M379 384l7-7M379 377l7 7M379 384l7-7M379 378l7 7M379 385l7-7M379 377l7 7M379 384l7-7M380 377l7 7M380 384l7-7M380 377l7 7M380 384l7-7M380 377l7 7M380 384l7-7M380 377l7 7M380 384l7-7M380 378l7 7M380 385l7-7M380 377l7 7M380 384l7-7M381 377l7 7M381 384l7-7M381 377l7 7M381 384l7-7M381 376l7 7M381 383l7-7M381 378l7 7M381 385l7-7M381 377l7 7M381 384l7-7M382 377l7 7M382 384l7-7M382 377l7 7M382 384l7-7M382 376l7 7M382 383l7-7M382 377l7 7M382 384l7-7M382 377l7 7M382 384l7-7M382 377l7 7M382 384l7-7M383 376l7 7M383 383l7-7M383 378l7 7M383 385l7-7M383 377l7 7M383 384l7-7M383 377l7 7M383 384l7-7M383 377l7 7M383 384l7-7M384 378l7 7M384 385l7-7M384 377l7 7M384 384l7-7M384 377l7 7M384 384l7-7M384 378l7 7M384 385l7-7M384 377l7 7M384 384l7-7M384 377l7 7M384 384l7-7M385 377l7 7M385 384l7-7M385 377l7 7M385 384l7-7M385 377l7 7M385 384l7-7M385 377l7 7M385 384l7-7M385 377l7 7M385 384l7-7M385 377l7 7M385 384l7-7M386 377l7 7M386 384l7-7M386 377l7 7M386 384l7-7M386 377l7 7M386 384l7-7M386 378l7 7M386 385l7-7M386 377l7 7M386 384l7-7M387 377l7 7M387 384l7-7M387 377l7 7M387 384l7-7M387 377l7 7M387 384l7-7M387 377l7 7M387 384l7-7M387 377l7 7M387 384l7-7M387 377l7 7M387 384l7-7M388 377l7 7M388 384l7-7M388 377l7 7M388 384l7-7M388 377l7 7M388 384l7-7M388 378l7 7M388 385l7-7M388 377l7 7M388 384l7-7M389 377l7 7M389 384l7-7M389 377l7 7M389 384l7-7M389 377l7 7M389 384l7-7M389 378l7 7M389 385l7-7M389 377l7 7M389 384l7-7M389 377l7 7M389 384l7-7M390 376l7 7M390 383l7-7M390 377l7 7M390 384l7-7M390 378l7 7M390 385l7-7M390 377l7 7M390 384l7-7M390 378l7 7M390 385l7-7M391 377l7 7M391 384l7-7M391 377l7 7M391 384l7-7M391 377l7 7M391 384l7-7M391 377l7 7M391 384l7-7M391 377l7 7M391 384l7-7M391 376l7 7M391 383l7-7M392 377l7 7M392 384l7-7M392 378l7 7M392 385l7-7M392 377l7 7M392 384l7-7M392 378l7 7M392 385l7-7M392 377l7 7M392 384l7-7M393 378l7 7M393 385l7-7M393 377l7 7M393 384l7-7M393 377l7 7M393 384l7-7M393 377l7 7M393 384l7-7M393 377l7 7M393 384l7-7M393 377l7 7M393 384l7-7M394 377l7 7M394 384l7-7M394 377l7 7M394 384l7-7M394 378l7 7M394 385l7-7M394 378l7 7M394 385l7-7M394 377l7 7M394 384l7-7M395 378l7 7M395 385l7-7M395 377l7 7M395 384l7-7M395 377l7 7M395 384l7-7M395 377l7 7M395 384l7-7M395 377l7 7M395 384l7-7M395 377l7 7M395 384l7-7M396 377l7 7M396 384l7-7M396 377l7 7M396 384l7-7M396 377l7 7M396 384l7-7M396 377l7 7M396 384l7-7M396 377l7 7M396 384l7-7M396 377l7 7M396 384l7-7M397 377l7 7M397 384l7-7M397 377l7 7M397 384l7-7M397 378l7 7M397 385l7-7M397 377l7 7M397 384l7-7M397 377l7 7M397 384l7-7M398 378l7 7M398 385l7-7M398 377l7 7M398 384l7-7M398 377l7 7M398 384l7-7M398 378l7 7M398 385l7-7M398 377l7 7M398 384l7-7M398 377l7 7M398 384l7-7M399 377l7 7M399 384l7-7M399 378l7 7M399 385l7-7M399 377l7 7M399 384l7-7M399 377l7 7M399 384l7-7M399 377l7 7M399 384l7-7M400 377l7 7M400 384l7-7M400 377l7 7M400 384l7-7M400 377l7 7M400 384l7-7M400 377l7 7M400 384l7-7M400 377l7 7M400 384l7-7M400 377l7 7M400 384l7-7M401 377l7 7M401 384l7-7M401 377l7 7M401 384l7-7M401 377l7 7M401 384l7-7M401 377l7 7M401 384l7-7M401 377l7 7M401 384l7-7M402 377l7 7M402 384l7-7M402 378l7 7M402 385l7-7M402 377l7 7M402 384l7-7M402 377l7 7M402 384l7-7M402 377l7 7M402 384l7-7M402 377l7 7M402 384l7-7M403 377l7 7M403 384l7-7M403 377l7 7M403 384l7-7M403 377l7 7M403 384l7-7M403 377l7 7M403 384l7-7M403 378l7 7M403 385l7-7M404 378l7 7M404 385l7-7M404 377l7 7M404 384l7-7M404 377l7 7M404 384l7-7M404 378l7 7M404 385l7-7M404 377l7 7M404 384l7-7M404 377l7 7M404 384l7-7M405 377l7 7M405 384l7-7M405 378l7 7M405 385l7-7M405 377l7 7M405 384l7-7M405 378l7 7M405 385l7-7M405 377l7 7M405 384l7-7M406 377l7 7M406 384l7-7M406 378l7 7M406 385l7-7M406 377l7 7M406 384l7-7M406 377l7 7M406 384l7-7M406 377l7 7M406 384l7-7M406 377l7 7M406 384l7-7M407 377l7 7M407 384l7-7M407 378l7 7M407 385l7-7M407 377l7 7M407 384l7-7M407 377l7 7M407 384l7-7M407 377l7 7M407 384l7-7M407 377l7 7M407 384l7-7M408 377l7 7M408 384l7-7M408 377l7 7M408 384l7-7M408 377l7 7M408 384l7-7M408 377l7 7M408 384l7-7M408 377l7 7M408 384l7-7M409 378l7 7M409 385l7-7M409 378l7 7M409 385l7-7M409 377l7 7M409 384l7-7M409 377l7 7M409 384l7-7M409 378l7 7M409 385l7-7M409 377l7 7M409 384l7-7M410 377l7 7M410 384l7-7M410 377l7 7M410 384l7-7M410 377l7 7M410 384l7-7M410 377l7 7M410 384l7-7M410 377l7 7M410 384l7-7M411 377l7 7M411 384l7-7M411 377l7 7M411 384l7-7M411 377l7 7M411 384l7-7M411 377l7 7M411 384l7-7M411 377l7 7M411 384l7-7M411 377l7 7M411 384l7-7M412 377l7 7M412 384l7-7M412 377l7 7M412 384l7-7M412 378l7 7M412 385l7-7M412 377l7 7M412 384l7-7M412 378l7 7M412 385l7-7M413 378l7 7M413 385l7-7M413 377l7 7M413 384l7-7M413 377l7 7M413 384l7-7M413 377l7 7M413 384l7-7M413 378l7 7M413 385l7-7M413 377l7 7M413 384l7-7M414 377l7 7M414 384l7-7M414 377l7 7M414 384l7-7M414 377l7 7M414 384l7-7M414 377l7 7M414 384l7-7M414 377l7 7M414 384l7-7M415 377l7 7M415 384l7-7M415 378l7 7M415 385l7-7M415 377l7 7M415 384l7-7M415 377l7 7M415 384l7-7M415 377l7 7M415 384l7-7M415 377l7 7M415 384l7-7M416 377l7 7M416 384l7-7M416 377l7 7M416 384l7-7M416 377l7 7M416 384l7-7M416 378l7 7M416 385l7-7M416 377l7 7M416 384l7-7M417 377l7 7M417 384l7-7M417 377l7 7M417 384l7-7M417 377l7 7M417 384l7-7M417 376l7 7M417 383l7-7M417 377l7 7M417 384l7-7M417 377l7 7M417 384l7-7M418 377l7 7M418 384l7-7M418 377l7 7M418 384l7-7M418 377l7 7M418 384l7-7M418 378l7 7M418 385l7-7M418 378l7 7M418 385l7-7M418 377l7 7M418 384l7-7M419 377l7 7M419 384l7-7M419 377l7 7M419 384l7-7M419 377l7 7M419 384l7-7M419 377l7 7M419 384l7-7M419 377l7 7M419 384l7-7M420 377l7 7M420 384l7-7M420 378l7 7M420 385l7-7M420 377l7 7M420 384l7-7M420 378l7 7M420 385l7-7M420 377l7 7M420 384l7-7M420 376l7 7M420 383l7-7M421 377l7 7M421 384l7-7M421 377l7 7M421 384l7-7M421 377l7 7M421 384l7-7M421 377l7 7M421 384l7-7M421 377l7 7M421 384l7-7M422 377l7 7M422 384l7-7M422 377l7 7M422 384l7-7M422 378l7 7M422 385l7-7M422 377l7 7M422 384l7-7M422 378l7 7M422 385l7-7M422 377l7 7M422 384l7-7M423 377l7 7M423 384l7-7M423 377l7 7M423 384l7-7M423 378l7 7M423 385l7-7M423 378l7 7M423 385l7-7M423 377l7 7M423 384l7-7M424 377l7 7M424 384l7-7M424 377l7 7M424 384l7-7M424 377l7 7M424 384l7-7M424 377l7 7M424 384l7-7M424 377l7 7M424 384l7-7M424 378l7 7M424 385l7-7M425 377l7 7M425 384l7-7M425 377l7 7M425 384l7-7M425 377l7 7M425 384l7-7M425 378l7 7M425 385l7-7M425 377l7 7M425 384l7-7M426 377l7 7M426 384l7-7M426 377l7 7M426 384l7-7M426 378l7 7M426 385l7-7M426 377l7 7M426 384l7-7M426 377l7 7M426 384l7-7M426 377l7 7M426 384l7-7M427 377l7 7M427 384l7-7M427 378l7 7M427 385l7-7M427 377l7 7M427 384l7-7M427 378l7 7M427 385l7-7M427 377l7 7M427 384l7-7M428 378l7 7M428 385l7-7M428 377l7 7M428 384l7-7M428 377l7 7M428 384l7-7M428 377l7 7M428 384l7-7M428 377l7 7M428 384l7-7M428 377l7 7M428 384l7-7M429 377l7 7M429 384l7-7M429 377l7 7M429 384l7-7M429 377l7 7M429 384l7-7M429 377l7 7M429 384l7-7M429 378l7 7M429 385l7-7M429 377l7 7M429 384l7-7M430 377l7 7M430 384l7-7M430 377l7 7M430 384l7-7M430 377l7 7M430 384l7-7M430 377l7 7M430 384l7-7M430 377l7 7M430 384l7-7M431 378l7 7M431 385l7-7M431 377l7 7M431 384l7-7M431 377l7 7M431 384l7-7M431 377l7 7M431 384l7-7M431 377l7 7M431 384l7-7M431 377l7 7M431 384l7-7M432 377l7 7M432 384l7-7M432 377l7 7M432 384l7-7M432 377l7 7M432 384l7-7M432 377l7 7M432 384l7-7M432 378l7 7M432 385l7-7M433 377l7 7M433 384l7-7M433 377l7 7M433 384l7-7M433 377l7 7M433 384l7-7M433 378l7 7M433 385l7-7M433 377l7 7M433 384l7-7M433 378l7 7M433 385l7-7M434 377l7 7M434 384l7-7M434 377l7 7M434 384l7-7M434 377l7 7M434 384l7-7M434 377l7 7M434 384l7-7M434 378l7 7M434 385l7-7M435 377l7 7M435 384l7-7M435 377l7 7M435 384l7-7M435 377l7 7M435 384l7-7M435 377l7 7M435 384l7-7M435 377l7 7M435 384l7-7M435 377l7 7M435 384l7-7M436 378l7 7M436 385l7-7M436 378l7 7M436 385l7-7M436 377l7 7M436 384l7-7M436 377l7 7M436 384l7-7M436 377l7 7M436 384l7-7M437 377l7 7M437 384l7-7M437 377l7 7M437 384l7-7M437 377l7 7M437 384l7-7M437 377l7 7M437 384l7-7M437 377l7 7M437 384l7-7M437 377l7 7M437 384l7-7M438 377l7 7M438 384l7-7M438 377l7 7M438 384l7-7M438 377l7 7M438 384l7-7M438 377l7 7M438 384l7-7M438 377l7 7M438 384l7-7M439 377l7 7M439 384l7-7M439 377l7 7M439 384l7-7M439 377l7 7M439 384l7-7M439 377l7 7M439 384l7-7M439 377l7 7M439 384l7-7M439 377l7 7M439 384l7-7M440 378l7 7M440 385l7-7M440 377l7 7M440 384l7-7M440 377l7 7M440 384l7-7M440 377l7 7M440 384l7-7M440 377l7 7M440 384l7-7M440 377l7 7M440 384l7-7M441 377l7 7M441 384l7-7M441 377l7 7M441 384l7-7M441 377l7 7M441 384l7-7M441 377l7 7M441 384l7-7M441 377l7 7M441 384l7-7M442 377l7 7M442 384l7-7M442 378l7 7M442 385l7-7M442 377l7 7M442 384l7-7M442 378l7 7M442 385l7-7M442 377l7 7M442 384l7-7M442 377l7 7M442 384l7-7M443 377l7 7M443 384l7-7M443 377l7 7M443 384l7-7M443 376l7 7M443 383l7-7M443 377l7 7M443 384l7-7M443 377l7 7M443 384l7-7M444 377l7 7M444 384l7-7M444 377l7 7M444 384l7-7M444 377l7 7M444 384l7-7M444 377l7 7M444 384l7-7M444 378l7 7M444 385l7-7M444 377l7 7M444 384l7-7M445 377l7 7M445 384l7-7M445 377l7 7M445 384l7-7M445 377l7 7M445 384l7-7M445 378l7 7M445 385l7-7M445 377l7 7M445 384l7-7M446 378l7 7M446 385l7-7M446 378l7 7M446 385l7-7M446 377l7 7M446 384l7-7M446 378l7 7M446 385l7-7M446 377l7 7M446 384l7-7M446 377l7 7M446 384l7-7M447 378l7 7M447 385l7-7M447 377l7 7M447 384l7-7M447 377l7 7M447 384l7-7M447 377l7 7M447 384l7-7M447 377l7 7M447 384l7-7M448 377l7 7M448 384l7-7M448 377l7 7M448 384l7-7M448 377l7 7M448 384l7-7M448 377l7 7M448 384l7-7M448 378l7 7M448 385l7-7M448 377l7 7M448 384l7-7M449 377l7 7M449 384l7-7M449 377l7 7M449 384l7-7M449 377l7 7M449 384l7-7M449 377l7 7M449 384l7-7M449 377l7 7M449 384l7-7M450 377l7 7M450 384l7-7M450 377l7 7M450 384l7-7M450 377l7 7M450 384l7-7M450 378l7 7M450 385l7-7M450 377l7 7M450 384l7-7M450 377l7 7M450 384l7-7M451 377l7 7M451 384l7-7M451 376l7 7M451 383l7-7M451 377l7 7M451 384l7-7M451 377l7 7M451 384l7-7M451 378l7 7M451 385l7-7M451 377l7 7M451 384l7-7M452 377l7 7M452 384l7-7M452 377l7 7M452 384l7-7M452 377l7 7M452 384l7-7M452 377l7 7M452 384l7-7M452 377l7 7M452 384l7-7M453 377l7 7M453 384l7-7M453 377l7 7M453 384l7-7M453 377l7 7M453 384l7-7M453 378l7 7M453 385l7-7M453 377l7 7M453 384l7-7M453 377l7 7M453 384l7-7M454 377l7 7M454 384l7-7M454 377l7 7M454 384l7-7M454 377l7 7M454 384l7-7M454 377l7 7M454 384l7-7M454 377l7 7M454 384l7-7M455 378l7 7M455 385l7-7M455 378l7 7M455 385l7-7M455 377l7 7M455 384l7-7M455 378l7 7M455 385l7-7M455 377l7 7M455 384l7-7M455 377l7 7M455 384l7-7M456 378l7 7M456 385l7-7M456 377l7 7M456 384l7-7M456 377l7 7M456 384l7-7M456 377l7 7M456 384l7-7M456 377l7 7M456 384l7-7M457 377l7 7M457 384l7-7M457 378l7 7M457 385l7-7M457 378l7 7M457 385l7-7M457 377l7 7M457 384l7-7M457 377l7 7M457 384l7-7M457 377l7 7M457 384l7-7M458 377l7 7M458 384l7-7M458 378l7 7M458 385l7-7M458 377l7 7M458 384l7-7M458 377l7 7M458 384l7-7M458 377l7 7M458 384l7-7M459 377l7 7M459 384l7-7M459 377l7 7M459 384l7-7M459 377l7 7M459 384l7-7M459 377l7 7M459 384l7-7M459 377l7 7M459 384l7-7M459 378l7 7M459 385l7-7M460 377l7 7M460 384l7-7M460 377l7 7M460 384l7-7M460 377l7 7M460 384l7-7M460 377l7 7M460 384l7-7M460 377l7 7M460 384l7-7M461 377l7 7M461 384l7-7M461 377l7 7M461 384l7-7M461 378l7 7M461 385l7-7M461 377l7 7M461 384l7-7M461 377l7 7M461 384l7-7M461 377l7 7M461 384l7-7M462 377l7 7M462 384l7-7M462 378l7 7M462 385l7-7M462 377l7 7M462 384l7-7M462 377l7 7M462 384l7-7M462 378l7 7M462 385l7-7M463 377l7 7M463 384l7-7M463 377l7 7M463 384l7-7M463 378l7 7M463 385l7-7M463 377l7 7M463 384l7-7M463 377l7 7M463 384l7-7M463 377l7 7M463 384l7-7M464 377l7 7M464 384l7-7M464 377l7 7M464 384l7-7M464 377l7 7M464 384l7-7M464 377l7 7M464 384l7-7M464 377l7 7M464 384l7-7M464 377l7 7M464 384l7-7M465 377l7 7M465 384l7-7M465 377l7 7M465 384l7-7M465 378l7 7M465 385l7-7M465 377l7 7M465 384l7-7M465 377l7 7M465 384l7-7M466 377l7 7M466 384l7-7M466 377l7 7M466 384l7-7M466 378l7 7M466 385l7-7M466 377l7 7M466 384l7-7M466 378l7 7M466 385l7-7M466 377l7 7M466 384l7-7M467 377l7 7M467 384l7-7M467 377l7 7M467 384l7-7M467 377l7 7M467 384l7-7M467 378l7 7M467 385l7-7M467 377l7 7M467 384l7-7M468 378l7 7M468 385l7-7M468 377l7 7M468 384l7-7M468 377l7 7M468 384l7-7M468 377l7 7M468 384l7-7M468 377l7 7M468 384l7-7M468 377l7 7M468 384l7-7M469 377l7 7M469 384l7-7M469 377l7 7M469 384l7-7M469 377l7 7M469 384l7-7M469 377l7 7M469 384l7-7M469 377l7 7M469 384l7-7M470 377l7 7M470 384l7-7M470 377l7 7M470 384l7-7M470 377l7 7M470 384l7-7M470 377l7 7M470 384l7-7M470 377l7 7M470 384l7-7M470 377l7 7M470 384l7-7M471 378l7 7M471 385l7-7M471 377l7 7M471 384l7-7M471 377l7 7M471 384l7-7M471 377l7 7M471 384l7-7M471 378l7 7M471 385l7-7M472 377l7 7M472 384l7-7M472 378l7 7M472 385l7-7M472 377l7 7M472 384l7-7M472 377l7 7M472 384l7-7M472 378l7 7M472 385l7-7M472 377l7 7M472 384l7-7M473 377l7 7M473 384l7-7M473 377l7 7M473 384l7-7M473 377l7 7M473 384l7-7M473 378l7 7M473 385l7-7M473 377l7 7M473 384l7-7M474 378l7 7M474 385l7-7M474 377l7 7M474 384l7-7M474 377l7 7M474 384l7-7M474 378l7 7M474 385l7-7M474 378l7 7M474 385l7-7M474 377l7 7M474 384l7-7M475 376l7 7M475 383l7-7M475 378l7 7M475 385l7-7M475 377l7 7M475 384l7-7M475 377l7 7M475 384l7-7M475 377l7 7M475 384l7-7M475 377l7 7M475 384l7-7M476 377l7 7M476 384l7-7M476 377l7 7M476 384l7-7M476 377l7 7M476 384l7-7M476 378l7 7M476 385l7-7M476 377l7 7M476 384l7-7M477 377l7 7M477 384l7-7M477 378l7 7M477 385l7-7M477 377l7 7M477 384l7-7M477 378l7 7M477 385l7-7M477 377l7 7M477 384l7-7M477 377l7 7M477 384l7-7M478 377l7 7M478 384l7-7M478 377l7 7M478 384l7-7M478 378l7 7M478 385l7-7M478 377l7 7M478 384l7-7M478 377l7 7M478 384l7-7M479 377l7 7M479 384l7-7M479 378l7 7M479 385l7-7M479 377l7 7M479 384l7-7M479 377l7 7M479 384l7-7M479 377l7 7M479 384l7-7M479 377l7 7M479 384l7-7M480 377l7 7M480 384l7-7M480 378l7 7M480 385l7-7M480 377l7 7M480 384l7-7M480 377l7 7M480 384l7-7M480 378l7 7M480 385l7-7M481 377l7 7M481 384l7-7M481 377l7 7M481 384l7-7M481 377l7 7M481 384l7-7M481 377l7 7M481 384l7-7M481 377l7 7M481 384l7-7M481 377l7 7M481 384l7-7M482 377l7 7M482 384l7-7M482 377l7 7M482 384l7-7M482 377l7 7M482 384l7-7M482 378l7 7M482 385l7-7M482 377l7 7M482 384l7-7M483 377l7 7M483 384l7-7M483 377l7 7M483 384l7-7M483 378l7 7M483 385l7-7M483 377l7 7M483 384l7-7M483 377l7 7M483 384l7-7M483 377l7 7M483 384l7-7M484 377l7 7M484 384l7-7M484 377l7 7M484 384l7-7M484 377l7 7M484 384l7-7M484 377l7 7M484 384l7-7M484 377l7 7M484 384l7-7M485 377l7 7M485 384l7-7M485 377l7 7M485 384l7-7M485 377l7 7M485 384l7-7M485 377l7 7M485 384l7-7M485 378l7 7M485 385l7-7M485 377l7 7M485 384l7-7M486 378l7 7M486 385l7-7M486 377l7 7M486 384l7-7M486 377l7 7M486 384l7-7M486 377l7 7M486 384l7-7M486 377l7 7M486 384l7-7M486 377l7 7M486 384l7-7M487 377l7 7M487 384l7-7M487 376l7 7M487 383l7-7M487 377l7 7M487 384l7-7M487 377l7 7M487 384l7-7M487 378l7 7M487 385l7-7M488 377l7 7M488 384l7-7M488 377l7 7M488 384l7-7M488 377l7 7M488 384l7-7M488 377l7 7M488 384l7-7M488 378l7 7M488 385l7-7M488 376l7 7M488 383l7-7M489 378l7 7M489 385l7-7M489 377l7 7M489 384l7-7M489 377l7 7M489 384l7-7M489 378l7 7M489 385l7-7M489 377l7 7M489 384l7-7M490 377l7 7M490 384l7-7M490 377l7 7M490 384l7-7M490 378l7 7M490 385l7-7M490 377l7 7M490 384l7-7M490 378l7 7M490 385l7-7M490 376l7 7M490 383l7-7M491 377l7 7M491 384l7-7M491 378l7 7M491 385l7-7M491 378l7 7M491 385l7-7M491 377l7 7M491 384l7-7M491 377l7 7M491 384l7-7M492 378l7 7M492 385l7-7M492 377l7 7M492 384l7-7M492 378l7 7M492 385l7-7M492 377l7 7M492 384l7-7M492 377l7 7M492 384l7-7M492 377l7 7M492 384l7-7M493 377l7 7M493 384l7-7M493 377l7 7M493 384l7-7M493 378l7 7M493 385l7-7M493 377l7 7M493 384l7-7M493 378l7 7M493 385l7-7M494 377l7 7M494 384l7-7M494 377l7 7M494 384l7-7M494 377l7 7M494 384l7-7M494 378l7 7M494 385l7-7M494 377l7 7M494 384l7-7M494 377l7 7M494 384l7-7M495 377l7 7M495 384l7-7M495 377l7 7M495 384l7-7M495 377l7 7M495 384l7-7M495 377l7 7M495 384l7-7M495 377l7 7M495 384l7-7M496 378l7 7M496 385l7-7M496 377l7 7M496 384l7-7M496 377l7 7M496 384l7-7M496 377l7 7M496 384l7-7M496 378l7 7M496 385l7-7M496 378l7 7M496 385l7-7M497 378l7 7M497 385l7-7M497 378l7 7M497 385l7-7M497 377l7 7M497 384l7-7M497 377l7 7M497 384l7-7M497 378l7 7M497 385l7-7M497 377l7 7M497 384l7-7M498 377l7 7M498 384l7-7M498 378l7 7M498 385l7-7M498 377l7 7M498 384l7-7M498 377l7 7M498 384l7-7M498 377l7 7M498 384l7-7M499 378l7 7M499 385l7-7M499 377l7 7M499 384l7-7M499 377l7 7M499 384l7-7M499 377l7 7M499 384l7-7M499 378l7 7M499 385l7-7M499 377l7 7M499 384l7-7M500 377l7 7M500 384l7-7M500 378l7 7M500 385l7-7M500 377l7 7M500 384l7-7M500 377l7 7M500 384l7-7M500 378l7 7M500 385l7-7M501 377l7 7M501 384l7-7M501 378l7 7M501 385l7-7M501 378l7 7M501 385l7-7M501 377l7 7M501 384l7-7M501 377l7 7M501 384l7-7M501 377l7 7M501 384l7-7M502 377l7 7M502 384l7-7M502 377l7 7M502 384l7-7M502 377l7 7M502 384l7-7M502 377l7 7M502 384l7-7M502 376l7 7M502 383l7-7M503 377l7 7M503 384l7-7M503 378l7 7M503 385l7-7M503 377l7 7M503 384l7-7M503 378l7 7M503 385l7-7M503 377l7 7M503 384l7-7M503 377l7 7M503 384l7-7M504 378l7 7M504 385l7-7M504 378l7 7M504 385l7-7M504 377l7 7M504 384l7-7M504 377l7 7M504 384l7-7M504 378l7 7M504 385l7-7M505 377l7 7M505 384l7-7M505 377l7 7M505 384l7-7M505 377l7 7M505 384l7-7M505 377l7 7M505 384l7-7M505 378l7 7M505 385l7-7M505 377l7 7M505 384l7-7M506 377l7 7M506 384l7-7M506 377l7 7M506 384l7-7M506 377l7 7M506 384l7-7M506 377l7 7M506 384l7-7M506 378l7 7M506 385l7-7M507 377l7 7M507 384l7-7M507 377l7 7M507 384l7-7M507 377l7 7M507 384l7-7M507 378l7 7M507 385l7-7M507 378l7 7M507 385l7-7M507 378l7 7M507 385l7-7M508 377l7 7M508 384l7-7M508 377l7 7M508 384l7-7M508 378l7 7M508 385l7-7M508 377l7 7M508 384l7-7M508 376l7 7M508 383l7-7M508 377l7 7M508 384l7-7M509 378l7 7M509 385l7-7M509 377l7 7M509 384l7-7M509 378l7 7M509 385l7-7M509 378l7 7M509 385l7-7M509 377l7 7M509 384l7-7M510 377l7 7M510 384l7-7M510 377l7 7M510 384l7-7M510 377l7 7M510 384l7-7M510 377l7 7M510 384l7-7M510 377l7 7M510 384l7-7M510 377l7 7M510 384l7-7M511 378l7 7M511 385l7-7M511 378l7 7M511 385l7-7M511 377l7 7M511 384l7-7M511 377l7 7M511 384l7-7M511 377l7 7M511 384l7-7M512 377l7 7M512 384l7-7M512 377l7 7M512 384l7-7M512 378l7 7M512 385l7-7M512 377l7 7M512 384l7-7M512 377l7 7M512 384l7-7M512 377l7 7M512 384l7-7M513 377l7 7M513 384l7-7M513 377l7 7M513 384l7-7M513 378l7 7M513 385l7-7M513 378l7 7M513 385l7-7M513 377l7 7M513 384l7-7M514 377l7 7M514 384l7-7M514 377l7 7M514 384l7-7M514 378l7 7M514 385l7-7M514 377l7 7M514 384l7-7M514 377l7 7M514 384l7-7M514 377l7 7M514 384l7-7M515 378l7 7M515 385l7-7M515 377l7 7M515 384l7-7M515 377l7 7M515 384l7-7M515 377l7 7M515 384l7-7M515 378l7 7M515 385l7-7M516 378l7 7M516 385l7-7M516 377l7 7M516 384l7-7M516 377l7 7M516 384l7-7M516 377l7 7M516 384l7-7M516 377l7 7M516 384l7-7M516 377l7 7M516 384l7-7M517 378l7 7M517 385l7-7M517 377l7 7M517 384l7-7M517 378l7 7M517 385l7-7M517 377l7 7M517 384l7-7M517 377l7 7M517 384l7-7M518 377l7 7M518 384l7-7M518 377l7 7M518 384l7-7M518 378l7 7M518 385l7-7M518 377l7 7M518 384l7-7M518 378l7 7M518 385l7-7M518 377l7 7M518 384l7-7M519 377l7 7M519 384l7-7M519 377l7 7M519 384l7-7M519 378l7 7M519 385l7-7M519 377l7 7M519 384l7-7M519 377l7 7M519 384l7-7M519 377l7 7M519 384l7-7M520 378l7 7M520 385l7-7M520 378l7 7M520 385l7-7M520 377l7 7M520 384l7-7M520 377l7 7M520 384l7-7M520 377l7 7M520 384l7-7M521 378l7 7M521 385l7-7M521 377l7 7M521 384l7-7M521 377l7 7M521 384l7-7M521 378l7 7M521 385l7-7M521 378l7 7M521 385l7-7M521 377l7 7M521 384l7-7M522 377l7 7M522 384l7-7M522 377l7 7M522 384l7-7M522 377l7 7M522 384l7-7M522 377l7 7M522 384l7-7M522 378l7 7M522 385l7-7M523 378l7 7M523 385l7-7M523 377l7 7M523 384l7-7M523 377l7 7M523 384l7-7M523 377l7 7M523 384l7-7M523 378l7 7M523 385l7-7M523 377l7 7M523 384l7-7M524 377l7 7M524 384l7-7M524 377l7 7M524 384l7-7M524 378l7 7M524 385l7-7M524 378l7 7M524 385l7-7M524 377l7 7M524 384l7-7M525 377l7 7M525 384l7-7M525 377l7 7M525 384l7-7M525 377l7 7M525 384l7-7M525 377l7 7M525 384l7-7M525 378l7 7M525 385l7-7M525 377l7 7M525 384l7-7M526 377l7 7M526 384l7-7M526 377l7 7M526 384l7-7M526 377l7 7M526 384l7-7M526 378l7 7M526 385l7-7M526 377l7 7M526 384l7-7M527 378l7 7M527 385l7-7M527 377l7 7M527 384l7-7M527 378l7 7M527 385l7-7M527 377l7 7M527 384l7-7M527 378l7 7M527 385l7-7M527 377l7 7M527 384l7-7M528 377l7 7M528 384l7-7M528 377l7 7M528 384l7-7M528 377l7 7M528 384l7-7M528 377l7 7M528 384l7-7M528 377l7 7M528 384l7-7M529 378l7 7M529 385l7-7M529 377l7 7M529 384l7-7M529 378l7 7M529 385l7-7M529 377l7 7M529 384l7-7M529 378l7 7M529 385l7-7M529 377l7 7M529 384l7-7M530 378l7 7M530 385l7-7M530 377l7 7M530 384l7-7M530 377l7 7M530 384l7-7M530 377l7 7M530 384l7-7M530 377l7 7M530 384l7-7M530 377l7 7M530 384l7-7M531 378l7 7M531 385l7-7M531 377l7 7M531 384l7-7M531 377l7 7M531 384l7-7M531 377l7 7M531 384l7-7M531 377l7 7M531 384l7-7M532 377l7 7M532 384l7-7M532 378l7 7M532 385l7-7M532 377l7 7M532 384l7-7M532 377l7 7M532 384l7-7M532 378l7 7M532 385l7-7M532 377l7 7M532 384l7-7M533 377l7 7M533 384l7-7M533 377l7 7M533 384l7-7M533 377l7 7M533 384l7-7M533 377l7 7M533 384l7-7M533 377l7 7M533 384l7-7M534 377l7 7M534 384l7-7M534 378l7 7M534 385l7-7M534 377l7 7M534 384l7-7M534 377l7 7M534 384l7-7M534 378l7 7M534 385l7-7M534 377l7 7M534 384l7-7M535 378l7 7M535 385l7-7M535 377l7 7M535 384l7-7M535 377l7 7M535 384l7-7M535 378l7 7M535 385l7-7M535 377l7 7M535 384l7-7M536 377l7 7M536 384l7-7M536 377l7 7M536 384l7-7M536 378l7 7M536 385l7-7M536 377l7 7M536 384l7-7M536 377l7 7M536 384l7-7M536 377l7 7M536 384l7-7M537 377l7 7M537 384l7-7M537 377l7 7M537 384l7-7M537 377l7 7M537 384l7-7M537 377l7 7M537 384l7-7M537 377l7 7M537 384l7-7M538 377l7 7M538 384l7-7M538 377l7 7M538 384l7-7M538 377l7 7M538 384l7-7M538 377l7 7M538 384l7-7M538 378l7 7M538 385l7-7M538 377l7 7M538 384l7-7M539 377l7 7M539 384l7-7M539 377l7 7M539 384l7-7M539 377l7 7M539 384l7-7M539 377l7 7M539 384l7-7M539 378l7 7M539 385l7-7M540 377l7 7M540 384l7-7M540 377l7 7M540 384l7-7M540 378l7 7M540 385l7-7M540 378l7 7M540 385l7-7M540 377l7 7M540 384l7-7M540 378l7 7M540 385l7-7M541 376l7 7M541 383l7-7M541 377l7 7M541 384l7-7M541 377l7 7M541 384l7-7M541 378l7 7M541 385l7-7M541 377l7 7M541 384l7-7M541 378l7 7M541 385l7-7M542 378l7 7M542 385l7-7M542 377l7 7M542 384l7-7M542 378l7 7M542 385l7-7M542 377l7 7M542 384l7-7M542 378l7 7M542 385l7-7M543 377l7 7M543 384l7-7M543 378l7 7M543 385l7-7M543 378l7 7M543 385l7-7M543 377l7 7M543 384l7-7M543 378l7 7M543 385l7-7M543 377l7 7M543 384l7-7M544 378l7 7M544 385l7-7M544 377l7 7M544 384l7-7M544 377l7 7M544 384l7-7M544 378l7 7M544 385l7-7M544 378l7 7M544 385l7-7M545 377l7 7M545 384l7-7M545 377l7 7M545 384l7-7M545 378l7 7M545 385l7-7M545 377l7 7M545 384l7-7M545 378l7 7M545 385l7-7M545 377l7 7M545 384l7-7M546 377l7 7M546 384l7-7M546 378l7 7M546 385l7-7M546 377l7 7M546 384l7-7M546 377l7 7M546 384l7-7M546 377l7 7M546 384l7-7M547 378l7 7M547 385l7-7M547 377l7 7M547 384l7-7M547 378l7 7M547 385l7-7M547 378l7 7M547 385l7-7M547 378l7 7M547 385l7-7M547 378l7 7M547 385l7-7M548 378l7 7M548 385l7-7M548 378l7 7M548 385l7-7M548 378l7 7M548 385l7-7M548 377l7 7M548 384l7-7M548 377l7 7M548 384l7-7M549 378l7 7M549 385l7-7M549 377l7 7M549 384l7-7M549 377l7 7M549 384l7-7M549 377l7 7M549 384l7-7M549 377l7 7M549 384l7-7M549 377l7 7M549 384l7-7M550 377l7 7M550 384l7-7M550 378l7 7M550 385l7-7M550 378l7 7M550 385l7-7M550 378l7 7M550 385l7-7M550 377l7 7M550 384l7-7M551 377l7 7M551 384l7-7M551 377l7 7M551 384l7-7M551 378l7 7M551 385l7-7M551 377l7 7M551 384l7-7M551 377l7 7M551 384l7-7M551 377l7 7M551 384l7-7M552 378l7 7M552 385l7-7M552 377l7 7M552 384l7-7M552 377l7 7M552 384l7-7M552 377l7 7M552 384l7-7M552 378l7 7M552 385l7-7M553 378l7 7M553 385l7-7M553 378l7 7M553 385l7-7M553 378l7 7M553 385l7-7M553 377l7 7M553 384l7-7M553 377l7 7M553 384l7-7M553 378l7 7M553 385l7-7M554 377l7 7M554 384l7-7M554 377l7 7M554 384l7-7M554 377l7 7M554 384l7-7M554 378l7 7M554 385l7-7M554 377l7 7M554 384l7-7M554 378l7 7M554 385l7-7M555 377l7 7M555 384l7-7M555 378l7 7M555 385l7-7M555 377l7 7M555 384l7-7M555 377l7 7M555 384l7-7M555 377l7 7M555 384l7-7M556 378l7 7M556 385l7-7M556 377l7 7M556 384l7-7M556 377l7 7M556 384l7-7M556 378l7 7M556 385l7-7M556 377l7 7M556 384l7-7M556 378l7 7M556 385l7-7M557 378l7 7M557 385l7-7M557 377l7 7M557 384l7-7M557 378l7 7M557 385l7-7M557 377l7 7M557 384l7-7M557 377l7 7M557 384l7-7M558 378l7 7M558 385l7-7M558 378l7 7M558 385l7-7M558 378l7 7M558 385l7-7M558 377l7 7M558 384l7-7M558 377l7 7M558 384l7-7M558 378l7 7M558 385l7-7M559 378l7 7M559 385l7-7M559 377l7 7M559 384l7-7M559 377l7 7M559 384l7-7M559 377l7 7M559 384l7-7M559 377l7 7M559 384l7-7M560 377l7 7M560 384l7-7M560 378l7 7M560 385l7-7M560 377l7 7M560 384l7-7M560 377l7 7M560 384l7-7M560 377l7 7M560 384l7-7M560 377l7 7M560 384l7-7M561 378l7 7M561 385l7-7M561 377l7 7M561 384l7-7M561 377l7 7M561 384l7-7M561 377l7 7M561 384l7-7M561 377l7 7M561 384l7-7M562 377l7 7M562 384l7-7M562 377l7 7M562 384l7-7M562 377l7 7M562 384l7-7M562 377l7 7M562 384l7-7M562 377l7 7M562 384l7-7M562 378l7 7M562 385l7-7M563 377l7 7M563 384l7-7M563 377l7 7M563 384l7-7M563 377l7 7M563 384l7-7M563 377l7 7M563 384l7-7M563 378l7 7M563 385l7-7M564 377l7 7M564 384l7-7M564 378l7 7M564 385l7-7M564 377l7 7M564 384l7-7M564 378l7 7M564 385l7-7M564 377l7 7M564 384l7-7M564 377l7 7M564 384l7-7M565 378l7 7M565 385l7-7M565 378l7 7M565 385l7-7M565 377l7 7M565 384l7-7M565 378l7 7M565 385l7-7M565 377l7 7M565 384l7-7M565 377l7 7M565 384l7-7M566 377l7 7M566 384l7-7M566 378l7 7M566 385l7-7M566 377l7 7M566 384l7-7M566 378l7 7M566 385l7-7M566 377l7 7M566 384l7-7M567 377l7 7M567 384l7-7M567 378l7 7M567 385l7-7M567 378l7 7M567 385l7-7M567 378l7 7M567 385l7-7M567 377l7 7M567 384l7-7M567 378l7 7M567 385l7-7M568 378l7 7M568 385l7-7M568 377l7 7M568 384l7-7M568 377l7 7M568 384l7-7M568 377l7 7M568 384l7-7M568 378l7 7M568 385l7-7M569 378l7 7M569 385l7-7M569 377l7 7M569 384l7-7M569 377l7 7M569 384l7-7M569 378l7 7M569 385l7-7M569 377l7 7M569 384l7-7M569 377l7 7M569 384l7-7M570 378l7 7M570 385l7-7M570 377l7 7M570 384l7-7M570 377l7 7M570 384l7-7M570 377l7 7M570 384l7-7M570 377l7 7M570 384l7-7M571 378l7 7M571 385l7-7M571 378l7 7M571 385l7-7M571 378l7 7M571 385l7-7M571 377l7 7M571 384l7-7M571 378l7 7M571 385l7-7M571 378l7 7M571 385l7-7M572 377l7 7M572 384l7-7M572 378l7 7M572 385l7-7M572 377l7 7M572 384l7-7M572 378l7 7M572 385l7-7M572 377l7 7M572 384l7-7M573 377l7 7M573 384l7-7M573 378l7 7M573 385l7-7M573 377l7 7M573 384l7-7M573 378l7 7M573 385l7-7M573 378l7 7M573 385l7-7M573 378l7 7M573 385l7-7M574 377l7 7M574 384l7-7M574 378l7 7M574 385l7-7M574 377l7 7M574 384l7-7M574 377l7 7M574 384l7-7M574 377l7 7M574 384l7-7M575 378l7 7M575 385l7-7M575 377l7 7M575 384l7-7M575 378l7 7M575 385l7-7M575 378l7 7M575 385l7-7M575 377l7 7M575 384l7-7M575 377l7 7M575 384l7-7M576 377l7 7M576 384l7-7M576 378l7 7M576 385l7-7M576 378l7 7M576 385l7-7M576 378l7 7M576 385l7-7M576 377l7 7M576 384l7-7M576 377l7 7M576 384l7-7M577 377l7 7M577 384l7-7M577 377l7 7M577 384l7-7M577 377l7 7M577 384l7-7M577 378l7 7M577 385l7-7M577 378l7 7M577 385l7-7M578 378l7 7M578 385l7-7M578 378l7 7M578 385l7-7M578 377l7 7M578 384l7-7M578 377l7 7M578 384l7-7M578 378l7 7M578 385l7-7M578 377l7 7M578 384l7-7M579 377l7 7M579 384l7-7M579 378l7 7M579 385l7-7M579 378l7 7M579 385l7-7M579 377l7 7M579 384l7-7M579 377l7 7M579 384l7-7M580 377l7 7M580 384l7-7M580 377l7 7M580 384l7-7M580 377l7 7M580 384l7-7M580 378l7 7M580 385l7-7M580 378l7 7M580 385l7-7M580 378l7 7M580 385l7-7M581 378l7 7M581 385l7-7M581 377l7 7M581 384l7-7M581 377l7 7M581 384l7-7M581 377l7 7M581 384l7-7M581 378l7 7M581 385l7-7M582 377l7 7M582 384l7-7M582 378l7 7M582 385l7-7M582 377l7 7M582 384l7-7M582 377l7 7M582 384l7-7M582 377l7 7M582 384l7-7M582 377l7 7M582 384l7-7M583 377l7 7M583 384l7-7M583 377l7 7M583 384l7-7M583 377l7 7M583 384l7-7M583 378l7 7M583 385l7-7M583 377l7 7M583 384l7-7M584 378l7 7M584 385l7-7M584 378l7 7M584 385l7-7M584 377l7 7M584 384l7-7M584 378l7 7M584 385l7-7M584 378l7 7M584 385l7-7M584 378l7 7M584 385l7-7M585 377l7 7M585 384l7-7M585 377l7 7M585 384l7-7M585 377l7 7M585 384l7-7M585 377l7 7M585 384l7-7M585 378l7 7M585 385l7-7M586 377l7 7M586 384l7-7M586 377l7 7M586 384l7-7M586 377l7 7M586 384l7-7M586 378l7 7M586 385l7-7M586 377l7 7M586 384l7-7M586 378l7 7M586 385l7-7M587 377l7 7M587 384l7-7M587 377l7 7M587 384l7-7M587 377l7 7M587 384l7-7M587 377l7 7M587 384l7-7M587 377l7 7M587 384l7-7M587 378l7 7M587 385l7-7M588 377l7 7M588 384l7-7M588 377l7 7M588 384l7-7M588 378l7 7M588 385l7-7M588 378l7 7M588 385l7-7M588 378l7 7M588 385l7-7M589 377l7 7M589 384l7-7M589 378l7 7M589 385l7-7M589 378l7 7M589 385l7-7M589 378l7 7M589 385l7-7M589 378l7 7M589 385l7-7M589 378l7 7M589 385l7-7M590 377l7 7M590 384l7-7M590 377l7 7M590 384l7-7M590 377l7 7M590 384l7-7M590 377l7 7M590 384l7-7M590 378l7 7M590 385l7-7M591 377l7 7M591 384l7-7M591 377l7 7M591 384l7-7M591 377l7 7M591 384l7-7M591 378l7 7M591 385l7-7M591 378l7 7M591 385l7-7M591 377l7 7M591 384l7-7M592 378l7 7M592 385l7-7M592 378l7 7M592 385l7-7M592 377l7 7M592 384l7-7M592 378l7 7M592 385l7-7M592 378l7 7M592 385l7-7M593 378l7 7M593 385l7-7M593 378l7 7M593 385l7-7M593 377l7 7M593 384l7-7M593 377l7 7M593 384l7-7M593 378l7 7M593 385l7-7M593 378l7 7M593 385l7-7M594 378l7 7M594 385l7-7M594 378l7 7M594 385l7-7M594 378l7 7M594 385l7-7M594 377l7 7M594 384l7-7M594 377l7 7M594 384l7-7M595 377l7 7M595 384l7-7M595 378l7 7M595 385l7-7M595 378l7 7M595 385l7-7M595 377l7 7M595 384l7-7M595 377l7 7M595 384l7-7M595 378l7 7M595 385l7-7M596 378l7 7M596 385l7-7M596 378l7 7M596 385l7-7M596 377l7 7M596 384l7-7M596 378l7 7M596 385l7-7M596 378l7 7M596 385l7-7M597 378l7 7M597 385l7-7M597 378l7 7M597 385l7-7M597 378l7 7M597 385l7-7M597 378l7 7M597 385l7-7M597 378l7 7M597 385l7-7M597 378l7 7M597 385l7-7M598 378l7 7M598 385l7-7M598 377l7 7M598 384l7-7M598 378l7 7M598 385l7-7M598 378l7 7M598 385l7-7M598 378l7 7M598 385l7-7M598 378l7 7M598 385l7-7M599 378l7 7M599 385l7-7M599 378l7 7M599 385l7-7M599 378l7 7M599 385l7-7M599 377l7 7M599 384l7-7M599 378l7 7M599 385l7-7M600 378l7 7M600 385l7-7M600 378l7 7M600 385l7-7M600 377l7 7M600 384l7-7M600 378l7 7M600 385l7-7M600 378l7 7M600 385l7-7M600 378l7 7M600 385l7-7M601 378l7 7M601 385l7-7M601 377l7 7M601 384l7-7M601 378l7 7M601 385l7-7M601 378l7 7M601 385l7-7M601 378l7 7M601 385l7-7M602 378l7 7M602 385l7-7M602 378l7 7M602 385l7-7M602 378l7 7M602 385l7-7M602 378l7 7M602 385l7-7M602 378l7 7M602 385l7-7M602 378l7 7M602 385l7-7M603 377l7 7M603 384l7-7M603 378l7 7M603 385l7-7M603 378l7 7M603 385l7-7" stroke="#00c000" stroke-width="1" fill="none"/><path d="M101.5 22.5H606.5V381.5H101.5Z" stroke="#000" stroke-width="1" fill="none"/><path d="M315 465.5h7M318.5 462v7" stroke="#f00" stroke-width="1" fill="none"/><path d="M506 462l7 7M506 469l7-7" stroke="#00c000" stroke-width="1" fill="none"/></svg><div class="t yl" style="top:371px">0</div><div class="t yl" style="top:320px">500</div><div class="t yl" style="top:268px">1000</div><div class="t yl" style="top:217px">1500</div><div class="t yl" style="top:166px">2000</div><div class="t yl" style="top:115px">2500</div><div class="t yl" style="top:63px">3000</div><div class="t yl" style="top:12px">3500</div><div class="t xl" style="left:97px;top:390px">200</div><div class="t xl" style="left:169px;top:390px">400</div><div class="t xl" style="left:241px;top:390px">600</div><div class="t xl" style="left:314px;top:390px">800</div><div class="t xl" style="left:386px;top:390px">1000</div><div class="t xl" style="left:458px;top:390px">1200</div><div class="t xl" style="left:530px;top:390px">1400</div><div class="t" style="left:252px;width:200px;text-align:center;top:418px;transform:scaleX(1.04)">Energie [keV]</div><div class="t" style="left:-87px;width:200px;text-align:center;top:192px;transform:rotate(-90deg) scaleX(1.08)">Intenzita [Imp]</div><div class="t" style="left:177px;top:455px;transform-origin:0 50%;transform:scaleX(1.03)">0 mm pozadi</div><div class="t" style="left:372px;top:455px;transform-origin:0 50%;transform:scaleX(1.023)">0 mm zarice</div></body></html>
